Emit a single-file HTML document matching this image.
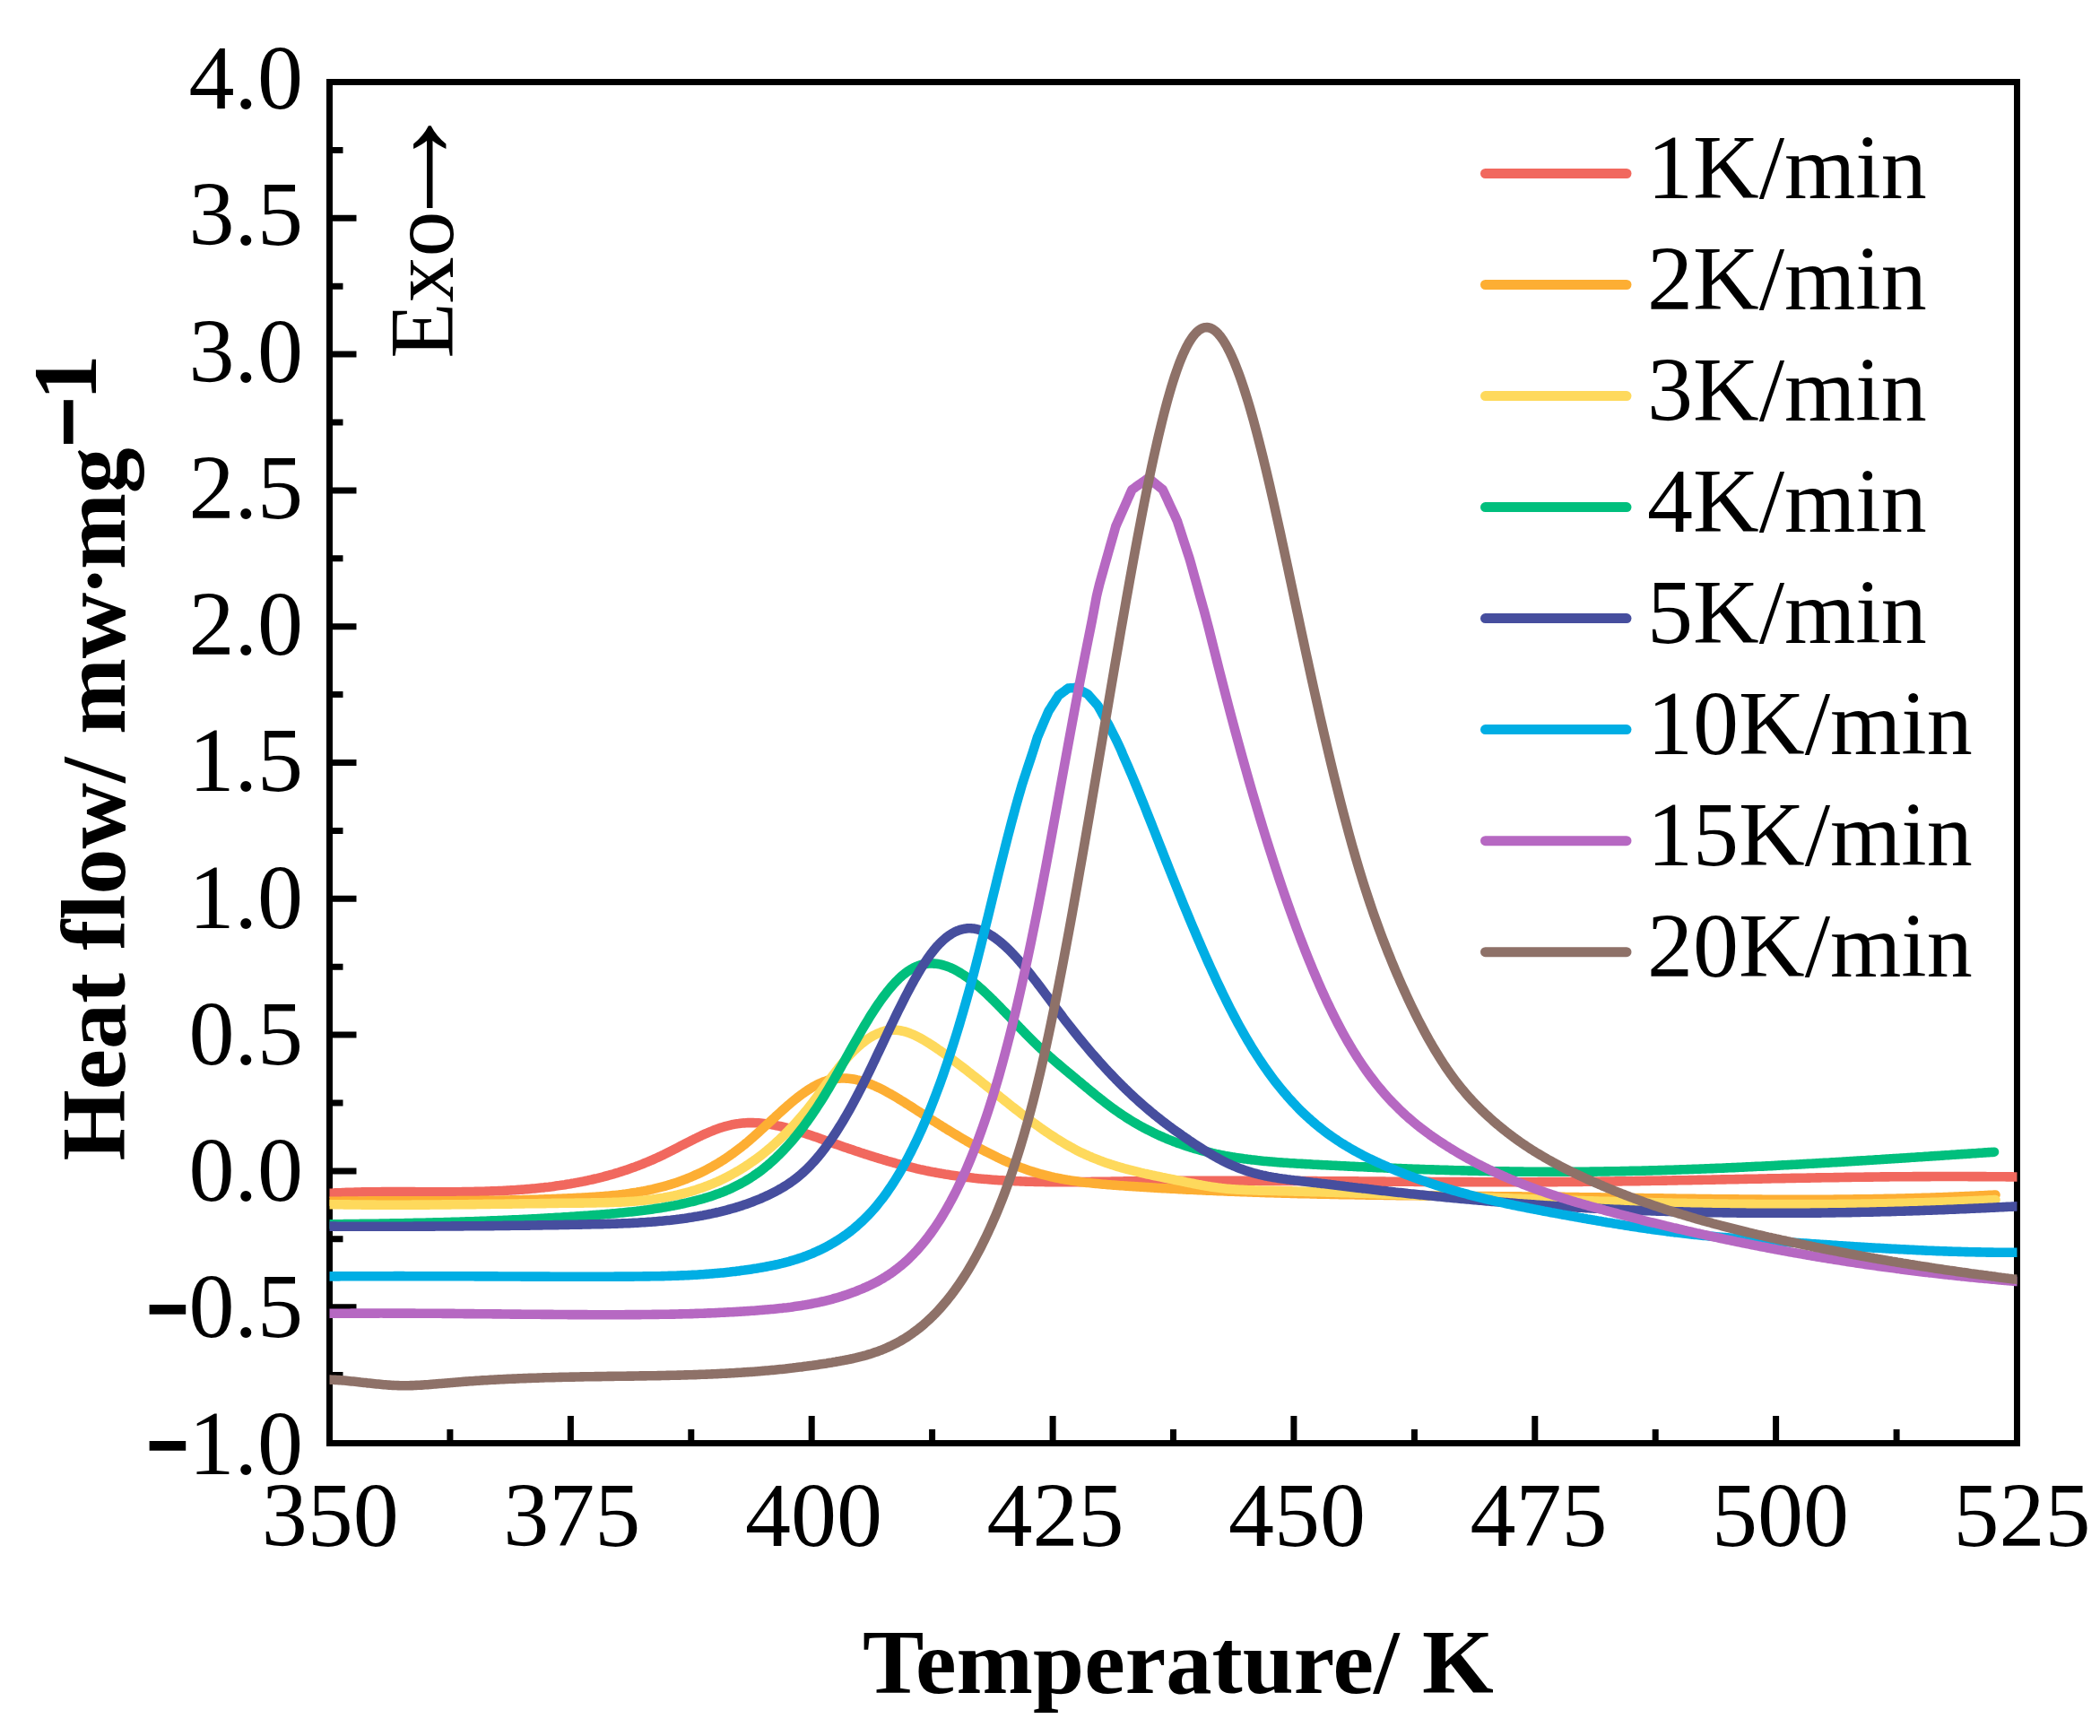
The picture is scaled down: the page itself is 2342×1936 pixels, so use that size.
<!DOCTYPE html>
<html lang="en"><head><meta charset="utf-8"><title>DSC heat flow curves</title>
<style>html,body{margin:0;padding:0;background:#fff}body{width:2342px;height:1936px;overflow:hidden}svg{display:block}text{font-family:"Liberation Serif","Times New Roman",serif;font-size:102px;fill:#000}.b{font-weight:bold}</style></head><body>
<svg width="2342" height="1936" viewBox="0 0 2342 1936">
<rect width="2342" height="1936" fill="#fff"/>
<g stroke="#000" stroke-width="7" fill="none" stroke-linecap="butt">
<rect x="367.5" y="91.5" width="1882.0" height="1518.0"/>
<path d="M367.5 1609.5 V1579.0 M501.9 1609.5 V1594.0 M636.4 1609.5 V1579.0 M770.8 1609.5 V1594.0 M905.2 1609.5 V1579.0 M1039.6 1609.5 V1594.0 M1174.1 1609.5 V1579.0 M1308.5 1609.5 V1594.0 M1442.9 1609.5 V1579.0 M1577.4 1609.5 V1594.0 M1711.8 1609.5 V1579.0 M1846.2 1609.5 V1594.0 M1980.6 1609.5 V1579.0 M2115.1 1609.5 V1594.0 M2249.5 1609.5 V1579.0 M367.5 1609.5 H397.5 M367.5 1533.6 H382.5 M367.5 1457.7 H397.5 M367.5 1381.8 H382.5 M367.5 1305.9 H397.5 M367.5 1230.0 H382.5 M367.5 1154.1 H397.5 M367.5 1078.2 H382.5 M367.5 1002.3 H397.5 M367.5 926.4 H382.5 M367.5 850.5 H397.5 M367.5 774.6 H382.5 M367.5 698.7 H397.5 M367.5 622.8 H382.5 M367.5 546.9 H397.5 M367.5 471.0 H382.5 M367.5 395.1 H397.5 M367.5 319.2 H382.5 M367.5 243.3 H397.5 M367.5 167.4 H382.5 M367.5 91.5 H397.5"/>
</g>
<defs><clipPath id="c"><rect x="367.5" y="91.5" width="1882.0" height="1518.0"/></clipPath></defs>
<g clip-path="url(#c)" fill="none" stroke-width="10.6" stroke-linecap="round" stroke-linejoin="round">
<path d="M360.0 1331.3 L362.0 1331.1 L364.0 1331.0 L366.0 1330.9 L368.0 1330.8 L370.0 1330.7 L372.0 1330.5 L374.0 1330.4 L376.0 1330.4 L378.0 1330.3 L380.0 1330.2 L382.0 1330.1 L384.0 1330.0 L386.0 1329.9 L388.0 1329.9 L390.0 1329.8 L392.0 1329.7 L394.0 1329.7 L396.0 1329.6 L398.0 1329.6 L400.0 1329.5 L402.0 1329.5 L404.0 1329.4 L406.0 1329.4 L408.0 1329.4 L410.0 1329.3 L412.0 1329.3 L414.0 1329.3 L416.0 1329.2 L418.0 1329.2 L420.0 1329.2 L422.0 1329.2 L424.0 1329.2 L426.0 1329.1 L428.0 1329.1 L430.0 1329.1 L432.0 1329.1 L434.0 1329.1 L436.0 1329.1 L438.0 1329.1 L440.0 1329.1 L442.0 1329.1 L444.0 1329.1 L446.0 1329.1 L448.0 1329.1 L450.0 1329.1 L452.0 1329.1 L454.0 1329.1 L456.0 1329.1 L458.0 1329.1 L460.0 1329.1 L462.0 1329.1 L464.0 1329.2 L466.0 1329.2 L468.0 1329.2 L470.0 1329.2 L472.0 1329.2 L474.0 1329.2 L476.0 1329.2 L478.0 1329.2 L480.0 1329.2 L482.0 1329.2 L484.0 1329.2 L486.0 1329.2 L488.0 1329.2 L490.0 1329.2 L492.0 1329.2 L494.0 1329.2 L496.0 1329.2 L498.0 1329.2 L500.0 1329.2 L502.0 1329.2 L504.0 1329.2 L506.0 1329.2 L508.0 1329.2 L510.0 1329.2 L512.0 1329.2 L514.0 1329.2 L516.0 1329.1 L518.0 1329.1 L520.0 1329.1 L522.0 1329.1 L524.0 1329.0 L526.0 1329.0 L528.0 1329.0 L530.0 1328.9 L532.0 1328.9 L534.0 1328.9 L536.0 1328.8 L538.0 1328.8 L540.0 1328.7 L542.0 1328.6 L544.0 1328.6 L546.0 1328.5 L548.0 1328.4 L550.0 1328.4 L552.0 1328.3 L554.0 1328.2 L556.0 1328.1 L558.0 1328.0 L560.0 1328.0 L562.0 1327.9 L564.0 1327.8 L566.0 1327.6 L568.0 1327.5 L570.0 1327.4 L572.0 1327.3 L574.0 1327.2 L576.0 1327.0 L578.0 1326.9 L580.0 1326.8 L582.0 1326.6 L584.0 1326.5 L586.0 1326.3 L588.0 1326.1 L590.0 1326.0 L592.0 1325.8 L594.0 1325.6 L596.0 1325.4 L598.0 1325.2 L600.0 1325.0 L602.0 1324.8 L604.0 1324.6 L606.0 1324.4 L608.0 1324.1 L610.0 1323.9 L612.0 1323.7 L614.0 1323.4 L616.0 1323.2 L618.0 1322.9 L620.0 1322.6 L622.0 1322.3 L624.0 1322.1 L626.0 1321.8 L628.0 1321.5 L630.0 1321.2 L632.0 1320.8 L634.0 1320.5 L636.0 1320.2 L638.0 1319.8 L640.0 1319.5 L642.0 1319.1 L644.0 1318.8 L646.0 1318.4 L648.0 1318.0 L650.0 1317.6 L652.0 1317.2 L654.0 1316.8 L656.0 1316.3 L658.0 1315.9 L660.0 1315.5 L662.0 1315.0 L664.0 1314.5 L666.0 1314.1 L668.0 1313.6 L670.0 1313.1 L672.0 1312.6 L674.0 1312.0 L676.0 1311.5 L678.0 1311.0 L680.0 1310.4 L682.0 1309.8 L684.0 1309.3 L686.0 1308.7 L688.0 1308.1 L690.0 1307.5 L692.0 1306.8 L694.0 1306.2 L696.0 1305.5 L698.0 1304.9 L700.0 1304.2 L702.0 1303.5 L704.0 1302.8 L706.0 1302.1 L708.0 1301.4 L710.0 1300.6 L712.0 1299.9 L714.0 1299.1 L716.0 1298.3 L718.0 1297.5 L720.0 1296.7 L722.0 1295.9 L724.0 1295.0 L726.0 1294.2 L728.0 1293.3 L730.0 1292.4 L732.0 1291.5 L734.0 1290.6 L736.0 1289.7 L738.0 1288.7 L740.0 1287.8 L742.0 1286.8 L744.0 1285.8 L746.0 1284.8 L748.0 1283.8 L750.0 1282.8 L752.0 1281.7 L754.0 1280.7 L756.0 1279.7 L758.0 1278.6 L760.0 1277.6 L762.0 1276.6 L764.0 1275.5 L766.0 1274.5 L768.0 1273.5 L770.0 1272.5 L772.0 1271.4 L774.0 1270.4 L776.0 1269.5 L778.0 1268.5 L780.0 1267.5 L782.0 1266.6 L784.0 1265.6 L786.0 1264.7 L788.0 1263.8 L790.0 1263.0 L792.0 1262.1 L794.0 1261.3 L796.0 1260.5 L798.0 1259.7 L800.0 1259.0 L802.0 1258.3 L804.0 1257.6 L806.0 1257.0 L808.0 1256.4 L810.0 1255.8 L812.0 1255.3 L814.0 1254.8 L816.0 1254.3 L818.0 1253.9 L820.0 1253.6 L822.0 1253.2 L824.0 1253.0 L826.0 1252.7 L828.0 1252.5 L830.0 1252.4 L832.0 1252.2 L834.0 1252.1 L836.0 1252.1 L838.0 1252.1 L840.0 1252.1 L842.0 1252.2 L844.0 1252.3 L846.0 1252.4 L848.0 1252.5 L850.0 1252.7 L852.0 1252.9 L854.0 1253.2 L856.0 1253.4 L858.0 1253.7 L860.0 1254.1 L862.0 1254.4 L864.0 1254.8 L866.0 1255.2 L868.0 1255.6 L870.0 1256.0 L872.0 1256.5 L874.0 1257.0 L876.0 1257.5 L878.0 1258.0 L880.0 1258.5 L882.0 1259.1 L884.0 1259.7 L886.0 1260.2 L888.0 1260.8 L890.0 1261.5 L892.0 1262.1 L894.0 1262.7 L896.0 1263.4 L898.0 1264.0 L900.0 1264.7 L902.0 1265.4 L904.0 1266.0 L906.0 1266.7 L908.0 1267.4 L910.0 1268.1 L912.0 1268.8 L914.0 1269.5 L916.0 1270.3 L918.0 1271.0 L920.0 1271.7 L922.0 1272.4 L924.0 1273.1 L926.0 1273.8 L928.0 1274.5 L930.0 1275.2 L932.0 1275.9 L934.0 1276.6 L936.0 1277.3 L938.0 1278.0 L940.0 1278.7 L942.0 1279.4 L944.0 1280.1 L946.0 1280.8 L948.0 1281.4 L950.0 1282.1 L952.0 1282.8 L954.0 1283.5 L956.0 1284.1 L958.0 1284.8 L960.0 1285.5 L962.0 1286.1 L964.0 1286.8 L966.0 1287.4 L968.0 1288.0 L970.0 1288.7 L972.0 1289.3 L974.0 1289.9 L976.0 1290.6 L978.0 1291.2 L980.0 1291.8 L982.0 1292.4 L984.0 1293.0 L986.0 1293.6 L988.0 1294.2 L990.0 1294.8 L992.0 1295.3 L994.0 1295.9 L996.0 1296.5 L998.0 1297.0 L1000.0 1297.6 L1002.0 1298.1 L1004.0 1298.7 L1006.0 1299.2 L1008.0 1299.7 L1010.0 1300.2 L1012.0 1300.7 L1014.0 1301.2 L1016.0 1301.7 L1018.0 1302.2 L1020.0 1302.7 L1022.0 1303.2 L1024.0 1303.6 L1026.0 1304.1 L1028.0 1304.5 L1030.0 1304.9 L1032.0 1305.4 L1034.0 1305.8 L1036.0 1306.2 L1038.0 1306.6 L1040.0 1307.0 L1042.0 1307.3 L1044.0 1307.7 L1046.0 1308.1 L1048.0 1308.4 L1050.0 1308.8 L1052.0 1309.1 L1054.0 1309.5 L1056.0 1309.8 L1058.0 1310.1 L1060.0 1310.4 L1062.0 1310.7 L1064.0 1311.0 L1066.0 1311.3 L1068.0 1311.6 L1070.0 1311.8 L1072.0 1312.1 L1074.0 1312.4 L1076.0 1312.6 L1078.0 1312.9 L1080.0 1313.1 L1082.0 1313.3 L1084.0 1313.5 L1086.0 1313.8 L1088.0 1314.0 L1090.0 1314.2 L1092.0 1314.4 L1094.0 1314.6 L1096.0 1314.7 L1098.0 1314.9 L1100.0 1315.1 L1102.0 1315.3 L1104.0 1315.4 L1106.0 1315.6 L1108.0 1315.7 L1110.0 1315.9 L1112.0 1316.0 L1114.0 1316.2 L1116.0 1316.3 L1118.0 1316.4 L1120.0 1316.5 L1122.0 1316.6 L1124.0 1316.8 L1126.0 1316.9 L1128.0 1317.0 L1130.0 1317.0 L1132.0 1317.1 L1134.0 1317.2 L1136.0 1317.3 L1138.0 1317.4 L1140.0 1317.5 L1142.0 1317.5 L1144.0 1317.6 L1146.0 1317.7 L1148.0 1317.7 L1150.0 1317.8 L1152.0 1317.8 L1154.0 1317.9 L1156.0 1317.9 L1158.0 1317.9 L1160.0 1318.0 L1162.0 1318.0 L1164.0 1318.0 L1166.0 1318.1 L1168.0 1318.1 L1170.0 1318.1 L1172.0 1318.1 L1174.0 1318.1 L1176.0 1318.1 L1178.0 1318.2 L1180.0 1318.2 L1182.0 1318.2 L1184.0 1318.2 L1186.0 1318.2 L1188.0 1318.2 L1190.0 1318.2 L1192.0 1318.2 L1194.0 1318.1 L1196.0 1318.1 L1198.0 1318.1 L1200.0 1318.1 L1202.0 1318.1 L1204.0 1318.1 L1206.0 1318.1 L1208.0 1318.0 L1210.0 1318.0 L1212.0 1318.0 L1214.0 1318.0 L1216.0 1318.0 L1218.0 1317.9 L1220.0 1317.9 L1222.0 1317.9 L1224.0 1317.9 L1226.0 1317.8 L1228.0 1317.8 L1230.0 1317.8 L1232.0 1317.7 L1234.0 1317.7 L1236.0 1317.7 L1238.0 1317.7 L1240.0 1317.6 L1242.0 1317.6 L1244.0 1317.6 L1246.0 1317.5 L1248.0 1317.5 L1250.0 1317.5 L1252.0 1317.5 L1254.0 1317.4 L1256.0 1317.4 L1258.0 1317.4 L1260.0 1317.4 L1262.0 1317.3 L1264.0 1317.3 L1266.0 1317.3 L1268.0 1317.3 L1270.0 1317.3 L1272.0 1317.2 L1274.0 1317.2 L1276.0 1317.2 L1278.0 1317.2 L1280.0 1317.2 L1282.0 1317.1 L1284.0 1317.1 L1286.0 1317.1 L1288.0 1317.1 L1290.0 1317.1 L1292.0 1317.1 L1294.0 1317.0 L1296.0 1317.0 L1298.0 1317.0 L1300.0 1317.0 L1302.0 1317.0 L1304.0 1317.0 L1306.0 1317.0 L1308.0 1316.9 L1310.0 1316.9 L1312.0 1316.9 L1314.0 1316.9 L1316.0 1316.9 L1318.0 1316.9 L1320.0 1316.9 L1322.0 1316.9 L1324.0 1316.9 L1326.0 1316.9 L1328.0 1316.9 L1330.0 1316.9 L1332.0 1316.8 L1334.0 1316.8 L1336.0 1316.8 L1338.0 1316.8 L1340.0 1316.8 L1342.0 1316.8 L1344.0 1316.8 L1346.0 1316.8 L1348.0 1316.8 L1350.0 1316.8 L1352.0 1316.8 L1354.0 1316.8 L1356.0 1316.8 L1358.0 1316.8 L1360.0 1316.8 L1362.0 1316.8 L1364.0 1316.8 L1366.0 1316.8 L1368.0 1316.8 L1370.0 1316.8 L1372.0 1316.8 L1374.0 1316.8 L1376.0 1316.8 L1378.0 1316.8 L1380.0 1316.8 L1382.0 1316.8 L1384.0 1316.8 L1386.0 1316.8 L1388.0 1316.8 L1390.0 1316.8 L1392.0 1316.8 L1394.0 1316.8 L1396.0 1316.8 L1398.0 1316.8 L1400.0 1316.8 L1402.0 1316.8 L1404.0 1316.9 L1406.0 1316.9 L1408.0 1316.9 L1410.0 1316.9 L1412.0 1316.9 L1414.0 1316.9 L1416.0 1316.9 L1418.0 1316.9 L1420.0 1316.9 L1422.0 1316.9 L1424.0 1316.9 L1426.0 1316.9 L1428.0 1316.9 L1430.0 1317.0 L1432.0 1317.0 L1434.0 1317.0 L1436.0 1317.0 L1438.0 1317.0 L1440.0 1317.0 L1442.0 1317.0 L1444.0 1317.0 L1446.0 1317.0 L1448.0 1317.0 L1450.0 1317.0 L1452.0 1317.1 L1454.0 1317.1 L1456.0 1317.1 L1458.0 1317.1 L1460.0 1317.1 L1462.0 1317.1 L1464.0 1317.1 L1466.0 1317.1 L1468.0 1317.1 L1470.0 1317.2 L1472.0 1317.2 L1474.0 1317.2 L1476.0 1317.2 L1478.0 1317.2 L1480.0 1317.2 L1482.0 1317.2 L1484.0 1317.2 L1486.0 1317.3 L1488.0 1317.3 L1490.0 1317.3 L1492.0 1317.3 L1494.0 1317.3 L1496.0 1317.3 L1498.0 1317.3 L1500.0 1317.3 L1502.0 1317.4 L1504.0 1317.4 L1506.0 1317.4 L1508.0 1317.4 L1510.0 1317.4 L1512.0 1317.4 L1514.0 1317.4 L1516.0 1317.5 L1518.0 1317.5 L1520.0 1317.5 L1522.0 1317.5 L1524.0 1317.5 L1526.0 1317.5 L1528.0 1317.5 L1530.0 1317.5 L1532.0 1317.6 L1534.0 1317.6 L1536.0 1317.6 L1538.0 1317.6 L1540.0 1317.6 L1542.0 1317.6 L1544.0 1317.6 L1546.0 1317.7 L1548.0 1317.7 L1550.0 1317.7 L1552.0 1317.7 L1554.0 1317.7 L1556.0 1317.7 L1558.0 1317.7 L1560.0 1317.7 L1562.0 1317.8 L1564.0 1317.8 L1566.0 1317.8 L1568.0 1317.8 L1570.0 1317.8 L1572.0 1317.8 L1574.0 1317.8 L1576.0 1317.8 L1578.0 1317.9 L1580.0 1317.9 L1582.0 1317.9 L1584.0 1317.9 L1586.0 1317.9 L1588.0 1317.9 L1590.0 1317.9 L1592.0 1317.9 L1594.0 1317.9 L1596.0 1318.0 L1598.0 1318.0 L1600.0 1318.0 L1602.0 1318.0 L1604.0 1318.0 L1606.0 1318.0 L1608.0 1318.0 L1610.0 1318.0 L1612.0 1318.0 L1614.0 1318.0 L1616.0 1318.1 L1618.0 1318.1 L1620.0 1318.1 L1622.0 1318.1 L1624.0 1318.1 L1626.0 1318.1 L1628.0 1318.1 L1630.0 1318.1 L1632.0 1318.1 L1634.0 1318.1 L1636.0 1318.1 L1638.0 1318.1 L1640.0 1318.1 L1642.0 1318.1 L1644.0 1318.2 L1646.0 1318.2 L1648.0 1318.2 L1650.0 1318.2 L1652.0 1318.2 L1654.0 1318.2 L1656.0 1318.2 L1658.0 1318.2 L1660.0 1318.2 L1662.0 1318.2 L1664.0 1318.2 L1666.0 1318.2 L1668.0 1318.2 L1670.0 1318.2 L1672.0 1318.2 L1674.0 1318.2 L1676.0 1318.2 L1678.0 1318.2 L1680.0 1318.2 L1682.0 1318.2 L1684.0 1318.2 L1686.0 1318.2 L1688.0 1318.2 L1690.0 1318.2 L1692.0 1318.2 L1694.0 1318.2 L1696.0 1318.2 L1698.0 1318.2 L1700.0 1318.2 L1702.0 1318.2 L1704.0 1318.2 L1706.0 1318.2 L1708.0 1318.2 L1710.0 1318.2 L1712.0 1318.2 L1714.0 1318.2 L1716.0 1318.1 L1718.0 1318.1 L1720.0 1318.1 L1722.0 1318.1 L1724.0 1318.1 L1726.0 1318.1 L1728.0 1318.1 L1730.0 1318.1 L1732.0 1318.1 L1734.0 1318.1 L1736.0 1318.1 L1738.0 1318.0 L1740.0 1318.0 L1742.0 1318.0 L1744.0 1318.0 L1746.0 1318.0 L1748.0 1318.0 L1750.0 1318.0 L1752.0 1318.0 L1754.0 1317.9 L1756.0 1317.9 L1758.0 1317.9 L1760.0 1317.9 L1762.0 1317.9 L1764.0 1317.9 L1766.0 1317.8 L1768.0 1317.8 L1770.0 1317.8 L1772.0 1317.8 L1774.0 1317.8 L1776.0 1317.7 L1778.0 1317.7 L1780.0 1317.7 L1782.0 1317.7 L1784.0 1317.7 L1786.0 1317.6 L1788.0 1317.6 L1790.0 1317.6 L1792.0 1317.6 L1794.0 1317.5 L1796.0 1317.5 L1798.0 1317.5 L1800.0 1317.5 L1802.0 1317.4 L1804.0 1317.4 L1806.0 1317.4 L1808.0 1317.4 L1810.0 1317.3 L1812.0 1317.3 L1814.0 1317.3 L1816.0 1317.2 L1818.0 1317.2 L1820.0 1317.2 L1822.0 1317.2 L1824.0 1317.1 L1826.0 1317.1 L1828.0 1317.1 L1830.0 1317.0 L1832.0 1317.0 L1834.0 1317.0 L1836.0 1316.9 L1838.0 1316.9 L1840.0 1316.9 L1842.0 1316.8 L1844.0 1316.8 L1846.0 1316.8 L1848.0 1316.7 L1850.0 1316.7 L1852.0 1316.7 L1854.0 1316.6 L1856.0 1316.6 L1858.0 1316.6 L1860.0 1316.5 L1862.0 1316.5 L1864.0 1316.5 L1866.0 1316.4 L1868.0 1316.4 L1870.0 1316.4 L1872.0 1316.3 L1874.0 1316.3 L1876.0 1316.3 L1878.0 1316.2 L1880.0 1316.2 L1882.0 1316.2 L1884.0 1316.1 L1886.0 1316.1 L1888.0 1316.0 L1890.0 1316.0 L1892.0 1316.0 L1894.0 1315.9 L1896.0 1315.9 L1898.0 1315.9 L1900.0 1315.8 L1902.0 1315.8 L1904.0 1315.7 L1906.0 1315.7 L1908.0 1315.7 L1910.0 1315.6 L1912.0 1315.6 L1914.0 1315.5 L1916.0 1315.5 L1918.0 1315.5 L1920.0 1315.4 L1922.0 1315.4 L1924.0 1315.4 L1926.0 1315.3 L1928.0 1315.3 L1930.0 1315.2 L1932.0 1315.2 L1934.0 1315.2 L1936.0 1315.1 L1938.0 1315.1 L1940.0 1315.0 L1942.0 1315.0 L1944.0 1315.0 L1946.0 1314.9 L1948.0 1314.9 L1950.0 1314.8 L1952.0 1314.8 L1954.0 1314.8 L1956.0 1314.7 L1958.0 1314.7 L1960.0 1314.7 L1962.0 1314.6 L1964.0 1314.6 L1966.0 1314.5 L1968.0 1314.5 L1970.0 1314.5 L1972.0 1314.4 L1974.0 1314.4 L1976.0 1314.3 L1978.0 1314.3 L1980.0 1314.3 L1982.0 1314.2 L1984.0 1314.2 L1986.0 1314.2 L1988.0 1314.1 L1990.0 1314.1 L1992.0 1314.0 L1994.0 1314.0 L1996.0 1314.0 L1998.0 1313.9 L2000.0 1313.9 L2002.0 1313.9 L2004.0 1313.8 L2006.0 1313.8 L2008.0 1313.8 L2010.0 1313.7 L2012.0 1313.7 L2014.0 1313.7 L2016.0 1313.6 L2018.0 1313.6 L2020.0 1313.5 L2022.0 1313.5 L2024.0 1313.5 L2026.0 1313.4 L2028.0 1313.4 L2030.0 1313.4 L2032.0 1313.3 L2034.0 1313.3 L2036.0 1313.3 L2038.0 1313.3 L2040.0 1313.2 L2042.0 1313.2 L2044.0 1313.2 L2046.0 1313.1 L2048.0 1313.1 L2050.0 1313.1 L2052.0 1313.0 L2054.0 1313.0 L2056.0 1313.0 L2058.0 1312.9 L2060.0 1312.9 L2062.0 1312.9 L2064.0 1312.9 L2066.0 1312.8 L2068.0 1312.8 L2070.0 1312.8 L2072.0 1312.8 L2074.0 1312.7 L2076.0 1312.7 L2078.0 1312.7 L2080.0 1312.6 L2082.0 1312.6 L2084.0 1312.6 L2086.0 1312.6 L2088.0 1312.6 L2090.0 1312.5 L2092.0 1312.5 L2094.0 1312.5 L2096.0 1312.5 L2098.0 1312.4 L2100.0 1312.4 L2102.0 1312.4 L2104.0 1312.4 L2106.0 1312.4 L2108.0 1312.3 L2110.0 1312.3 L2112.0 1312.3 L2114.0 1312.3 L2116.0 1312.3 L2118.0 1312.3 L2120.0 1312.2 L2122.0 1312.2 L2124.0 1312.2 L2126.0 1312.2 L2128.0 1312.2 L2130.0 1312.2 L2132.0 1312.2 L2134.0 1312.1 L2136.0 1312.1 L2138.0 1312.1 L2140.0 1312.1 L2142.0 1312.1 L2144.0 1312.1 L2146.0 1312.1 L2148.0 1312.1 L2150.0 1312.1 L2152.0 1312.1 L2154.0 1312.0 L2156.0 1312.0 L2158.0 1312.0 L2160.0 1312.0 L2162.0 1312.0 L2164.0 1312.0 L2166.0 1312.0 L2168.0 1312.0 L2170.0 1312.0 L2172.0 1312.0 L2174.0 1312.0 L2176.0 1312.0 L2178.0 1312.0 L2180.0 1312.0 L2182.0 1312.0 L2184.0 1312.0 L2186.0 1312.0 L2188.0 1312.0 L2190.0 1312.0 L2192.0 1312.0 L2194.0 1312.0 L2196.0 1312.1 L2198.0 1312.1 L2200.0 1312.1 L2202.0 1312.1 L2204.0 1312.1 L2206.0 1312.1 L2208.0 1312.1 L2210.0 1312.1 L2212.0 1312.1 L2214.0 1312.1 L2216.0 1312.2 L2218.0 1312.2 L2220.0 1312.2 L2222.0 1312.2 L2224.0 1312.2 L2226.0 1312.2 L2228.0 1312.3 L2230.0 1312.3 L2232.0 1312.3 L2234.0 1312.3 L2236.0 1312.3 L2238.0 1312.4 L2240.0 1312.4 L2242.0 1312.4 L2244.0 1312.4 L2246.0 1312.5 L2248.0 1312.5 L2250.0 1312.5 L2252.0 1312.6 L2254.0 1312.6 L2256.0 1312.6 L2258.0 1312.7 L2260.0 1312.7" stroke="#f1685e"/>
<path d="M360.0 1339.9 L362.0 1339.9 L364.0 1339.8 L366.0 1339.8 L368.0 1339.8 L370.0 1339.8 L372.0 1339.7 L374.0 1339.7 L376.0 1339.7 L378.0 1339.7 L380.0 1339.7 L382.0 1339.6 L384.0 1339.6 L386.0 1339.6 L388.0 1339.6 L390.0 1339.6 L392.0 1339.6 L394.0 1339.5 L396.0 1339.5 L398.0 1339.5 L400.0 1339.5 L402.0 1339.5 L404.0 1339.5 L406.0 1339.5 L408.0 1339.5 L410.0 1339.4 L412.0 1339.4 L414.0 1339.4 L416.0 1339.4 L418.0 1339.4 L420.0 1339.4 L422.0 1339.4 L424.0 1339.4 L426.0 1339.4 L428.0 1339.4 L430.0 1339.4 L432.0 1339.4 L434.0 1339.4 L436.0 1339.4 L438.0 1339.4 L440.0 1339.4 L442.0 1339.3 L444.0 1339.3 L446.0 1339.3 L448.0 1339.3 L450.0 1339.3 L452.0 1339.3 L454.0 1339.3 L456.0 1339.3 L458.0 1339.3 L460.0 1339.3 L462.0 1339.3 L464.0 1339.3 L466.0 1339.3 L468.0 1339.3 L470.0 1339.3 L472.0 1339.3 L474.0 1339.3 L476.0 1339.3 L478.0 1339.3 L480.0 1339.3 L482.0 1339.3 L484.0 1339.3 L486.0 1339.3 L488.0 1339.2 L490.0 1339.2 L492.0 1339.2 L494.0 1339.2 L496.0 1339.2 L498.0 1339.2 L500.0 1339.2 L502.0 1339.2 L504.0 1339.2 L506.0 1339.2 L508.0 1339.2 L510.0 1339.1 L512.0 1339.1 L514.0 1339.1 L516.0 1339.1 L518.0 1339.1 L520.0 1339.1 L522.0 1339.1 L524.0 1339.0 L526.0 1339.0 L528.0 1339.0 L530.0 1339.0 L532.0 1339.0 L534.0 1339.0 L536.0 1338.9 L538.0 1338.9 L540.0 1338.9 L542.0 1338.9 L544.0 1338.8 L546.0 1338.8 L548.0 1338.8 L550.0 1338.8 L552.0 1338.7 L554.0 1338.7 L556.0 1338.7 L558.0 1338.6 L560.0 1338.6 L562.0 1338.6 L564.0 1338.5 L566.0 1338.5 L568.0 1338.5 L570.0 1338.4 L572.0 1338.4 L574.0 1338.3 L576.0 1338.3 L578.0 1338.3 L580.0 1338.2 L582.0 1338.2 L584.0 1338.1 L586.0 1338.1 L588.0 1338.0 L590.0 1338.0 L592.0 1337.9 L594.0 1337.8 L596.0 1337.8 L598.0 1337.7 L600.0 1337.7 L602.0 1337.6 L604.0 1337.5 L606.0 1337.5 L608.0 1337.4 L610.0 1337.3 L612.0 1337.3 L614.0 1337.2 L616.0 1337.1 L618.0 1337.1 L620.0 1337.0 L622.0 1336.9 L624.0 1336.8 L626.0 1336.7 L628.0 1336.6 L630.0 1336.6 L632.0 1336.5 L634.0 1336.4 L636.0 1336.3 L638.0 1336.2 L640.0 1336.1 L642.0 1336.0 L644.0 1335.9 L646.0 1335.8 L648.0 1335.7 L650.0 1335.6 L652.0 1335.5 L654.0 1335.4 L656.0 1335.2 L658.0 1335.1 L660.0 1335.0 L662.0 1334.9 L664.0 1334.7 L666.0 1334.6 L668.0 1334.5 L670.0 1334.3 L672.0 1334.2 L674.0 1334.0 L676.0 1333.8 L678.0 1333.7 L680.0 1333.5 L682.0 1333.3 L684.0 1333.1 L686.0 1332.9 L688.0 1332.7 L690.0 1332.5 L692.0 1332.2 L694.0 1332.0 L696.0 1331.7 L698.0 1331.5 L700.0 1331.2 L702.0 1330.9 L704.0 1330.6 L706.0 1330.3 L708.0 1330.0 L710.0 1329.7 L712.0 1329.3 L714.0 1329.0 L716.0 1328.6 L718.0 1328.3 L720.0 1327.9 L722.0 1327.5 L724.0 1327.0 L726.0 1326.6 L728.0 1326.2 L730.0 1325.7 L732.0 1325.2 L734.0 1324.7 L736.0 1324.2 L738.0 1323.7 L740.0 1323.2 L742.0 1322.6 L744.0 1322.0 L746.0 1321.4 L748.0 1320.8 L750.0 1320.2 L752.0 1319.6 L754.0 1318.9 L756.0 1318.2 L758.0 1317.5 L760.0 1316.8 L762.0 1316.0 L764.0 1315.3 L766.0 1314.5 L768.0 1313.7 L770.0 1312.9 L772.0 1312.0 L774.0 1311.1 L776.0 1310.2 L778.0 1309.3 L780.0 1308.4 L782.0 1307.4 L784.0 1306.4 L786.0 1305.4 L788.0 1304.4 L790.0 1303.3 L792.0 1302.3 L794.0 1301.2 L796.0 1300.0 L798.0 1298.9 L800.0 1297.7 L802.0 1296.5 L804.0 1295.2 L806.0 1294.0 L808.0 1292.7 L810.0 1291.4 L812.0 1290.0 L814.0 1288.6 L816.0 1287.2 L818.0 1285.8 L820.0 1284.3 L822.0 1282.8 L824.0 1281.3 L826.0 1279.8 L828.0 1278.2 L830.0 1276.6 L832.0 1274.9 L834.0 1273.3 L836.0 1271.6 L838.0 1269.8 L840.0 1268.1 L842.0 1266.3 L844.0 1264.5 L846.0 1262.7 L848.0 1260.9 L850.0 1259.0 L852.0 1257.2 L854.0 1255.3 L856.0 1253.5 L858.0 1251.6 L860.0 1249.8 L862.0 1247.9 L864.0 1246.1 L866.0 1244.2 L868.0 1242.4 L870.0 1240.6 L872.0 1238.8 L874.0 1237.0 L876.0 1235.2 L878.0 1233.4 L880.0 1231.7 L882.0 1230.0 L884.0 1228.3 L886.0 1226.7 L888.0 1225.1 L890.0 1223.5 L892.0 1222.0 L894.0 1220.5 L896.0 1219.1 L898.0 1217.7 L900.0 1216.3 L902.0 1215.0 L904.0 1213.7 L906.0 1212.5 L908.0 1211.4 L910.0 1210.3 L912.0 1209.3 L914.0 1208.3 L916.0 1207.5 L918.0 1206.6 L920.0 1205.9 L922.0 1205.2 L924.0 1204.6 L926.0 1204.1 L928.0 1203.7 L930.0 1203.3 L932.0 1203.0 L934.0 1202.7 L936.0 1202.6 L938.0 1202.5 L940.0 1202.5 L942.0 1202.5 L944.0 1202.6 L946.0 1202.7 L948.0 1202.9 L950.0 1203.2 L952.0 1203.5 L954.0 1203.9 L956.0 1204.4 L958.0 1204.8 L960.0 1205.4 L962.0 1206.0 L964.0 1206.6 L966.0 1207.3 L968.0 1208.0 L970.0 1208.7 L972.0 1209.5 L974.0 1210.4 L976.0 1211.2 L978.0 1212.2 L980.0 1213.1 L982.0 1214.1 L984.0 1215.1 L986.0 1216.1 L988.0 1217.2 L990.0 1218.3 L992.0 1219.4 L994.0 1220.5 L996.0 1221.7 L998.0 1222.8 L1000.0 1224.0 L1002.0 1225.2 L1004.0 1226.5 L1006.0 1227.7 L1008.0 1228.9 L1010.0 1230.2 L1012.0 1231.5 L1014.0 1232.7 L1016.0 1234.0 L1018.0 1235.3 L1020.0 1236.6 L1022.0 1237.9 L1024.0 1239.2 L1026.0 1240.4 L1028.0 1241.7 L1030.0 1243.0 L1032.0 1244.3 L1034.0 1245.6 L1036.0 1246.8 L1038.0 1248.1 L1040.0 1249.4 L1042.0 1250.6 L1044.0 1251.9 L1046.0 1253.1 L1048.0 1254.4 L1050.0 1255.6 L1052.0 1256.9 L1054.0 1258.1 L1056.0 1259.4 L1058.0 1260.6 L1060.0 1261.8 L1062.0 1263.0 L1064.0 1264.2 L1066.0 1265.4 L1068.0 1266.6 L1070.0 1267.8 L1072.0 1269.0 L1074.0 1270.2 L1076.0 1271.3 L1078.0 1272.5 L1080.0 1273.6 L1082.0 1274.8 L1084.0 1275.9 L1086.0 1277.0 L1088.0 1278.1 L1090.0 1279.2 L1092.0 1280.3 L1094.0 1281.4 L1096.0 1282.5 L1098.0 1283.5 L1100.0 1284.6 L1102.0 1285.6 L1104.0 1286.6 L1106.0 1287.6 L1108.0 1288.6 L1110.0 1289.6 L1112.0 1290.6 L1114.0 1291.5 L1116.0 1292.5 L1118.0 1293.4 L1120.0 1294.3 L1122.0 1295.2 L1124.0 1296.1 L1126.0 1296.9 L1128.0 1297.8 L1130.0 1298.6 L1132.0 1299.5 L1134.0 1300.3 L1136.0 1301.0 L1138.0 1301.8 L1140.0 1302.6 L1142.0 1303.3 L1144.0 1304.0 L1146.0 1304.7 L1148.0 1305.4 L1150.0 1306.1 L1152.0 1306.7 L1154.0 1307.3 L1156.0 1307.9 L1158.0 1308.5 L1160.0 1309.1 L1162.0 1309.6 L1164.0 1310.2 L1166.0 1310.7 L1168.0 1311.2 L1170.0 1311.7 L1172.0 1312.2 L1174.0 1312.6 L1176.0 1313.1 L1178.0 1313.5 L1180.0 1313.9 L1182.0 1314.3 L1184.0 1314.7 L1186.0 1315.1 L1188.0 1315.4 L1190.0 1315.8 L1192.0 1316.1 L1194.0 1316.4 L1196.0 1316.7 L1198.0 1317.0 L1200.0 1317.3 L1202.0 1317.6 L1204.0 1317.9 L1206.0 1318.2 L1208.0 1318.4 L1210.0 1318.7 L1212.0 1318.9 L1214.0 1319.1 L1216.0 1319.3 L1218.0 1319.5 L1220.0 1319.8 L1222.0 1319.9 L1224.0 1320.1 L1226.0 1320.3 L1228.0 1320.5 L1230.0 1320.7 L1232.0 1320.8 L1234.0 1321.0 L1236.0 1321.2 L1238.0 1321.3 L1240.0 1321.5 L1242.0 1321.6 L1244.0 1321.8 L1246.0 1321.9 L1248.0 1322.1 L1250.0 1322.2 L1252.0 1322.3 L1254.0 1322.5 L1256.0 1322.6 L1258.0 1322.7 L1260.0 1322.9 L1262.0 1323.0 L1264.0 1323.1 L1266.0 1323.3 L1268.0 1323.4 L1270.0 1323.5 L1272.0 1323.6 L1274.0 1323.8 L1276.0 1323.9 L1278.0 1324.0 L1280.0 1324.1 L1282.0 1324.3 L1284.0 1324.4 L1286.0 1324.5 L1288.0 1324.6 L1290.0 1324.7 L1292.0 1324.9 L1294.0 1325.0 L1296.0 1325.1 L1298.0 1325.2 L1300.0 1325.3 L1302.0 1325.4 L1304.0 1325.5 L1306.0 1325.6 L1308.0 1325.7 L1310.0 1325.8 L1312.0 1325.9 L1314.0 1326.1 L1316.0 1326.2 L1318.0 1326.3 L1320.0 1326.4 L1322.0 1326.5 L1324.0 1326.6 L1326.0 1326.7 L1328.0 1326.8 L1330.0 1326.8 L1332.0 1326.9 L1334.0 1327.0 L1336.0 1327.1 L1338.0 1327.2 L1340.0 1327.3 L1342.0 1327.4 L1344.0 1327.5 L1346.0 1327.6 L1348.0 1327.7 L1350.0 1327.8 L1352.0 1327.8 L1354.0 1327.9 L1356.0 1328.0 L1358.0 1328.1 L1360.0 1328.2 L1362.0 1328.3 L1364.0 1328.3 L1366.0 1328.4 L1368.0 1328.5 L1370.0 1328.6 L1372.0 1328.7 L1374.0 1328.7 L1376.0 1328.8 L1378.0 1328.9 L1380.0 1329.0 L1382.0 1329.0 L1384.0 1329.1 L1386.0 1329.2 L1388.0 1329.3 L1390.0 1329.3 L1392.0 1329.4 L1394.0 1329.5 L1396.0 1329.5 L1398.0 1329.6 L1400.0 1329.7 L1402.0 1329.7 L1404.0 1329.8 L1406.0 1329.9 L1408.0 1329.9 L1410.0 1330.0 L1412.0 1330.1 L1414.0 1330.1 L1416.0 1330.2 L1418.0 1330.2 L1420.0 1330.3 L1422.0 1330.4 L1424.0 1330.4 L1426.0 1330.5 L1428.0 1330.5 L1430.0 1330.6 L1432.0 1330.6 L1434.0 1330.7 L1436.0 1330.7 L1438.0 1330.8 L1440.0 1330.9 L1442.0 1330.9 L1444.0 1331.0 L1446.0 1331.0 L1448.0 1331.1 L1450.0 1331.1 L1452.0 1331.2 L1454.0 1331.2 L1456.0 1331.3 L1458.0 1331.3 L1460.0 1331.3 L1462.0 1331.4 L1464.0 1331.4 L1466.0 1331.5 L1468.0 1331.5 L1470.0 1331.6 L1472.0 1331.6 L1474.0 1331.7 L1476.0 1331.7 L1478.0 1331.7 L1480.0 1331.8 L1482.0 1331.8 L1484.0 1331.9 L1486.0 1331.9 L1488.0 1331.9 L1490.0 1332.0 L1492.0 1332.0 L1494.0 1332.1 L1496.0 1332.1 L1498.0 1332.1 L1500.0 1332.2 L1502.0 1332.2 L1504.0 1332.2 L1506.0 1332.3 L1508.0 1332.3 L1510.0 1332.3 L1512.0 1332.4 L1514.0 1332.4 L1516.0 1332.4 L1518.0 1332.5 L1520.0 1332.5 L1522.0 1332.5 L1524.0 1332.6 L1526.0 1332.6 L1528.0 1332.6 L1530.0 1332.7 L1532.0 1332.7 L1534.0 1332.7 L1536.0 1332.8 L1538.0 1332.8 L1540.0 1332.8 L1542.0 1332.8 L1544.0 1332.9 L1546.0 1332.9 L1548.0 1332.9 L1550.0 1333.0 L1552.0 1333.0 L1554.0 1333.0 L1556.0 1333.0 L1558.0 1333.1 L1560.0 1333.1 L1562.0 1333.1 L1564.0 1333.1 L1566.0 1333.2 L1568.0 1333.2 L1570.0 1333.2 L1572.0 1333.2 L1574.0 1333.3 L1576.0 1333.3 L1578.0 1333.3 L1580.0 1333.3 L1582.0 1333.3 L1584.0 1333.4 L1586.0 1333.4 L1588.0 1333.4 L1590.0 1333.4 L1592.0 1333.5 L1594.0 1333.5 L1596.0 1333.5 L1598.0 1333.5 L1600.0 1333.5 L1602.0 1333.6 L1604.0 1333.6 L1606.0 1333.6 L1608.0 1333.6 L1610.0 1333.6 L1612.0 1333.7 L1614.0 1333.7 L1616.0 1333.7 L1618.0 1333.7 L1620.0 1333.7 L1622.0 1333.8 L1624.0 1333.8 L1626.0 1333.8 L1628.0 1333.8 L1630.0 1333.8 L1632.0 1333.8 L1634.0 1333.9 L1636.0 1333.9 L1638.0 1333.9 L1640.0 1333.9 L1642.0 1333.9 L1644.0 1334.0 L1646.0 1334.0 L1648.0 1334.0 L1650.0 1334.0 L1652.0 1334.0 L1654.0 1334.1 L1656.0 1334.1 L1658.0 1334.1 L1660.0 1334.1 L1662.0 1334.1 L1664.0 1334.1 L1666.0 1334.2 L1668.0 1334.2 L1670.0 1334.2 L1672.0 1334.2 L1674.0 1334.2 L1676.0 1334.3 L1678.0 1334.3 L1680.0 1334.3 L1682.0 1334.3 L1684.0 1334.3 L1686.0 1334.3 L1688.0 1334.4 L1690.0 1334.4 L1692.0 1334.4 L1694.0 1334.4 L1696.0 1334.4 L1698.0 1334.5 L1700.0 1334.5 L1702.0 1334.5 L1704.0 1334.5 L1706.0 1334.5 L1708.0 1334.6 L1710.0 1334.6 L1712.0 1334.6 L1714.0 1334.6 L1716.0 1334.6 L1718.0 1334.7 L1720.0 1334.7 L1722.0 1334.7 L1724.0 1334.7 L1726.0 1334.7 L1728.0 1334.8 L1730.0 1334.8 L1732.0 1334.8 L1734.0 1334.8 L1736.0 1334.8 L1738.0 1334.9 L1740.0 1334.9 L1742.0 1334.9 L1744.0 1334.9 L1746.0 1335.0 L1748.0 1335.0 L1750.0 1335.0 L1752.0 1335.0 L1754.0 1335.1 L1756.0 1335.1 L1758.0 1335.1 L1760.0 1335.1 L1762.0 1335.2 L1764.0 1335.2 L1766.0 1335.2 L1768.0 1335.2 L1770.0 1335.3 L1772.0 1335.3 L1774.0 1335.3 L1776.0 1335.3 L1778.0 1335.4 L1780.0 1335.4 L1782.0 1335.4 L1784.0 1335.4 L1786.0 1335.5 L1788.0 1335.5 L1790.0 1335.5 L1792.0 1335.6 L1794.0 1335.6 L1796.0 1335.6 L1798.0 1335.6 L1800.0 1335.7 L1802.0 1335.7 L1804.0 1335.7 L1806.0 1335.8 L1808.0 1335.8 L1810.0 1335.8 L1812.0 1335.8 L1814.0 1335.9 L1816.0 1335.9 L1818.0 1335.9 L1820.0 1336.0 L1822.0 1336.0 L1824.0 1336.0 L1826.0 1336.0 L1828.0 1336.1 L1830.0 1336.1 L1832.0 1336.1 L1834.0 1336.2 L1836.0 1336.2 L1838.0 1336.2 L1840.0 1336.2 L1842.0 1336.3 L1844.0 1336.3 L1846.0 1336.3 L1848.0 1336.4 L1850.0 1336.4 L1852.0 1336.4 L1854.0 1336.4 L1856.0 1336.5 L1858.0 1336.5 L1860.0 1336.5 L1862.0 1336.6 L1864.0 1336.6 L1866.0 1336.6 L1868.0 1336.6 L1870.0 1336.7 L1872.0 1336.7 L1874.0 1336.7 L1876.0 1336.7 L1878.0 1336.8 L1880.0 1336.8 L1882.0 1336.8 L1884.0 1336.8 L1886.0 1336.9 L1888.0 1336.9 L1890.0 1336.9 L1892.0 1337.0 L1894.0 1337.0 L1896.0 1337.0 L1898.0 1337.0 L1900.0 1337.0 L1902.0 1337.1 L1904.0 1337.1 L1906.0 1337.1 L1908.0 1337.1 L1910.0 1337.2 L1912.0 1337.2 L1914.0 1337.2 L1916.0 1337.2 L1918.0 1337.3 L1920.0 1337.3 L1922.0 1337.3 L1924.0 1337.3 L1926.0 1337.3 L1928.0 1337.4 L1930.0 1337.4 L1932.0 1337.4 L1934.0 1337.4 L1936.0 1337.4 L1938.0 1337.4 L1940.0 1337.5 L1942.0 1337.5 L1944.0 1337.5 L1946.0 1337.5 L1948.0 1337.5 L1950.0 1337.5 L1952.0 1337.6 L1954.0 1337.6 L1956.0 1337.6 L1958.0 1337.6 L1960.0 1337.6 L1962.0 1337.6 L1964.0 1337.6 L1966.0 1337.7 L1968.0 1337.7 L1970.0 1337.7 L1972.0 1337.7 L1974.0 1337.7 L1976.0 1337.7 L1978.0 1337.7 L1980.0 1337.7 L1982.0 1337.7 L1984.0 1337.7 L1986.0 1337.7 L1988.0 1337.7 L1990.0 1337.8 L1992.0 1337.8 L1994.0 1337.8 L1996.0 1337.8 L1998.0 1337.8 L2000.0 1337.8 L2002.0 1337.8 L2004.0 1337.8 L2006.0 1337.8 L2008.0 1337.8 L2010.0 1337.8 L2012.0 1337.8 L2014.0 1337.8 L2016.0 1337.8 L2018.0 1337.8 L2020.0 1337.8 L2022.0 1337.8 L2024.0 1337.7 L2026.0 1337.7 L2028.0 1337.7 L2030.0 1337.7 L2032.0 1337.7 L2034.0 1337.7 L2036.0 1337.7 L2038.0 1337.7 L2040.0 1337.7 L2042.0 1337.7 L2044.0 1337.7 L2046.0 1337.6 L2048.0 1337.6 L2050.0 1337.6 L2052.0 1337.6 L2054.0 1337.6 L2056.0 1337.6 L2058.0 1337.5 L2060.0 1337.5 L2062.0 1337.5 L2064.0 1337.5 L2066.0 1337.5 L2068.0 1337.4 L2070.0 1337.4 L2072.0 1337.4 L2074.0 1337.4 L2076.0 1337.3 L2078.0 1337.3 L2080.0 1337.3 L2082.0 1337.3 L2084.0 1337.2 L2086.0 1337.2 L2088.0 1337.2 L2090.0 1337.1 L2092.0 1337.1 L2094.0 1337.1 L2096.0 1337.0 L2098.0 1337.0 L2100.0 1337.0 L2102.0 1336.9 L2104.0 1336.9 L2106.0 1336.9 L2108.0 1336.8 L2110.0 1336.8 L2112.0 1336.7 L2114.0 1336.7 L2116.0 1336.6 L2118.0 1336.6 L2120.0 1336.6 L2122.0 1336.5 L2124.0 1336.5 L2126.0 1336.4 L2128.0 1336.4 L2130.0 1336.3 L2132.0 1336.2 L2134.0 1336.2 L2136.0 1336.1 L2138.0 1336.1 L2140.0 1336.0 L2142.0 1336.0 L2144.0 1335.9 L2146.0 1335.9 L2148.0 1335.8 L2150.0 1335.7 L2152.0 1335.7 L2154.0 1335.6 L2156.0 1335.5 L2158.0 1335.5 L2160.0 1335.4 L2162.0 1335.3 L2164.0 1335.3 L2166.0 1335.2 L2168.0 1335.1 L2170.0 1335.0 L2172.0 1335.0 L2174.0 1334.9 L2176.0 1334.8 L2178.0 1334.7 L2180.0 1334.6 L2182.0 1334.6 L2184.0 1334.5 L2186.0 1334.4 L2188.0 1334.3 L2190.0 1334.2 L2192.0 1334.1 L2194.0 1334.1 L2196.0 1334.0 L2198.0 1333.9 L2200.0 1333.8 L2202.0 1333.7 L2204.0 1333.6 L2206.0 1333.5 L2208.0 1333.4 L2210.0 1333.3 L2212.0 1333.2 L2214.0 1333.1 L2216.0 1333.0 L2218.0 1332.9 L2220.0 1332.8 L2222.0 1332.7 L2224.0 1332.6 L2225.5 1332.5" stroke="#fdae33"/>
<path d="M360.0 1343.0 L362.0 1343.0 L364.0 1343.1 L366.0 1343.1 L368.0 1343.1 L370.0 1343.2 L372.0 1343.2 L374.0 1343.2 L376.0 1343.3 L378.0 1343.3 L380.0 1343.3 L382.0 1343.3 L384.0 1343.4 L386.0 1343.4 L388.0 1343.4 L390.0 1343.4 L392.0 1343.5 L394.0 1343.5 L396.0 1343.5 L398.0 1343.5 L400.0 1343.5 L402.0 1343.5 L404.0 1343.6 L406.0 1343.6 L408.0 1343.6 L410.0 1343.6 L412.0 1343.6 L414.0 1343.6 L416.0 1343.6 L418.0 1343.6 L420.0 1343.7 L422.0 1343.7 L424.0 1343.7 L426.0 1343.7 L428.0 1343.7 L430.0 1343.7 L432.0 1343.7 L434.0 1343.7 L436.0 1343.7 L438.0 1343.7 L440.0 1343.7 L442.0 1343.7 L444.0 1343.7 L446.0 1343.7 L448.0 1343.7 L450.0 1343.7 L452.0 1343.7 L454.0 1343.7 L456.0 1343.7 L458.0 1343.7 L460.0 1343.6 L462.0 1343.6 L464.0 1343.6 L466.0 1343.6 L468.0 1343.6 L470.0 1343.6 L472.0 1343.6 L474.0 1343.6 L476.0 1343.6 L478.0 1343.6 L480.0 1343.5 L482.0 1343.5 L484.0 1343.5 L486.0 1343.5 L488.0 1343.5 L490.0 1343.5 L492.0 1343.5 L494.0 1343.4 L496.0 1343.4 L498.0 1343.4 L500.0 1343.4 L502.0 1343.4 L504.0 1343.3 L506.0 1343.3 L508.0 1343.3 L510.0 1343.3 L512.0 1343.3 L514.0 1343.2 L516.0 1343.2 L518.0 1343.2 L520.0 1343.2 L522.0 1343.2 L524.0 1343.1 L526.0 1343.1 L528.0 1343.1 L530.0 1343.1 L532.0 1343.0 L534.0 1343.0 L536.0 1343.0 L538.0 1343.0 L540.0 1342.9 L542.0 1342.9 L544.0 1342.9 L546.0 1342.9 L548.0 1342.8 L550.0 1342.8 L552.0 1342.8 L554.0 1342.8 L556.0 1342.7 L558.0 1342.7 L560.0 1342.7 L562.0 1342.7 L564.0 1342.6 L566.0 1342.6 L568.0 1342.6 L570.0 1342.6 L572.0 1342.5 L574.0 1342.5 L576.0 1342.5 L578.0 1342.5 L580.0 1342.4 L582.0 1342.4 L584.0 1342.4 L586.0 1342.3 L588.0 1342.3 L590.0 1342.3 L592.0 1342.3 L594.0 1342.2 L596.0 1342.2 L598.0 1342.2 L600.0 1342.2 L602.0 1342.1 L604.0 1342.1 L606.0 1342.1 L608.0 1342.1 L610.0 1342.0 L612.0 1342.0 L614.0 1342.0 L616.0 1341.9 L618.0 1341.9 L620.0 1341.9 L622.0 1341.9 L624.0 1341.8 L626.0 1341.8 L628.0 1341.8 L630.0 1341.8 L632.0 1341.8 L634.0 1341.7 L636.0 1341.7 L638.0 1341.7 L640.0 1341.7 L642.0 1341.6 L644.0 1341.6 L646.0 1341.6 L648.0 1341.6 L650.0 1341.6 L652.0 1341.5 L654.0 1341.5 L656.0 1341.5 L658.0 1341.5 L660.0 1341.4 L662.0 1341.4 L664.0 1341.4 L666.0 1341.3 L668.0 1341.3 L670.0 1341.3 L672.0 1341.2 L674.0 1341.2 L676.0 1341.1 L678.0 1341.1 L680.0 1341.0 L682.0 1341.0 L684.0 1340.9 L686.0 1340.8 L688.0 1340.7 L690.0 1340.7 L692.0 1340.6 L694.0 1340.5 L696.0 1340.4 L698.0 1340.2 L700.0 1340.1 L702.0 1340.0 L704.0 1339.9 L706.0 1339.7 L708.0 1339.6 L710.0 1339.4 L712.0 1339.2 L714.0 1339.0 L716.0 1338.9 L718.0 1338.7 L720.0 1338.4 L722.0 1338.2 L724.0 1338.0 L726.0 1337.7 L728.0 1337.5 L730.0 1337.2 L732.0 1336.9 L734.0 1336.6 L736.0 1336.3 L738.0 1336.0 L740.0 1335.7 L742.0 1335.3 L744.0 1334.9 L746.0 1334.6 L748.0 1334.2 L750.0 1333.8 L752.0 1333.3 L754.0 1332.9 L756.0 1332.5 L758.0 1332.0 L760.0 1331.5 L762.0 1331.0 L764.0 1330.5 L766.0 1329.9 L768.0 1329.4 L770.0 1328.8 L772.0 1328.2 L774.0 1327.6 L776.0 1327.0 L778.0 1326.3 L780.0 1325.6 L782.0 1324.9 L784.0 1324.2 L786.0 1323.5 L788.0 1322.7 L790.0 1322.0 L792.0 1321.2 L794.0 1320.4 L796.0 1319.5 L798.0 1318.6 L800.0 1317.8 L802.0 1316.9 L804.0 1315.9 L806.0 1315.0 L808.0 1314.0 L810.0 1313.0 L812.0 1312.0 L814.0 1310.9 L816.0 1309.8 L818.0 1308.7 L820.0 1307.6 L822.0 1306.4 L824.0 1305.3 L826.0 1304.1 L828.0 1302.8 L830.0 1301.6 L832.0 1300.3 L834.0 1299.0 L836.0 1297.6 L838.0 1296.2 L840.0 1294.8 L842.0 1293.4 L844.0 1291.9 L846.0 1290.4 L848.0 1288.9 L850.0 1287.4 L852.0 1285.8 L854.0 1284.2 L856.0 1282.5 L858.0 1280.9 L860.0 1279.2 L862.0 1277.4 L864.0 1275.6 L866.0 1273.8 L868.0 1272.0 L870.0 1270.1 L872.0 1268.2 L874.0 1266.3 L876.0 1264.3 L878.0 1262.3 L880.0 1260.2 L882.0 1258.1 L884.0 1256.0 L886.0 1253.8 L888.0 1251.6 L890.0 1249.4 L892.0 1247.1 L894.0 1244.8 L896.0 1242.4 L898.0 1240.0 L900.0 1237.6 L902.0 1235.1 L904.0 1232.5 L906.0 1229.9 L908.0 1227.3 L910.0 1224.7 L912.0 1222.0 L914.0 1219.3 L916.0 1216.6 L918.0 1213.9 L920.0 1211.2 L922.0 1208.5 L924.0 1205.8 L926.0 1203.1 L928.0 1200.5 L930.0 1197.8 L932.0 1195.2 L934.0 1192.7 L936.0 1190.1 L938.0 1187.7 L940.0 1185.2 L942.0 1182.9 L944.0 1180.6 L946.0 1178.3 L948.0 1176.2 L950.0 1174.1 L952.0 1172.0 L954.0 1170.1 L956.0 1168.2 L958.0 1166.4 L960.0 1164.7 L962.0 1163.1 L964.0 1161.5 L966.0 1160.0 L968.0 1158.6 L970.0 1157.3 L972.0 1156.1 L974.0 1154.9 L976.0 1153.9 L978.0 1152.9 L980.0 1152.1 L982.0 1151.3 L984.0 1150.6 L986.0 1150.0 L988.0 1149.5 L990.0 1149.1 L992.0 1148.9 L994.0 1148.7 L996.0 1148.6 L998.0 1148.6 L1000.0 1148.7 L1002.0 1149.0 L1004.0 1149.3 L1006.0 1149.7 L1008.0 1150.1 L1010.0 1150.7 L1012.0 1151.3 L1014.0 1152.0 L1016.0 1152.8 L1018.0 1153.6 L1020.0 1154.5 L1022.0 1155.5 L1024.0 1156.5 L1026.0 1157.5 L1028.0 1158.6 L1030.0 1159.8 L1032.0 1161.0 L1034.0 1162.2 L1036.0 1163.4 L1038.0 1164.7 L1040.0 1166.0 L1042.0 1167.3 L1044.0 1168.7 L1046.0 1170.1 L1048.0 1171.4 L1050.0 1172.8 L1052.0 1174.2 L1054.0 1175.7 L1056.0 1177.1 L1058.0 1178.5 L1060.0 1180.0 L1062.0 1181.5 L1064.0 1183.0 L1066.0 1184.5 L1068.0 1186.0 L1070.0 1187.5 L1072.0 1189.0 L1074.0 1190.5 L1076.0 1192.1 L1078.0 1193.6 L1080.0 1195.2 L1082.0 1196.7 L1084.0 1198.3 L1086.0 1199.9 L1088.0 1201.5 L1090.0 1203.1 L1092.0 1204.6 L1094.0 1206.2 L1096.0 1207.8 L1098.0 1209.4 L1100.0 1211.0 L1102.0 1212.6 L1104.0 1214.2 L1106.0 1215.8 L1108.0 1217.4 L1110.0 1219.0 L1112.0 1220.6 L1114.0 1222.2 L1116.0 1223.8 L1118.0 1225.4 L1120.0 1227.0 L1122.0 1228.6 L1124.0 1230.2 L1126.0 1231.8 L1128.0 1233.4 L1130.0 1234.9 L1132.0 1236.5 L1134.0 1238.1 L1136.0 1239.6 L1138.0 1241.2 L1140.0 1242.7 L1142.0 1244.2 L1144.0 1245.7 L1146.0 1247.2 L1148.0 1248.7 L1150.0 1250.2 L1152.0 1251.7 L1154.0 1253.2 L1156.0 1254.6 L1158.0 1256.0 L1160.0 1257.5 L1162.0 1258.9 L1164.0 1260.3 L1166.0 1261.7 L1168.0 1263.0 L1170.0 1264.4 L1172.0 1265.7 L1174.0 1267.0 L1176.0 1268.3 L1178.0 1269.6 L1180.0 1270.9 L1182.0 1272.1 L1184.0 1273.3 L1186.0 1274.5 L1188.0 1275.7 L1190.0 1276.9 L1192.0 1278.0 L1194.0 1279.1 L1196.0 1280.2 L1198.0 1281.3 L1200.0 1282.4 L1202.0 1283.4 L1204.0 1284.4 L1206.0 1285.4 L1208.0 1286.3 L1210.0 1287.3 L1212.0 1288.2 L1214.0 1289.1 L1216.0 1289.9 L1218.0 1290.8 L1220.0 1291.6 L1222.0 1292.4 L1224.0 1293.2 L1226.0 1294.0 L1228.0 1294.7 L1230.0 1295.5 L1232.0 1296.2 L1234.0 1296.9 L1236.0 1297.6 L1238.0 1298.2 L1240.0 1298.9 L1242.0 1299.5 L1244.0 1300.2 L1246.0 1300.8 L1248.0 1301.4 L1250.0 1302.0 L1252.0 1302.5 L1254.0 1303.1 L1256.0 1303.6 L1258.0 1304.2 L1260.0 1304.7 L1262.0 1305.2 L1264.0 1305.7 L1266.0 1306.2 L1268.0 1306.7 L1270.0 1307.2 L1272.0 1307.7 L1274.0 1308.1 L1276.0 1308.6 L1278.0 1309.0 L1280.0 1309.5 L1282.0 1309.9 L1284.0 1310.3 L1286.0 1310.8 L1288.0 1311.2 L1290.0 1311.6 L1292.0 1312.0 L1294.0 1312.4 L1296.0 1312.9 L1298.0 1313.3 L1300.0 1313.7 L1302.0 1314.1 L1304.0 1314.5 L1306.0 1314.9 L1308.0 1315.3 L1310.0 1315.7 L1312.0 1316.1 L1314.0 1316.5 L1316.0 1316.9 L1318.0 1317.3 L1320.0 1317.7 L1322.0 1318.2 L1324.0 1318.6 L1326.0 1319.0 L1328.0 1319.4 L1330.0 1319.8 L1332.0 1320.2 L1334.0 1320.6 L1336.0 1321.0 L1338.0 1321.3 L1340.0 1321.7 L1342.0 1322.1 L1344.0 1322.4 L1346.0 1322.8 L1348.0 1323.1 L1350.0 1323.4 L1352.0 1323.7 L1354.0 1324.0 L1356.0 1324.3 L1358.0 1324.6 L1360.0 1324.8 L1362.0 1325.1 L1364.0 1325.3 L1366.0 1325.5 L1368.0 1325.7 L1370.0 1325.9 L1372.0 1326.0 L1374.0 1326.2 L1376.0 1326.3 L1378.0 1326.5 L1380.0 1326.6 L1382.0 1326.7 L1384.0 1326.8 L1386.0 1326.9 L1388.0 1327.0 L1390.0 1327.1 L1392.0 1327.2 L1394.0 1327.3 L1396.0 1327.3 L1398.0 1327.4 L1400.0 1327.5 L1402.0 1327.5 L1404.0 1327.6 L1406.0 1327.6 L1408.0 1327.7 L1410.0 1327.7 L1412.0 1327.8 L1414.0 1327.8 L1416.0 1327.8 L1418.0 1327.9 L1420.0 1327.9 L1422.0 1328.0 L1424.0 1328.0 L1426.0 1328.1 L1428.0 1328.1 L1430.0 1328.2 L1432.0 1328.2 L1434.0 1328.3 L1436.0 1328.3 L1438.0 1328.4 L1440.0 1328.4 L1442.0 1328.5 L1444.0 1328.6 L1446.0 1328.6 L1448.0 1328.7 L1450.0 1328.7 L1452.0 1328.8 L1454.0 1328.8 L1456.0 1328.9 L1458.0 1328.9 L1460.0 1329.0 L1462.0 1329.1 L1464.0 1329.1 L1466.0 1329.2 L1468.0 1329.2 L1470.0 1329.3 L1472.0 1329.3 L1474.0 1329.4 L1476.0 1329.5 L1478.0 1329.5 L1480.0 1329.6 L1482.0 1329.6 L1484.0 1329.7 L1486.0 1329.8 L1488.0 1329.8 L1490.0 1329.9 L1492.0 1329.9 L1494.0 1330.0 L1496.0 1330.1 L1498.0 1330.1 L1500.0 1330.2 L1502.0 1330.3 L1504.0 1330.3 L1506.0 1330.4 L1508.0 1330.4 L1510.0 1330.5 L1512.0 1330.6 L1514.0 1330.6 L1516.0 1330.7 L1518.0 1330.8 L1520.0 1330.8 L1522.0 1330.9 L1524.0 1331.0 L1526.0 1331.0 L1528.0 1331.1 L1530.0 1331.2 L1532.0 1331.2 L1534.0 1331.3 L1536.0 1331.4 L1538.0 1331.4 L1540.0 1331.5 L1542.0 1331.6 L1544.0 1331.6 L1546.0 1331.7 L1548.0 1331.8 L1550.0 1331.8 L1552.0 1331.9 L1554.0 1332.0 L1556.0 1332.0 L1558.0 1332.1 L1560.0 1332.2 L1562.0 1332.2 L1564.0 1332.3 L1566.0 1332.4 L1568.0 1332.4 L1570.0 1332.5 L1572.0 1332.6 L1574.0 1332.7 L1576.0 1332.7 L1578.0 1332.8 L1580.0 1332.9 L1582.0 1332.9 L1584.0 1333.0 L1586.0 1333.1 L1588.0 1333.1 L1590.0 1333.2 L1592.0 1333.3 L1594.0 1333.4 L1596.0 1333.4 L1598.0 1333.5 L1600.0 1333.6 L1602.0 1333.6 L1604.0 1333.7 L1606.0 1333.8 L1608.0 1333.9 L1610.0 1333.9 L1612.0 1334.0 L1614.0 1334.1 L1616.0 1334.1 L1618.0 1334.2 L1620.0 1334.3 L1622.0 1334.3 L1624.0 1334.4 L1626.0 1334.5 L1628.0 1334.6 L1630.0 1334.6 L1632.0 1334.7 L1634.0 1334.8 L1636.0 1334.8 L1638.0 1334.9 L1640.0 1335.0 L1642.0 1335.1 L1644.0 1335.1 L1646.0 1335.2 L1648.0 1335.3 L1650.0 1335.3 L1652.0 1335.4 L1654.0 1335.5 L1656.0 1335.5 L1658.0 1335.6 L1660.0 1335.7 L1662.0 1335.8 L1664.0 1335.8 L1666.0 1335.9 L1668.0 1336.0 L1670.0 1336.0 L1672.0 1336.1 L1674.0 1336.2 L1676.0 1336.2 L1678.0 1336.3 L1680.0 1336.4 L1682.0 1336.4 L1684.0 1336.5 L1686.0 1336.6 L1688.0 1336.7 L1690.0 1336.7 L1692.0 1336.8 L1694.0 1336.9 L1696.0 1336.9 L1698.0 1337.0 L1700.0 1337.1 L1702.0 1337.1 L1704.0 1337.2 L1706.0 1337.3 L1708.0 1337.3 L1710.0 1337.4 L1712.0 1337.5 L1714.0 1337.5 L1716.0 1337.6 L1718.0 1337.7 L1720.0 1337.7 L1722.0 1337.8 L1724.0 1337.8 L1726.0 1337.9 L1728.0 1338.0 L1730.0 1338.0 L1732.0 1338.1 L1734.0 1338.2 L1736.0 1338.2 L1738.0 1338.3 L1740.0 1338.4 L1742.0 1338.4 L1744.0 1338.5 L1746.0 1338.5 L1748.0 1338.6 L1750.0 1338.7 L1752.0 1338.7 L1754.0 1338.8 L1756.0 1338.8 L1758.0 1338.9 L1760.0 1339.0 L1762.0 1339.0 L1764.0 1339.1 L1766.0 1339.1 L1768.0 1339.2 L1770.0 1339.3 L1772.0 1339.3 L1774.0 1339.4 L1776.0 1339.4 L1778.0 1339.5 L1780.0 1339.6 L1782.0 1339.6 L1784.0 1339.7 L1786.0 1339.7 L1788.0 1339.8 L1790.0 1339.8 L1792.0 1339.9 L1794.0 1339.9 L1796.0 1340.0 L1798.0 1340.1 L1800.0 1340.1 L1802.0 1340.2 L1804.0 1340.2 L1806.0 1340.3 L1808.0 1340.3 L1810.0 1340.4 L1812.0 1340.4 L1814.0 1340.5 L1816.0 1340.5 L1818.0 1340.6 L1820.0 1340.6 L1822.0 1340.7 L1824.0 1340.7 L1826.0 1340.8 L1828.0 1340.8 L1830.0 1340.9 L1832.0 1340.9 L1834.0 1341.0 L1836.0 1341.0 L1838.0 1341.1 L1840.0 1341.1 L1842.0 1341.1 L1844.0 1341.2 L1846.0 1341.2 L1848.0 1341.3 L1850.0 1341.3 L1852.0 1341.4 L1854.0 1341.4 L1856.0 1341.5 L1858.0 1341.5 L1860.0 1341.5 L1862.0 1341.6 L1864.0 1341.6 L1866.0 1341.7 L1868.0 1341.7 L1870.0 1341.7 L1872.0 1341.8 L1874.0 1341.8 L1876.0 1341.9 L1878.0 1341.9 L1880.0 1341.9 L1882.0 1342.0 L1884.0 1342.0 L1886.0 1342.0 L1888.0 1342.1 L1890.0 1342.1 L1892.0 1342.1 L1894.0 1342.2 L1896.0 1342.2 L1898.0 1342.2 L1900.0 1342.3 L1902.0 1342.3 L1904.0 1342.3 L1906.0 1342.4 L1908.0 1342.4 L1910.0 1342.4 L1912.0 1342.5 L1914.0 1342.5 L1916.0 1342.5 L1918.0 1342.5 L1920.0 1342.6 L1922.0 1342.6 L1924.0 1342.6 L1926.0 1342.6 L1928.0 1342.7 L1930.0 1342.7 L1932.0 1342.7 L1934.0 1342.7 L1936.0 1342.8 L1938.0 1342.8 L1940.0 1342.8 L1942.0 1342.8 L1944.0 1342.8 L1946.0 1342.9 L1948.0 1342.9 L1950.0 1342.9 L1952.0 1342.9 L1954.0 1342.9 L1956.0 1342.9 L1958.0 1343.0 L1960.0 1343.0 L1962.0 1343.0 L1964.0 1343.0 L1966.0 1343.0 L1968.0 1343.0 L1970.0 1343.0 L1972.0 1343.0 L1974.0 1343.1 L1976.0 1343.1 L1978.0 1343.1 L1980.0 1343.1 L1982.0 1343.1 L1984.0 1343.1 L1986.0 1343.1 L1988.0 1343.1 L1990.0 1343.1 L1992.0 1343.1 L1994.0 1343.1 L1996.0 1343.1 L1998.0 1343.1 L2000.0 1343.1 L2002.0 1343.1 L2004.0 1343.1 L2006.0 1343.1 L2008.0 1343.1 L2010.0 1343.1 L2012.0 1343.1 L2014.0 1343.1 L2016.0 1343.1 L2018.0 1343.1 L2020.0 1343.1 L2022.0 1343.1 L2024.0 1343.1 L2026.0 1343.1 L2028.0 1343.1 L2030.0 1343.1 L2032.0 1343.1 L2034.0 1343.0 L2036.0 1343.0 L2038.0 1343.0 L2040.0 1343.0 L2042.0 1343.0 L2044.0 1343.0 L2046.0 1343.0 L2048.0 1343.0 L2050.0 1342.9 L2052.0 1342.9 L2054.0 1342.9 L2056.0 1342.9 L2058.0 1342.9 L2060.0 1342.8 L2062.0 1342.8 L2064.0 1342.8 L2066.0 1342.8 L2068.0 1342.8 L2070.0 1342.7 L2072.0 1342.7 L2074.0 1342.7 L2076.0 1342.6 L2078.0 1342.6 L2080.0 1342.6 L2082.0 1342.6 L2084.0 1342.5 L2086.0 1342.5 L2088.0 1342.5 L2090.0 1342.4 L2092.0 1342.4 L2094.0 1342.4 L2096.0 1342.3 L2098.0 1342.3 L2100.0 1342.3 L2102.0 1342.2 L2104.0 1342.2 L2106.0 1342.1 L2108.0 1342.1 L2110.0 1342.1 L2112.0 1342.0 L2114.0 1342.0 L2116.0 1341.9 L2118.0 1341.9 L2120.0 1341.8 L2122.0 1341.8 L2124.0 1341.7 L2126.0 1341.7 L2128.0 1341.6 L2130.0 1341.6 L2132.0 1341.5 L2134.0 1341.5 L2136.0 1341.4 L2138.0 1341.4 L2140.0 1341.3 L2142.0 1341.3 L2144.0 1341.2 L2146.0 1341.2 L2148.0 1341.1 L2150.0 1341.0 L2152.0 1341.0 L2154.0 1340.9 L2156.0 1340.9 L2158.0 1340.8 L2160.0 1340.7 L2162.0 1340.7 L2164.0 1340.6 L2166.0 1340.5 L2168.0 1340.5 L2170.0 1340.4 L2172.0 1340.3 L2174.0 1340.3 L2176.0 1340.2 L2178.0 1340.1 L2180.0 1340.0 L2182.0 1340.0 L2184.0 1339.9 L2186.0 1339.8 L2188.0 1339.7 L2190.0 1339.6 L2192.0 1339.6 L2194.0 1339.5 L2196.0 1339.4 L2198.0 1339.3 L2200.0 1339.2 L2202.0 1339.1 L2204.0 1339.1 L2206.0 1339.0 L2208.0 1338.9 L2210.0 1338.8 L2212.0 1338.7 L2214.0 1338.6 L2216.0 1338.5 L2218.0 1338.4 L2220.0 1338.3 L2222.0 1338.2 L2224.0 1338.1 L2225.5 1338.1" stroke="#fed95c"/>
<path d="M360.0 1365.4 L362.0 1365.4 L364.0 1365.4 L366.0 1365.3 L368.0 1365.3 L370.0 1365.3 L372.0 1365.3 L374.0 1365.3 L376.0 1365.2 L378.0 1365.2 L380.0 1365.2 L382.0 1365.2 L384.0 1365.1 L386.0 1365.1 L388.0 1365.1 L390.0 1365.1 L392.0 1365.1 L394.0 1365.0 L396.0 1365.0 L398.0 1365.0 L400.0 1365.0 L402.0 1364.9 L404.0 1364.9 L406.0 1364.9 L408.0 1364.9 L410.0 1364.8 L412.0 1364.8 L414.0 1364.8 L416.0 1364.7 L418.0 1364.7 L420.0 1364.7 L422.0 1364.7 L424.0 1364.6 L426.0 1364.6 L428.0 1364.6 L430.0 1364.5 L432.0 1364.5 L434.0 1364.5 L436.0 1364.4 L438.0 1364.4 L440.0 1364.4 L442.0 1364.3 L444.0 1364.3 L446.0 1364.3 L448.0 1364.2 L450.0 1364.2 L452.0 1364.1 L454.0 1364.1 L456.0 1364.1 L458.0 1364.0 L460.0 1364.0 L462.0 1363.9 L464.0 1363.9 L466.0 1363.9 L468.0 1363.8 L470.0 1363.8 L472.0 1363.7 L474.0 1363.7 L476.0 1363.6 L478.0 1363.6 L480.0 1363.5 L482.0 1363.5 L484.0 1363.4 L486.0 1363.4 L488.0 1363.3 L490.0 1363.3 L492.0 1363.2 L494.0 1363.2 L496.0 1363.1 L498.0 1363.1 L500.0 1363.0 L502.0 1363.0 L504.0 1362.9 L506.0 1362.9 L508.0 1362.8 L510.0 1362.7 L512.0 1362.7 L514.0 1362.6 L516.0 1362.6 L518.0 1362.5 L520.0 1362.4 L522.0 1362.4 L524.0 1362.3 L526.0 1362.2 L528.0 1362.2 L530.0 1362.1 L532.0 1362.0 L534.0 1362.0 L536.0 1361.9 L538.0 1361.8 L540.0 1361.7 L542.0 1361.7 L544.0 1361.6 L546.0 1361.5 L548.0 1361.4 L550.0 1361.4 L552.0 1361.3 L554.0 1361.2 L556.0 1361.1 L558.0 1361.0 L560.0 1361.0 L562.0 1360.9 L564.0 1360.8 L566.0 1360.7 L568.0 1360.6 L570.0 1360.5 L572.0 1360.4 L574.0 1360.3 L576.0 1360.3 L578.0 1360.2 L580.0 1360.1 L582.0 1360.0 L584.0 1359.9 L586.0 1359.8 L588.0 1359.7 L590.0 1359.6 L592.0 1359.5 L594.0 1359.4 L596.0 1359.3 L598.0 1359.2 L600.0 1359.1 L602.0 1359.0 L604.0 1358.8 L606.0 1358.7 L608.0 1358.6 L610.0 1358.5 L612.0 1358.4 L614.0 1358.3 L616.0 1358.2 L618.0 1358.0 L620.0 1357.9 L622.0 1357.8 L624.0 1357.7 L626.0 1357.6 L628.0 1357.4 L630.0 1357.3 L632.0 1357.2 L634.0 1357.1 L636.0 1356.9 L638.0 1356.8 L640.0 1356.7 L642.0 1356.5 L644.0 1356.4 L646.0 1356.3 L648.0 1356.1 L650.0 1356.0 L652.0 1355.8 L654.0 1355.7 L656.0 1355.6 L658.0 1355.4 L660.0 1355.3 L662.0 1355.1 L664.0 1355.0 L666.0 1354.8 L668.0 1354.7 L670.0 1354.5 L672.0 1354.4 L674.0 1354.2 L676.0 1354.0 L678.0 1353.9 L680.0 1353.7 L682.0 1353.5 L684.0 1353.4 L686.0 1353.2 L688.0 1353.0 L690.0 1352.8 L692.0 1352.6 L694.0 1352.4 L696.0 1352.2 L698.0 1352.0 L700.0 1351.8 L702.0 1351.6 L704.0 1351.4 L706.0 1351.2 L708.0 1351.0 L710.0 1350.8 L712.0 1350.5 L714.0 1350.3 L716.0 1350.0 L718.0 1349.8 L720.0 1349.5 L722.0 1349.3 L724.0 1349.0 L726.0 1348.7 L728.0 1348.4 L730.0 1348.1 L732.0 1347.8 L734.0 1347.5 L736.0 1347.2 L738.0 1346.9 L740.0 1346.5 L742.0 1346.2 L744.0 1345.8 L746.0 1345.5 L748.0 1345.1 L750.0 1344.7 L752.0 1344.4 L754.0 1344.0 L756.0 1343.6 L758.0 1343.2 L760.0 1342.7 L762.0 1342.3 L764.0 1341.8 L766.0 1341.4 L768.0 1340.9 L770.0 1340.4 L772.0 1340.0 L774.0 1339.5 L776.0 1339.0 L778.0 1338.4 L780.0 1337.9 L782.0 1337.3 L784.0 1336.8 L786.0 1336.2 L788.0 1335.6 L790.0 1335.0 L792.0 1334.4 L794.0 1333.7 L796.0 1333.0 L798.0 1332.3 L800.0 1331.6 L802.0 1330.9 L804.0 1330.1 L806.0 1329.4 L808.0 1328.6 L810.0 1327.7 L812.0 1326.9 L814.0 1326.0 L816.0 1325.1 L818.0 1324.1 L820.0 1323.1 L822.0 1322.1 L824.0 1321.1 L826.0 1320.0 L828.0 1318.9 L830.0 1317.8 L832.0 1316.6 L834.0 1315.4 L836.0 1314.2 L838.0 1312.9 L840.0 1311.6 L842.0 1310.2 L844.0 1308.8 L846.0 1307.4 L848.0 1305.9 L850.0 1304.4 L852.0 1302.8 L854.0 1301.2 L856.0 1299.6 L858.0 1297.9 L860.0 1296.1 L862.0 1294.3 L864.0 1292.5 L866.0 1290.6 L868.0 1288.6 L870.0 1286.7 L872.0 1284.6 L874.0 1282.5 L876.0 1280.4 L878.0 1278.2 L880.0 1276.0 L882.0 1273.7 L884.0 1271.4 L886.0 1269.0 L888.0 1266.6 L890.0 1264.1 L892.0 1261.6 L894.0 1259.0 L896.0 1256.4 L898.0 1253.7 L900.0 1251.0 L902.0 1248.2 L904.0 1245.4 L906.0 1242.5 L908.0 1239.6 L910.0 1236.6 L912.0 1233.5 L914.0 1230.4 L916.0 1227.3 L918.0 1224.1 L920.0 1220.9 L922.0 1217.6 L924.0 1214.2 L926.0 1210.8 L928.0 1207.4 L930.0 1204.0 L932.0 1200.5 L934.0 1197.0 L936.0 1193.4 L938.0 1189.9 L940.0 1186.3 L942.0 1182.7 L944.0 1179.1 L946.0 1175.5 L948.0 1172.0 L950.0 1168.4 L952.0 1164.8 L954.0 1161.3 L956.0 1157.8 L958.0 1154.3 L960.0 1150.8 L962.0 1147.4 L964.0 1144.0 L966.0 1140.7 L968.0 1137.4 L970.0 1134.1 L972.0 1130.9 L974.0 1127.8 L976.0 1124.8 L978.0 1121.8 L980.0 1118.8 L982.0 1116.0 L984.0 1113.2 L986.0 1110.5 L988.0 1107.9 L990.0 1105.3 L992.0 1102.9 L994.0 1100.5 L996.0 1098.2 L998.0 1096.0 L1000.0 1093.9 L1002.0 1091.9 L1004.0 1090.0 L1006.0 1088.2 L1008.0 1086.6 L1010.0 1085.0 L1012.0 1083.5 L1014.0 1082.2 L1016.0 1080.9 L1018.0 1079.8 L1020.0 1078.8 L1022.0 1077.9 L1024.0 1077.1 L1026.0 1076.4 L1028.0 1075.8 L1030.0 1075.4 L1032.0 1075.0 L1034.0 1074.7 L1036.0 1074.5 L1038.0 1074.4 L1040.0 1074.5 L1042.0 1074.6 L1044.0 1074.7 L1046.0 1075.0 L1048.0 1075.4 L1050.0 1075.8 L1052.0 1076.4 L1054.0 1077.0 L1056.0 1077.6 L1058.0 1078.4 L1060.0 1079.2 L1062.0 1080.1 L1064.0 1081.1 L1066.0 1082.1 L1068.0 1083.2 L1070.0 1084.4 L1072.0 1085.6 L1074.0 1086.9 L1076.0 1088.2 L1078.0 1089.6 L1080.0 1091.1 L1082.0 1092.6 L1084.0 1094.1 L1086.0 1095.7 L1088.0 1097.4 L1090.0 1099.0 L1092.0 1100.8 L1094.0 1102.5 L1096.0 1104.3 L1098.0 1106.1 L1100.0 1108.0 L1102.0 1109.9 L1104.0 1111.8 L1106.0 1113.8 L1108.0 1115.7 L1110.0 1117.7 L1112.0 1119.7 L1114.0 1121.8 L1116.0 1123.8 L1118.0 1125.9 L1120.0 1127.9 L1122.0 1130.0 L1124.0 1132.1 L1126.0 1134.2 L1128.0 1136.3 L1130.0 1138.4 L1132.0 1140.5 L1134.0 1142.6 L1136.0 1144.7 L1138.0 1146.8 L1140.0 1148.8 L1142.0 1150.9 L1144.0 1153.0 L1146.0 1155.0 L1148.0 1157.0 L1150.0 1159.0 L1152.0 1161.0 L1154.0 1163.0 L1156.0 1164.9 L1158.0 1166.8 L1160.0 1168.7 L1162.0 1170.5 L1164.0 1172.4 L1166.0 1174.2 L1168.0 1176.0 L1170.0 1177.8 L1172.0 1179.5 L1174.0 1181.3 L1176.0 1183.0 L1178.0 1184.7 L1180.0 1186.4 L1182.0 1188.1 L1184.0 1189.8 L1186.0 1191.5 L1188.0 1193.2 L1190.0 1194.8 L1192.0 1196.5 L1194.0 1198.1 L1196.0 1199.8 L1198.0 1201.5 L1200.0 1203.1 L1202.0 1204.8 L1204.0 1206.4 L1206.0 1208.1 L1208.0 1209.8 L1210.0 1211.4 L1212.0 1213.1 L1214.0 1214.7 L1216.0 1216.4 L1218.0 1218.0 L1220.0 1219.6 L1222.0 1221.3 L1224.0 1222.9 L1226.0 1224.5 L1228.0 1226.1 L1230.0 1227.6 L1232.0 1229.2 L1234.0 1230.7 L1236.0 1232.2 L1238.0 1233.7 L1240.0 1235.2 L1242.0 1236.7 L1244.0 1238.1 L1246.0 1239.5 L1248.0 1240.9 L1250.0 1242.3 L1252.0 1243.6 L1254.0 1244.9 L1256.0 1246.2 L1258.0 1247.5 L1260.0 1248.8 L1262.0 1250.0 L1264.0 1251.2 L1266.0 1252.4 L1268.0 1253.5 L1270.0 1254.7 L1272.0 1255.8 L1274.0 1256.9 L1276.0 1258.0 L1278.0 1259.0 L1280.0 1260.1 L1282.0 1261.1 L1284.0 1262.1 L1286.0 1263.1 L1288.0 1264.0 L1290.0 1265.0 L1292.0 1265.9 L1294.0 1266.8 L1296.0 1267.7 L1298.0 1268.6 L1300.0 1269.4 L1302.0 1270.3 L1304.0 1271.1 L1306.0 1271.9 L1308.0 1272.7 L1310.0 1273.4 L1312.0 1274.2 L1314.0 1274.9 L1316.0 1275.6 L1318.0 1276.3 L1320.0 1277.0 L1322.0 1277.7 L1324.0 1278.3 L1326.0 1279.0 L1328.0 1279.6 L1330.0 1280.2 L1332.0 1280.8 L1334.0 1281.4 L1336.0 1281.9 L1338.0 1282.5 L1340.0 1283.0 L1342.0 1283.5 L1344.0 1284.1 L1346.0 1284.5 L1348.0 1285.0 L1350.0 1285.5 L1352.0 1286.0 L1354.0 1286.4 L1356.0 1286.9 L1358.0 1287.3 L1360.0 1287.7 L1362.0 1288.1 L1364.0 1288.5 L1366.0 1288.9 L1368.0 1289.2 L1370.0 1289.6 L1372.0 1289.9 L1374.0 1290.3 L1376.0 1290.6 L1378.0 1290.9 L1380.0 1291.2 L1382.0 1291.5 L1384.0 1291.8 L1386.0 1292.1 L1388.0 1292.4 L1390.0 1292.6 L1392.0 1292.9 L1394.0 1293.1 L1396.0 1293.4 L1398.0 1293.6 L1400.0 1293.8 L1402.0 1294.1 L1404.0 1294.3 L1406.0 1294.5 L1408.0 1294.7 L1410.0 1294.9 L1412.0 1295.1 L1414.0 1295.3 L1416.0 1295.4 L1418.0 1295.6 L1420.0 1295.8 L1422.0 1295.9 L1424.0 1296.1 L1426.0 1296.2 L1428.0 1296.4 L1430.0 1296.5 L1432.0 1296.7 L1434.0 1296.8 L1436.0 1296.9 L1438.0 1297.1 L1440.0 1297.2 L1442.0 1297.3 L1444.0 1297.4 L1446.0 1297.6 L1448.0 1297.7 L1450.0 1297.8 L1452.0 1297.9 L1454.0 1298.0 L1456.0 1298.1 L1458.0 1298.2 L1460.0 1298.3 L1462.0 1298.4 L1464.0 1298.6 L1466.0 1298.7 L1468.0 1298.8 L1470.0 1298.9 L1472.0 1299.0 L1474.0 1299.1 L1476.0 1299.2 L1478.0 1299.3 L1480.0 1299.4 L1482.0 1299.5 L1484.0 1299.6 L1486.0 1299.7 L1488.0 1299.8 L1490.0 1299.9 L1492.0 1300.0 L1494.0 1300.1 L1496.0 1300.2 L1498.0 1300.3 L1500.0 1300.4 L1502.0 1300.5 L1504.0 1300.6 L1506.0 1300.7 L1508.0 1300.8 L1510.0 1300.9 L1512.0 1301.0 L1514.0 1301.1 L1516.0 1301.2 L1518.0 1301.3 L1520.0 1301.3 L1522.0 1301.4 L1524.0 1301.5 L1526.0 1301.6 L1528.0 1301.7 L1530.0 1301.8 L1532.0 1301.9 L1534.0 1302.0 L1536.0 1302.1 L1538.0 1302.2 L1540.0 1302.2 L1542.0 1302.3 L1544.0 1302.4 L1546.0 1302.5 L1548.0 1302.6 L1550.0 1302.7 L1552.0 1302.7 L1554.0 1302.8 L1556.0 1302.9 L1558.0 1303.0 L1560.0 1303.1 L1562.0 1303.1 L1564.0 1303.2 L1566.0 1303.3 L1568.0 1303.4 L1570.0 1303.5 L1572.0 1303.5 L1574.0 1303.6 L1576.0 1303.7 L1578.0 1303.8 L1580.0 1303.8 L1582.0 1303.9 L1584.0 1304.0 L1586.0 1304.0 L1588.0 1304.1 L1590.0 1304.2 L1592.0 1304.2 L1594.0 1304.3 L1596.0 1304.4 L1598.0 1304.4 L1600.0 1304.5 L1602.0 1304.6 L1604.0 1304.6 L1606.0 1304.7 L1608.0 1304.8 L1610.0 1304.8 L1612.0 1304.9 L1614.0 1304.9 L1616.0 1305.0 L1618.0 1305.1 L1620.0 1305.1 L1622.0 1305.2 L1624.0 1305.2 L1626.0 1305.3 L1628.0 1305.3 L1630.0 1305.4 L1632.0 1305.4 L1634.0 1305.5 L1636.0 1305.5 L1638.0 1305.6 L1640.0 1305.6 L1642.0 1305.7 L1644.0 1305.7 L1646.0 1305.8 L1648.0 1305.8 L1650.0 1305.9 L1652.0 1305.9 L1654.0 1306.0 L1656.0 1306.0 L1658.0 1306.0 L1660.0 1306.1 L1662.0 1306.1 L1664.0 1306.2 L1666.0 1306.2 L1668.0 1306.2 L1670.0 1306.3 L1672.0 1306.3 L1674.0 1306.3 L1676.0 1306.4 L1678.0 1306.4 L1680.0 1306.4 L1682.0 1306.4 L1684.0 1306.5 L1686.0 1306.5 L1688.0 1306.5 L1690.0 1306.6 L1692.0 1306.6 L1694.0 1306.6 L1696.0 1306.6 L1698.0 1306.6 L1700.0 1306.7 L1702.0 1306.7 L1704.0 1306.7 L1706.0 1306.7 L1708.0 1306.7 L1710.0 1306.7 L1712.0 1306.8 L1714.0 1306.8 L1716.0 1306.8 L1718.0 1306.8 L1720.0 1306.8 L1722.0 1306.8 L1724.0 1306.8 L1726.0 1306.8 L1728.0 1306.8 L1730.0 1306.8 L1732.0 1306.8 L1734.0 1306.8 L1736.0 1306.8 L1738.0 1306.8 L1740.0 1306.8 L1742.0 1306.8 L1744.0 1306.8 L1746.0 1306.8 L1748.0 1306.8 L1750.0 1306.8 L1752.0 1306.8 L1754.0 1306.8 L1756.0 1306.8 L1758.0 1306.8 L1760.0 1306.8 L1762.0 1306.7 L1764.0 1306.7 L1766.0 1306.7 L1768.0 1306.7 L1770.0 1306.7 L1772.0 1306.7 L1774.0 1306.6 L1776.0 1306.6 L1778.0 1306.6 L1780.0 1306.6 L1782.0 1306.5 L1784.0 1306.5 L1786.0 1306.5 L1788.0 1306.5 L1790.0 1306.4 L1792.0 1306.4 L1794.0 1306.4 L1796.0 1306.3 L1798.0 1306.3 L1800.0 1306.3 L1802.0 1306.2 L1804.0 1306.2 L1806.0 1306.2 L1808.0 1306.1 L1810.0 1306.1 L1812.0 1306.1 L1814.0 1306.0 L1816.0 1306.0 L1818.0 1305.9 L1820.0 1305.9 L1822.0 1305.8 L1824.0 1305.8 L1826.0 1305.8 L1828.0 1305.7 L1830.0 1305.7 L1832.0 1305.6 L1834.0 1305.6 L1836.0 1305.5 L1838.0 1305.5 L1840.0 1305.4 L1842.0 1305.4 L1844.0 1305.3 L1846.0 1305.2 L1848.0 1305.2 L1850.0 1305.1 L1852.0 1305.1 L1854.0 1305.0 L1856.0 1305.0 L1858.0 1304.9 L1860.0 1304.8 L1862.0 1304.8 L1864.0 1304.7 L1866.0 1304.7 L1868.0 1304.6 L1870.0 1304.5 L1872.0 1304.5 L1874.0 1304.4 L1876.0 1304.3 L1878.0 1304.3 L1880.0 1304.2 L1882.0 1304.1 L1884.0 1304.0 L1886.0 1304.0 L1888.0 1303.9 L1890.0 1303.8 L1892.0 1303.8 L1894.0 1303.7 L1896.0 1303.6 L1898.0 1303.5 L1900.0 1303.5 L1902.0 1303.4 L1904.0 1303.3 L1906.0 1303.2 L1908.0 1303.1 L1910.0 1303.1 L1912.0 1303.0 L1914.0 1302.9 L1916.0 1302.8 L1918.0 1302.7 L1920.0 1302.7 L1922.0 1302.6 L1924.0 1302.5 L1926.0 1302.4 L1928.0 1302.3 L1930.0 1302.2 L1932.0 1302.1 L1934.0 1302.1 L1936.0 1302.0 L1938.0 1301.9 L1940.0 1301.8 L1942.0 1301.7 L1944.0 1301.6 L1946.0 1301.5 L1948.0 1301.4 L1950.0 1301.3 L1952.0 1301.2 L1954.0 1301.1 L1956.0 1301.0 L1958.0 1300.9 L1960.0 1300.8 L1962.0 1300.8 L1964.0 1300.7 L1966.0 1300.6 L1968.0 1300.5 L1970.0 1300.4 L1972.0 1300.3 L1974.0 1300.2 L1976.0 1300.1 L1978.0 1300.0 L1980.0 1299.9 L1982.0 1299.8 L1984.0 1299.6 L1986.0 1299.5 L1988.0 1299.4 L1990.0 1299.3 L1992.0 1299.2 L1994.0 1299.1 L1996.0 1299.0 L1998.0 1298.9 L2000.0 1298.8 L2002.0 1298.7 L2004.0 1298.6 L2006.0 1298.5 L2008.0 1298.4 L2010.0 1298.3 L2012.0 1298.1 L2014.0 1298.0 L2016.0 1297.9 L2018.0 1297.8 L2020.0 1297.7 L2022.0 1297.6 L2024.0 1297.5 L2026.0 1297.4 L2028.0 1297.3 L2030.0 1297.1 L2032.0 1297.0 L2034.0 1296.9 L2036.0 1296.8 L2038.0 1296.7 L2040.0 1296.6 L2042.0 1296.4 L2044.0 1296.3 L2046.0 1296.2 L2048.0 1296.1 L2050.0 1296.0 L2052.0 1295.9 L2054.0 1295.7 L2056.0 1295.6 L2058.0 1295.5 L2060.0 1295.4 L2062.0 1295.3 L2064.0 1295.1 L2066.0 1295.0 L2068.0 1294.9 L2070.0 1294.8 L2072.0 1294.6 L2074.0 1294.5 L2076.0 1294.4 L2078.0 1294.3 L2080.0 1294.2 L2082.0 1294.0 L2084.0 1293.9 L2086.0 1293.8 L2088.0 1293.7 L2090.0 1293.5 L2092.0 1293.4 L2094.0 1293.3 L2096.0 1293.2 L2098.0 1293.0 L2100.0 1292.9 L2102.0 1292.8 L2104.0 1292.6 L2106.0 1292.5 L2108.0 1292.4 L2110.0 1292.3 L2112.0 1292.1 L2114.0 1292.0 L2116.0 1291.9 L2118.0 1291.7 L2120.0 1291.6 L2122.0 1291.5 L2124.0 1291.4 L2126.0 1291.2 L2128.0 1291.1 L2130.0 1291.0 L2132.0 1290.8 L2134.0 1290.7 L2136.0 1290.6 L2138.0 1290.4 L2140.0 1290.3 L2142.0 1290.2 L2144.0 1290.1 L2146.0 1289.9 L2148.0 1289.8 L2150.0 1289.7 L2152.0 1289.5 L2154.0 1289.4 L2156.0 1289.3 L2158.0 1289.1 L2160.0 1289.0 L2162.0 1288.9 L2164.0 1288.7 L2166.0 1288.6 L2168.0 1288.5 L2170.0 1288.3 L2172.0 1288.2 L2174.0 1288.1 L2176.0 1287.9 L2178.0 1287.8 L2180.0 1287.7 L2182.0 1287.5 L2184.0 1287.4 L2186.0 1287.3 L2188.0 1287.1 L2190.0 1287.0 L2192.0 1286.9 L2194.0 1286.7 L2196.0 1286.6 L2198.0 1286.5 L2200.0 1286.3 L2202.0 1286.2 L2204.0 1286.1 L2206.0 1285.9 L2208.0 1285.8 L2210.0 1285.7 L2212.0 1285.5 L2214.0 1285.4 L2216.0 1285.3 L2218.0 1285.1 L2220.0 1285.0 L2222.0 1284.9 L2224.0 1284.7" stroke="#00bf7d"/>
<path d="M360.0 1367.6 L362.0 1367.6 L364.0 1367.6 L366.0 1367.6 L368.0 1367.6 L370.0 1367.6 L372.0 1367.6 L374.0 1367.6 L376.0 1367.7 L378.0 1367.7 L380.0 1367.7 L382.0 1367.7 L384.0 1367.7 L386.0 1367.7 L388.0 1367.7 L390.0 1367.7 L392.0 1367.7 L394.0 1367.7 L396.0 1367.7 L398.0 1367.7 L400.0 1367.7 L402.0 1367.7 L404.0 1367.7 L406.0 1367.7 L408.0 1367.7 L410.0 1367.7 L412.0 1367.7 L414.0 1367.7 L416.0 1367.7 L418.0 1367.7 L420.0 1367.7 L422.0 1367.7 L424.0 1367.7 L426.0 1367.7 L428.0 1367.7 L430.0 1367.7 L432.0 1367.7 L434.0 1367.7 L436.0 1367.7 L438.0 1367.7 L440.0 1367.7 L442.0 1367.7 L444.0 1367.7 L446.0 1367.7 L448.0 1367.7 L450.0 1367.7 L452.0 1367.7 L454.0 1367.7 L456.0 1367.7 L458.0 1367.7 L460.0 1367.7 L462.0 1367.6 L464.0 1367.6 L466.0 1367.6 L468.0 1367.6 L470.0 1367.6 L472.0 1367.6 L474.0 1367.6 L476.0 1367.6 L478.0 1367.6 L480.0 1367.6 L482.0 1367.6 L484.0 1367.6 L486.0 1367.5 L488.0 1367.5 L490.0 1367.5 L492.0 1367.5 L494.0 1367.5 L496.0 1367.5 L498.0 1367.5 L500.0 1367.5 L502.0 1367.5 L504.0 1367.4 L506.0 1367.4 L508.0 1367.4 L510.0 1367.4 L512.0 1367.4 L514.0 1367.4 L516.0 1367.4 L518.0 1367.3 L520.0 1367.3 L522.0 1367.3 L524.0 1367.3 L526.0 1367.3 L528.0 1367.3 L530.0 1367.3 L532.0 1367.2 L534.0 1367.2 L536.0 1367.2 L538.0 1367.2 L540.0 1367.2 L542.0 1367.1 L544.0 1367.1 L546.0 1367.1 L548.0 1367.1 L550.0 1367.1 L552.0 1367.0 L554.0 1367.0 L556.0 1367.0 L558.0 1367.0 L560.0 1367.0 L562.0 1366.9 L564.0 1366.9 L566.0 1366.9 L568.0 1366.9 L570.0 1366.8 L572.0 1366.8 L574.0 1366.8 L576.0 1366.8 L578.0 1366.7 L580.0 1366.7 L582.0 1366.7 L584.0 1366.7 L586.0 1366.6 L588.0 1366.6 L590.0 1366.6 L592.0 1366.5 L594.0 1366.5 L596.0 1366.5 L598.0 1366.5 L600.0 1366.4 L602.0 1366.4 L604.0 1366.4 L606.0 1366.3 L608.0 1366.3 L610.0 1366.3 L612.0 1366.2 L614.0 1366.2 L616.0 1366.2 L618.0 1366.1 L620.0 1366.1 L622.0 1366.1 L624.0 1366.0 L626.0 1366.0 L628.0 1366.0 L630.0 1365.9 L632.0 1365.9 L634.0 1365.9 L636.0 1365.8 L638.0 1365.8 L640.0 1365.7 L642.0 1365.7 L644.0 1365.7 L646.0 1365.6 L648.0 1365.6 L650.0 1365.5 L652.0 1365.5 L654.0 1365.5 L656.0 1365.4 L658.0 1365.4 L660.0 1365.3 L662.0 1365.3 L664.0 1365.3 L666.0 1365.2 L668.0 1365.2 L670.0 1365.1 L672.0 1365.1 L674.0 1365.0 L676.0 1365.0 L678.0 1364.9 L680.0 1364.9 L682.0 1364.8 L684.0 1364.7 L686.0 1364.7 L688.0 1364.6 L690.0 1364.5 L692.0 1364.5 L694.0 1364.4 L696.0 1364.3 L698.0 1364.2 L700.0 1364.2 L702.0 1364.1 L704.0 1364.0 L706.0 1363.9 L708.0 1363.8 L710.0 1363.7 L712.0 1363.6 L714.0 1363.4 L716.0 1363.3 L718.0 1363.2 L720.0 1363.1 L722.0 1362.9 L724.0 1362.8 L726.0 1362.7 L728.0 1362.5 L730.0 1362.4 L732.0 1362.2 L734.0 1362.0 L736.0 1361.8 L738.0 1361.7 L740.0 1361.5 L742.0 1361.3 L744.0 1361.1 L746.0 1360.9 L748.0 1360.7 L750.0 1360.4 L752.0 1360.2 L754.0 1360.0 L756.0 1359.7 L758.0 1359.5 L760.0 1359.2 L762.0 1358.9 L764.0 1358.7 L766.0 1358.4 L768.0 1358.1 L770.0 1357.8 L772.0 1357.5 L774.0 1357.1 L776.0 1356.8 L778.0 1356.5 L780.0 1356.1 L782.0 1355.7 L784.0 1355.4 L786.0 1355.0 L788.0 1354.6 L790.0 1354.2 L792.0 1353.8 L794.0 1353.4 L796.0 1352.9 L798.0 1352.5 L800.0 1352.0 L802.0 1351.6 L804.0 1351.1 L806.0 1350.6 L808.0 1350.1 L810.0 1349.6 L812.0 1349.0 L814.0 1348.5 L816.0 1347.9 L818.0 1347.4 L820.0 1346.8 L822.0 1346.2 L824.0 1345.6 L826.0 1344.9 L828.0 1344.3 L830.0 1343.6 L832.0 1342.9 L834.0 1342.2 L836.0 1341.5 L838.0 1340.8 L840.0 1340.0 L842.0 1339.2 L844.0 1338.4 L846.0 1337.6 L848.0 1336.8 L850.0 1335.9 L852.0 1335.0 L854.0 1334.1 L856.0 1333.2 L858.0 1332.2 L860.0 1331.2 L862.0 1330.2 L864.0 1329.2 L866.0 1328.2 L868.0 1327.1 L870.0 1325.9 L872.0 1324.8 L874.0 1323.6 L876.0 1322.4 L878.0 1321.1 L880.0 1319.8 L882.0 1318.4 L884.0 1317.0 L886.0 1315.5 L888.0 1314.0 L890.0 1312.4 L892.0 1310.7 L894.0 1309.0 L896.0 1307.2 L898.0 1305.4 L900.0 1303.5 L902.0 1301.5 L904.0 1299.5 L906.0 1297.3 L908.0 1295.1 L910.0 1292.9 L912.0 1290.5 L914.0 1288.1 L916.0 1285.6 L918.0 1283.0 L920.0 1280.4 L922.0 1277.7 L924.0 1274.9 L926.0 1272.1 L928.0 1269.2 L930.0 1266.2 L932.0 1263.2 L934.0 1260.1 L936.0 1256.9 L938.0 1253.7 L940.0 1250.4 L942.0 1247.0 L944.0 1243.6 L946.0 1240.1 L948.0 1236.6 L950.0 1233.0 L952.0 1229.3 L954.0 1225.6 L956.0 1221.8 L958.0 1217.9 L960.0 1214.0 L962.0 1210.1 L964.0 1206.1 L966.0 1202.1 L968.0 1198.0 L970.0 1193.9 L972.0 1189.7 L974.0 1185.5 L976.0 1181.4 L978.0 1177.1 L980.0 1172.9 L982.0 1168.7 L984.0 1164.4 L986.0 1160.2 L988.0 1156.0 L990.0 1151.8 L992.0 1147.5 L994.0 1143.3 L996.0 1139.2 L998.0 1135.0 L1000.0 1130.9 L1002.0 1126.8 L1004.0 1122.8 L1006.0 1118.8 L1008.0 1114.8 L1010.0 1110.9 L1012.0 1107.1 L1014.0 1103.3 L1016.0 1099.5 L1018.0 1095.9 L1020.0 1092.3 L1022.0 1088.8 L1024.0 1085.4 L1026.0 1082.0 L1028.0 1078.8 L1030.0 1075.6 L1032.0 1072.6 L1034.0 1069.6 L1036.0 1066.8 L1038.0 1064.0 L1040.0 1061.4 L1042.0 1058.9 L1044.0 1056.6 L1046.0 1054.3 L1048.0 1052.2 L1050.0 1050.2 L1052.0 1048.4 L1054.0 1046.6 L1056.0 1045.0 L1058.0 1043.5 L1060.0 1042.2 L1062.0 1040.9 L1064.0 1039.8 L1066.0 1038.8 L1068.0 1037.9 L1070.0 1037.2 L1072.0 1036.6 L1074.0 1036.1 L1076.0 1035.7 L1078.0 1035.4 L1080.0 1035.3 L1082.0 1035.3 L1084.0 1035.4 L1086.0 1035.6 L1088.0 1035.9 L1090.0 1036.4 L1092.0 1036.9 L1094.0 1037.6 L1096.0 1038.3 L1098.0 1039.2 L1100.0 1040.1 L1102.0 1041.1 L1104.0 1042.3 L1106.0 1043.5 L1108.0 1044.8 L1110.0 1046.2 L1112.0 1047.7 L1114.0 1049.2 L1116.0 1050.9 L1118.0 1052.6 L1120.0 1054.3 L1122.0 1056.2 L1124.0 1058.1 L1126.0 1060.1 L1128.0 1062.1 L1130.0 1064.2 L1132.0 1066.3 L1134.0 1068.5 L1136.0 1070.8 L1138.0 1073.0 L1140.0 1075.4 L1142.0 1077.8 L1144.0 1080.2 L1146.0 1082.6 L1148.0 1085.1 L1150.0 1087.6 L1152.0 1090.2 L1154.0 1092.7 L1156.0 1095.3 L1158.0 1098.0 L1160.0 1100.6 L1162.0 1103.2 L1164.0 1105.9 L1166.0 1108.6 L1168.0 1111.2 L1170.0 1113.9 L1172.0 1116.6 L1174.0 1119.3 L1176.0 1122.0 L1178.0 1124.7 L1180.0 1127.3 L1182.0 1130.0 L1184.0 1132.6 L1186.0 1135.3 L1188.0 1137.9 L1190.0 1140.5 L1192.0 1143.0 L1194.0 1145.6 L1196.0 1148.1 L1198.0 1150.6 L1200.0 1153.1 L1202.0 1155.6 L1204.0 1158.1 L1206.0 1160.5 L1208.0 1162.9 L1210.0 1165.3 L1212.0 1167.7 L1214.0 1170.1 L1216.0 1172.4 L1218.0 1174.8 L1220.0 1177.1 L1222.0 1179.3 L1224.0 1181.6 L1226.0 1183.9 L1228.0 1186.1 L1230.0 1188.3 L1232.0 1190.5 L1234.0 1192.7 L1236.0 1194.8 L1238.0 1196.9 L1240.0 1199.0 L1242.0 1201.1 L1244.0 1203.2 L1246.0 1205.2 L1248.0 1207.3 L1250.0 1209.3 L1252.0 1211.3 L1254.0 1213.2 L1256.0 1215.2 L1258.0 1217.1 L1260.0 1219.0 L1262.0 1220.9 L1264.0 1222.8 L1266.0 1224.6 L1268.0 1226.4 L1270.0 1228.2 L1272.0 1230.0 L1274.0 1231.8 L1276.0 1233.5 L1278.0 1235.2 L1280.0 1236.9 L1282.0 1238.6 L1284.0 1240.3 L1286.0 1241.9 L1288.0 1243.6 L1290.0 1245.2 L1292.0 1246.8 L1294.0 1248.3 L1296.0 1249.9 L1298.0 1251.4 L1300.0 1253.0 L1302.0 1254.5 L1304.0 1256.0 L1306.0 1257.4 L1308.0 1258.9 L1310.0 1260.4 L1312.0 1261.8 L1314.0 1263.2 L1316.0 1264.6 L1318.0 1266.1 L1320.0 1267.4 L1322.0 1268.8 L1324.0 1270.2 L1326.0 1271.6 L1328.0 1272.9 L1330.0 1274.3 L1332.0 1275.6 L1334.0 1276.9 L1336.0 1278.2 L1338.0 1279.5 L1340.0 1280.8 L1342.0 1282.1 L1344.0 1283.3 L1346.0 1284.5 L1348.0 1285.8 L1350.0 1286.9 L1352.0 1288.1 L1354.0 1289.3 L1356.0 1290.4 L1358.0 1291.5 L1360.0 1292.6 L1362.0 1293.7 L1364.0 1294.7 L1366.0 1295.7 L1368.0 1296.7 L1370.0 1297.7 L1372.0 1298.6 L1374.0 1299.5 L1376.0 1300.4 L1378.0 1301.2 L1380.0 1302.0 L1382.0 1302.8 L1384.0 1303.6 L1386.0 1304.3 L1388.0 1305.0 L1390.0 1305.7 L1392.0 1306.3 L1394.0 1306.9 L1396.0 1307.5 L1398.0 1308.1 L1400.0 1308.6 L1402.0 1309.2 L1404.0 1309.7 L1406.0 1310.1 L1408.0 1310.6 L1410.0 1311.0 L1412.0 1311.5 L1414.0 1311.9 L1416.0 1312.2 L1418.0 1312.6 L1420.0 1313.0 L1422.0 1313.3 L1424.0 1313.6 L1426.0 1314.0 L1428.0 1314.3 L1430.0 1314.6 L1432.0 1314.8 L1434.0 1315.1 L1436.0 1315.4 L1438.0 1315.6 L1440.0 1315.9 L1442.0 1316.1 L1444.0 1316.4 L1446.0 1316.6 L1448.0 1316.8 L1450.0 1317.1 L1452.0 1317.3 L1454.0 1317.5 L1456.0 1317.8 L1458.0 1318.0 L1460.0 1318.2 L1462.0 1318.4 L1464.0 1318.7 L1466.0 1318.9 L1468.0 1319.1 L1470.0 1319.4 L1472.0 1319.6 L1474.0 1319.9 L1476.0 1320.1 L1478.0 1320.3 L1480.0 1320.6 L1482.0 1320.8 L1484.0 1321.1 L1486.0 1321.3 L1488.0 1321.5 L1490.0 1321.8 L1492.0 1322.0 L1494.0 1322.3 L1496.0 1322.5 L1498.0 1322.7 L1500.0 1323.0 L1502.0 1323.2 L1504.0 1323.5 L1506.0 1323.7 L1508.0 1324.0 L1510.0 1324.2 L1512.0 1324.4 L1514.0 1324.7 L1516.0 1324.9 L1518.0 1325.1 L1520.0 1325.4 L1522.0 1325.6 L1524.0 1325.8 L1526.0 1326.1 L1528.0 1326.3 L1530.0 1326.5 L1532.0 1326.8 L1534.0 1327.0 L1536.0 1327.2 L1538.0 1327.4 L1540.0 1327.7 L1542.0 1327.9 L1544.0 1328.1 L1546.0 1328.3 L1548.0 1328.6 L1550.0 1328.8 L1552.0 1329.0 L1554.0 1329.2 L1556.0 1329.5 L1558.0 1329.7 L1560.0 1329.9 L1562.0 1330.1 L1564.0 1330.3 L1566.0 1330.5 L1568.0 1330.7 L1570.0 1331.0 L1572.0 1331.2 L1574.0 1331.4 L1576.0 1331.6 L1578.0 1331.8 L1580.0 1332.0 L1582.0 1332.2 L1584.0 1332.4 L1586.0 1332.6 L1588.0 1332.8 L1590.0 1333.0 L1592.0 1333.2 L1594.0 1333.4 L1596.0 1333.6 L1598.0 1333.8 L1600.0 1334.0 L1602.0 1334.2 L1604.0 1334.4 L1606.0 1334.6 L1608.0 1334.8 L1610.0 1335.0 L1612.0 1335.2 L1614.0 1335.4 L1616.0 1335.6 L1618.0 1335.8 L1620.0 1336.0 L1622.0 1336.1 L1624.0 1336.3 L1626.0 1336.5 L1628.0 1336.7 L1630.0 1336.9 L1632.0 1337.1 L1634.0 1337.3 L1636.0 1337.4 L1638.0 1337.6 L1640.0 1337.8 L1642.0 1338.0 L1644.0 1338.1 L1646.0 1338.3 L1648.0 1338.5 L1650.0 1338.7 L1652.0 1338.8 L1654.0 1339.0 L1656.0 1339.2 L1658.0 1339.4 L1660.0 1339.5 L1662.0 1339.7 L1664.0 1339.9 L1666.0 1340.0 L1668.0 1340.2 L1670.0 1340.3 L1672.0 1340.5 L1674.0 1340.7 L1676.0 1340.8 L1678.0 1341.0 L1680.0 1341.1 L1682.0 1341.3 L1684.0 1341.5 L1686.0 1341.6 L1688.0 1341.8 L1690.0 1341.9 L1692.0 1342.1 L1694.0 1342.2 L1696.0 1342.4 L1698.0 1342.5 L1700.0 1342.7 L1702.0 1342.8 L1704.0 1343.0 L1706.0 1343.1 L1708.0 1343.3 L1710.0 1343.4 L1712.0 1343.5 L1714.0 1343.7 L1716.0 1343.8 L1718.0 1344.0 L1720.0 1344.1 L1722.0 1344.2 L1724.0 1344.4 L1726.0 1344.5 L1728.0 1344.6 L1730.0 1344.8 L1732.0 1344.9 L1734.0 1345.0 L1736.0 1345.2 L1738.0 1345.3 L1740.0 1345.4 L1742.0 1345.5 L1744.0 1345.7 L1746.0 1345.8 L1748.0 1345.9 L1750.0 1346.0 L1752.0 1346.1 L1754.0 1346.3 L1756.0 1346.4 L1758.0 1346.5 L1760.0 1346.6 L1762.0 1346.7 L1764.0 1346.8 L1766.0 1346.9 L1768.0 1347.1 L1770.0 1347.2 L1772.0 1347.3 L1774.0 1347.4 L1776.0 1347.5 L1778.0 1347.6 L1780.0 1347.7 L1782.0 1347.8 L1784.0 1347.9 L1786.0 1348.0 L1788.0 1348.1 L1790.0 1348.2 L1792.0 1348.3 L1794.0 1348.4 L1796.0 1348.5 L1798.0 1348.6 L1800.0 1348.7 L1802.0 1348.8 L1804.0 1348.9 L1806.0 1348.9 L1808.0 1349.0 L1810.0 1349.1 L1812.0 1349.2 L1814.0 1349.3 L1816.0 1349.4 L1818.0 1349.5 L1820.0 1349.5 L1822.0 1349.6 L1824.0 1349.7 L1826.0 1349.8 L1828.0 1349.9 L1830.0 1349.9 L1832.0 1350.0 L1834.0 1350.1 L1836.0 1350.2 L1838.0 1350.2 L1840.0 1350.3 L1842.0 1350.4 L1844.0 1350.4 L1846.0 1350.5 L1848.0 1350.6 L1850.0 1350.7 L1852.0 1350.7 L1854.0 1350.8 L1856.0 1350.8 L1858.0 1350.9 L1860.0 1351.0 L1862.0 1351.0 L1864.0 1351.1 L1866.0 1351.1 L1868.0 1351.2 L1870.0 1351.3 L1872.0 1351.3 L1874.0 1351.4 L1876.0 1351.4 L1878.0 1351.5 L1880.0 1351.5 L1882.0 1351.6 L1884.0 1351.6 L1886.0 1351.7 L1888.0 1351.7 L1890.0 1351.8 L1892.0 1351.8 L1894.0 1351.8 L1896.0 1351.9 L1898.0 1351.9 L1900.0 1352.0 L1902.0 1352.0 L1904.0 1352.1 L1906.0 1352.1 L1908.0 1352.1 L1910.0 1352.2 L1912.0 1352.2 L1914.0 1352.2 L1916.0 1352.3 L1918.0 1352.3 L1920.0 1352.3 L1922.0 1352.4 L1924.0 1352.4 L1926.0 1352.4 L1928.0 1352.4 L1930.0 1352.5 L1932.0 1352.5 L1934.0 1352.5 L1936.0 1352.5 L1938.0 1352.6 L1940.0 1352.6 L1942.0 1352.6 L1944.0 1352.6 L1946.0 1352.6 L1948.0 1352.7 L1950.0 1352.7 L1952.0 1352.7 L1954.0 1352.7 L1956.0 1352.7 L1958.0 1352.7 L1960.0 1352.7 L1962.0 1352.7 L1964.0 1352.8 L1966.0 1352.8 L1968.0 1352.8 L1970.0 1352.8 L1972.0 1352.8 L1974.0 1352.8 L1976.0 1352.8 L1978.0 1352.8 L1980.0 1352.8 L1982.0 1352.8 L1984.0 1352.8 L1986.0 1352.8 L1988.0 1352.8 L1990.0 1352.8 L1992.0 1352.8 L1994.0 1352.8 L1996.0 1352.8 L1998.0 1352.8 L2000.0 1352.8 L2002.0 1352.8 L2004.0 1352.8 L2006.0 1352.7 L2008.0 1352.7 L2010.0 1352.7 L2012.0 1352.7 L2014.0 1352.7 L2016.0 1352.7 L2018.0 1352.7 L2020.0 1352.6 L2022.0 1352.6 L2024.0 1352.6 L2026.0 1352.6 L2028.0 1352.6 L2030.0 1352.6 L2032.0 1352.5 L2034.0 1352.5 L2036.0 1352.5 L2038.0 1352.5 L2040.0 1352.4 L2042.0 1352.4 L2044.0 1352.4 L2046.0 1352.4 L2048.0 1352.3 L2050.0 1352.3 L2052.0 1352.3 L2054.0 1352.2 L2056.0 1352.2 L2058.0 1352.2 L2060.0 1352.1 L2062.0 1352.1 L2064.0 1352.1 L2066.0 1352.0 L2068.0 1352.0 L2070.0 1352.0 L2072.0 1351.9 L2074.0 1351.9 L2076.0 1351.8 L2078.0 1351.8 L2080.0 1351.8 L2082.0 1351.7 L2084.0 1351.7 L2086.0 1351.6 L2088.0 1351.6 L2090.0 1351.5 L2092.0 1351.5 L2094.0 1351.4 L2096.0 1351.4 L2098.0 1351.3 L2100.0 1351.3 L2102.0 1351.2 L2104.0 1351.2 L2106.0 1351.1 L2108.0 1351.1 L2110.0 1351.0 L2112.0 1351.0 L2114.0 1350.9 L2116.0 1350.8 L2118.0 1350.8 L2120.0 1350.7 L2122.0 1350.7 L2124.0 1350.6 L2126.0 1350.5 L2128.0 1350.5 L2130.0 1350.4 L2132.0 1350.4 L2134.0 1350.3 L2136.0 1350.2 L2138.0 1350.2 L2140.0 1350.1 L2142.0 1350.0 L2144.0 1350.0 L2146.0 1349.9 L2148.0 1349.8 L2150.0 1349.8 L2152.0 1349.7 L2154.0 1349.6 L2156.0 1349.5 L2158.0 1349.5 L2160.0 1349.4 L2162.0 1349.3 L2164.0 1349.2 L2166.0 1349.2 L2168.0 1349.1 L2170.0 1349.0 L2172.0 1348.9 L2174.0 1348.8 L2176.0 1348.8 L2178.0 1348.7 L2180.0 1348.6 L2182.0 1348.5 L2184.0 1348.4 L2186.0 1348.3 L2188.0 1348.3 L2190.0 1348.2 L2192.0 1348.1 L2194.0 1348.0 L2196.0 1347.9 L2198.0 1347.8 L2200.0 1347.7 L2202.0 1347.6 L2204.0 1347.5 L2206.0 1347.5 L2208.0 1347.4 L2210.0 1347.3 L2212.0 1347.2 L2214.0 1347.1 L2216.0 1347.0 L2218.0 1346.9 L2220.0 1346.8 L2222.0 1346.7 L2224.0 1346.6 L2226.0 1346.5 L2228.0 1346.4 L2230.0 1346.3 L2232.0 1346.2 L2234.0 1346.1 L2236.0 1346.0 L2238.0 1345.9 L2240.0 1345.8 L2242.0 1345.7 L2244.0 1345.6 L2246.0 1345.5 L2248.0 1345.4 L2250.0 1345.2 L2252.0 1345.1 L2254.0 1345.0 L2256.0 1344.9 L2258.0 1344.8 L2260.0 1344.7" stroke="#464e9e"/>
<path d="M360.0 1423.5 L362.0 1423.5 L364.0 1423.5 L366.0 1423.5 L368.0 1423.4 L370.0 1423.4 L372.0 1423.4 L374.0 1423.4 L376.0 1423.4 L378.0 1423.4 L380.0 1423.3 L382.0 1423.3 L384.0 1423.3 L386.0 1423.3 L388.0 1423.3 L390.0 1423.3 L392.0 1423.3 L394.0 1423.3 L396.0 1423.3 L398.0 1423.2 L400.0 1423.2 L402.0 1423.2 L404.0 1423.2 L406.0 1423.2 L408.0 1423.2 L410.0 1423.2 L412.0 1423.2 L414.0 1423.2 L416.0 1423.2 L418.0 1423.2 L420.0 1423.2 L422.0 1423.2 L424.0 1423.2 L426.0 1423.2 L428.0 1423.2 L430.0 1423.2 L432.0 1423.2 L434.0 1423.2 L436.0 1423.2 L438.0 1423.2 L440.0 1423.1 L442.0 1423.1 L444.0 1423.1 L446.0 1423.1 L448.0 1423.1 L450.0 1423.1 L452.0 1423.2 L454.0 1423.2 L456.0 1423.2 L458.0 1423.2 L460.0 1423.2 L462.0 1423.2 L464.0 1423.2 L466.0 1423.2 L468.0 1423.2 L470.0 1423.2 L472.0 1423.2 L474.0 1423.2 L476.0 1423.2 L478.0 1423.2 L480.0 1423.2 L482.0 1423.2 L484.0 1423.2 L486.0 1423.2 L488.0 1423.2 L490.0 1423.2 L492.0 1423.2 L494.0 1423.2 L496.0 1423.2 L498.0 1423.2 L500.0 1423.2 L502.0 1423.3 L504.0 1423.3 L506.0 1423.3 L508.0 1423.3 L510.0 1423.3 L512.0 1423.3 L514.0 1423.3 L516.0 1423.3 L518.0 1423.3 L520.0 1423.3 L522.0 1423.3 L524.0 1423.3 L526.0 1423.3 L528.0 1423.3 L530.0 1423.4 L532.0 1423.4 L534.0 1423.4 L536.0 1423.4 L538.0 1423.4 L540.0 1423.4 L542.0 1423.4 L544.0 1423.4 L546.0 1423.4 L548.0 1423.4 L550.0 1423.4 L552.0 1423.4 L554.0 1423.4 L556.0 1423.5 L558.0 1423.5 L560.0 1423.5 L562.0 1423.5 L564.0 1423.5 L566.0 1423.5 L568.0 1423.5 L570.0 1423.5 L572.0 1423.5 L574.0 1423.5 L576.0 1423.5 L578.0 1423.5 L580.0 1423.5 L582.0 1423.6 L584.0 1423.6 L586.0 1423.6 L588.0 1423.6 L590.0 1423.6 L592.0 1423.6 L594.0 1423.6 L596.0 1423.6 L598.0 1423.6 L600.0 1423.6 L602.0 1423.6 L604.0 1423.6 L606.0 1423.6 L608.0 1423.6 L610.0 1423.6 L612.0 1423.6 L614.0 1423.7 L616.0 1423.7 L618.0 1423.7 L620.0 1423.7 L622.0 1423.7 L624.0 1423.7 L626.0 1423.7 L628.0 1423.7 L630.0 1423.7 L632.0 1423.7 L634.0 1423.7 L636.0 1423.7 L638.0 1423.7 L640.0 1423.7 L642.0 1423.7 L644.0 1423.7 L646.0 1423.7 L648.0 1423.7 L650.0 1423.7 L652.0 1423.7 L654.0 1423.7 L656.0 1423.7 L658.0 1423.7 L660.0 1423.7 L662.0 1423.7 L664.0 1423.7 L666.0 1423.7 L668.0 1423.7 L670.0 1423.7 L672.0 1423.7 L674.0 1423.7 L676.0 1423.7 L678.0 1423.7 L680.0 1423.7 L682.0 1423.7 L684.0 1423.7 L686.0 1423.6 L688.0 1423.6 L690.0 1423.6 L692.0 1423.6 L694.0 1423.6 L696.0 1423.6 L698.0 1423.6 L700.0 1423.6 L702.0 1423.6 L704.0 1423.6 L706.0 1423.6 L708.0 1423.5 L710.0 1423.5 L712.0 1423.5 L714.0 1423.5 L716.0 1423.5 L718.0 1423.4 L720.0 1423.4 L722.0 1423.4 L724.0 1423.4 L726.0 1423.3 L728.0 1423.3 L730.0 1423.3 L732.0 1423.2 L734.0 1423.2 L736.0 1423.2 L738.0 1423.1 L740.0 1423.1 L742.0 1423.0 L744.0 1423.0 L746.0 1422.9 L748.0 1422.9 L750.0 1422.8 L752.0 1422.7 L754.0 1422.7 L756.0 1422.6 L758.0 1422.5 L760.0 1422.4 L762.0 1422.4 L764.0 1422.3 L766.0 1422.2 L768.0 1422.1 L770.0 1422.0 L772.0 1421.9 L774.0 1421.8 L776.0 1421.7 L778.0 1421.6 L780.0 1421.4 L782.0 1421.3 L784.0 1421.2 L786.0 1421.0 L788.0 1420.9 L790.0 1420.8 L792.0 1420.6 L794.0 1420.4 L796.0 1420.3 L798.0 1420.1 L800.0 1419.9 L802.0 1419.8 L804.0 1419.6 L806.0 1419.4 L808.0 1419.2 L810.0 1419.0 L812.0 1418.8 L814.0 1418.6 L816.0 1418.3 L818.0 1418.1 L820.0 1417.9 L822.0 1417.6 L824.0 1417.4 L826.0 1417.1 L828.0 1416.8 L830.0 1416.6 L832.0 1416.3 L834.0 1416.0 L836.0 1415.7 L838.0 1415.4 L840.0 1415.1 L842.0 1414.8 L844.0 1414.5 L846.0 1414.1 L848.0 1413.8 L850.0 1413.4 L852.0 1413.1 L854.0 1412.7 L856.0 1412.3 L858.0 1411.9 L860.0 1411.5 L862.0 1411.1 L864.0 1410.7 L866.0 1410.3 L868.0 1409.8 L870.0 1409.3 L872.0 1408.9 L874.0 1408.4 L876.0 1407.8 L878.0 1407.3 L880.0 1406.8 L882.0 1406.2 L884.0 1405.6 L886.0 1405.0 L888.0 1404.4 L890.0 1403.7 L892.0 1403.1 L894.0 1402.4 L896.0 1401.7 L898.0 1400.9 L900.0 1400.2 L902.0 1399.4 L904.0 1398.6 L906.0 1397.8 L908.0 1396.9 L910.0 1396.0 L912.0 1395.1 L914.0 1394.2 L916.0 1393.2 L918.0 1392.2 L920.0 1391.2 L922.0 1390.2 L924.0 1389.1 L926.0 1388.0 L928.0 1386.8 L930.0 1385.7 L932.0 1384.4 L934.0 1383.2 L936.0 1381.9 L938.0 1380.6 L940.0 1379.3 L942.0 1377.9 L944.0 1376.5 L946.0 1375.0 L948.0 1373.5 L950.0 1371.9 L952.0 1370.3 L954.0 1368.6 L956.0 1366.9 L958.0 1365.1 L960.0 1363.3 L962.0 1361.5 L964.0 1359.5 L966.0 1357.5 L968.0 1355.5 L970.0 1353.4 L972.0 1351.2 L974.0 1349.0 L976.0 1346.7 L978.0 1344.3 L980.0 1341.8 L982.0 1339.3 L984.0 1336.8 L986.0 1334.1 L988.0 1331.4 L990.0 1328.5 L992.0 1325.6 L994.0 1322.7 L996.0 1319.6 L998.0 1316.5 L1000.0 1313.3 L1002.0 1310.0 L1004.0 1306.6 L1006.0 1303.1 L1008.0 1299.6 L1010.0 1295.9 L1012.0 1292.2 L1014.0 1288.4 L1016.0 1284.5 L1018.0 1280.5 L1020.0 1276.4 L1022.0 1272.3 L1024.0 1268.0 L1026.0 1263.6 L1028.0 1259.2 L1030.0 1254.6 L1032.0 1250.0 L1034.0 1245.2 L1036.0 1240.4 L1038.0 1235.5 L1040.0 1230.4 L1042.0 1225.3 L1044.0 1220.0 L1046.0 1214.7 L1048.0 1209.3 L1050.0 1203.7 L1052.0 1198.1 L1054.0 1192.3 L1056.0 1186.4 L1058.0 1180.5 L1060.0 1174.4 L1062.0 1168.2 L1064.0 1161.9 L1066.0 1155.5 L1068.0 1149.0 L1070.0 1142.4 L1072.0 1135.6 L1074.0 1128.8 L1076.0 1121.8 L1078.0 1114.8 L1080.0 1107.6 L1082.0 1100.3 L1084.0 1092.8 L1086.0 1085.3 L1088.0 1077.6 L1090.0 1069.9 L1092.0 1062.0 L1094.0 1054.1 L1096.0 1046.0 L1098.0 1038.0 L1100.0 1029.8 L1102.0 1021.7 L1104.0 1013.5 L1106.0 1005.3 L1108.0 997.1 L1110.0 988.9 L1112.0 980.7 L1114.0 972.6 L1116.0 964.5 L1118.0 956.5 L1120.0 948.5 L1122.0 940.6 L1124.0 932.8 L1126.0 925.1 L1128.0 917.4 L1130.0 910.0 L1132.0 902.6 L1132.8 899.7 L1134.0 895.4 L1136.0 888.3 L1138.0 881.4 L1140.0 874.6 L1142.0 868.4 L1144.0 862.4 L1145.7 857.2 L1146.0 856.3 L1148.0 850.3 L1150.0 844.3 L1152.0 838.2 L1154.0 831.8 L1156.0 825.4 L1157.1 821.9 L1158.0 819.8 L1160.0 815.1 L1162.0 810.4 L1164.0 805.7 L1166.0 801.0 L1168.0 796.3 L1169.3 793.3 L1170.0 792.2 L1172.0 789.1 L1174.0 785.9 L1176.0 782.8 L1178.0 779.6 L1180.0 776.5 L1180.7 775.4 L1182.0 774.5 L1184.0 773.0 L1186.0 771.5 L1188.0 770.1 L1190.0 768.6 L1191.4 767.6 L1192.0 767.5 L1194.0 767.3 L1196.0 767.2 L1198.0 767.0 L1198.6 766.9 L1200.0 767.6 L1202.0 768.6 L1204.0 769.6 L1206.0 770.6 L1208.0 771.6 L1210.0 772.6 L1212.0 773.6 L1212.9 774.0 L1214.0 775.2 L1216.0 777.5 L1218.0 779.8 L1220.0 782.0 L1222.0 784.3 L1224.0 786.6 L1224.3 786.9 L1226.0 789.9 L1228.0 793.5 L1230.0 797.1 L1232.0 800.6 L1234.0 804.2 L1236.0 807.7 L1237.1 809.7 L1238.0 811.5 L1240.0 815.5 L1242.0 819.5 L1244.0 823.4 L1246.0 827.5 L1248.0 831.7 L1250.0 836.1 L1252.0 841.0 L1254.0 845.6 L1256.0 850.1 L1258.0 854.7 L1260.0 859.3 L1262.0 864.0 L1264.0 868.8 L1266.0 873.6 L1268.0 878.4 L1270.0 883.3 L1272.0 888.2 L1274.0 893.2 L1275.0 895.6 L1276.0 898.1 L1278.0 903.1 L1280.0 908.2 L1282.0 913.2 L1284.0 918.3 L1286.0 923.4 L1288.0 928.4 L1290.0 933.5 L1292.0 938.6 L1294.0 943.7 L1296.0 948.8 L1298.0 953.9 L1300.0 959.0 L1302.0 964.0 L1304.0 969.1 L1306.0 974.1 L1308.0 979.1 L1310.0 984.1 L1312.0 989.1 L1314.0 994.1 L1316.0 999.0 L1318.0 1004.0 L1320.0 1008.9 L1322.0 1013.7 L1324.0 1018.6 L1326.0 1023.4 L1328.0 1028.2 L1330.0 1033.0 L1332.0 1037.7 L1334.0 1042.4 L1336.0 1047.1 L1338.0 1051.7 L1340.0 1056.4 L1342.0 1060.9 L1344.0 1065.5 L1346.0 1070.0 L1348.0 1074.5 L1350.0 1078.9 L1352.0 1083.3 L1354.0 1087.6 L1356.0 1091.9 L1358.0 1096.2 L1360.0 1100.4 L1362.0 1104.6 L1364.0 1108.7 L1366.0 1112.8 L1368.0 1116.9 L1370.0 1120.9 L1372.0 1124.8 L1374.0 1128.7 L1376.0 1132.5 L1378.0 1136.3 L1380.0 1140.1 L1382.0 1143.7 L1384.0 1147.3 L1386.0 1150.9 L1388.0 1154.4 L1390.0 1157.9 L1392.0 1161.3 L1394.0 1164.6 L1396.0 1167.9 L1398.0 1171.1 L1400.0 1174.3 L1402.0 1177.4 L1404.0 1180.5 L1406.0 1183.5 L1408.0 1186.5 L1410.0 1189.4 L1412.0 1192.3 L1414.0 1195.1 L1416.0 1197.9 L1418.0 1200.6 L1420.0 1203.3 L1422.0 1205.9 L1424.0 1208.5 L1426.0 1211.0 L1428.0 1213.5 L1430.0 1215.9 L1432.0 1218.3 L1434.0 1220.6 L1436.0 1223.0 L1438.0 1225.2 L1440.0 1227.4 L1442.0 1229.6 L1444.0 1231.7 L1446.0 1233.8 L1448.0 1235.9 L1450.0 1237.9 L1452.0 1239.9 L1454.0 1241.8 L1456.0 1243.7 L1458.0 1245.5 L1460.0 1247.4 L1462.0 1249.1 L1464.0 1250.9 L1466.0 1252.6 L1468.0 1254.3 L1470.0 1255.9 L1472.0 1257.5 L1474.0 1259.1 L1476.0 1260.7 L1478.0 1262.2 L1480.0 1263.7 L1482.0 1265.2 L1484.0 1266.6 L1486.0 1268.0 L1488.0 1269.4 L1490.0 1270.7 L1492.0 1272.1 L1494.0 1273.4 L1496.0 1274.7 L1498.0 1275.9 L1500.0 1277.1 L1502.0 1278.4 L1504.0 1279.5 L1506.0 1280.7 L1508.0 1281.9 L1510.0 1283.0 L1512.0 1284.1 L1514.0 1285.2 L1516.0 1286.3 L1518.0 1287.3 L1520.0 1288.4 L1522.0 1289.4 L1524.0 1290.4 L1526.0 1291.4 L1528.0 1292.4 L1530.0 1293.3 L1532.0 1294.3 L1534.0 1295.2 L1536.0 1296.2 L1538.0 1297.1 L1540.0 1298.0 L1542.0 1298.9 L1544.0 1299.8 L1546.0 1300.7 L1548.0 1301.6 L1550.0 1302.4 L1552.0 1303.3 L1554.0 1304.1 L1556.0 1305.0 L1558.0 1305.8 L1560.0 1306.6 L1562.0 1307.4 L1564.0 1308.2 L1566.0 1309.0 L1568.0 1309.8 L1570.0 1310.6 L1572.0 1311.3 L1574.0 1312.1 L1576.0 1312.8 L1578.0 1313.6 L1580.0 1314.3 L1582.0 1315.0 L1584.0 1315.7 L1586.0 1316.4 L1588.0 1317.1 L1590.0 1317.8 L1592.0 1318.5 L1594.0 1319.2 L1596.0 1319.8 L1598.0 1320.5 L1600.0 1321.2 L1602.0 1321.8 L1604.0 1322.4 L1606.0 1323.1 L1608.0 1323.7 L1610.0 1324.3 L1612.0 1324.9 L1614.0 1325.5 L1616.0 1326.1 L1618.0 1326.7 L1620.0 1327.3 L1622.0 1327.9 L1624.0 1328.4 L1626.0 1329.0 L1628.0 1329.6 L1630.0 1330.1 L1632.0 1330.7 L1634.0 1331.2 L1636.0 1331.7 L1638.0 1332.3 L1640.0 1332.8 L1642.0 1333.3 L1644.0 1333.8 L1646.0 1334.3 L1648.0 1334.8 L1650.0 1335.3 L1652.0 1335.8 L1654.0 1336.3 L1656.0 1336.8 L1658.0 1337.3 L1660.0 1337.8 L1662.0 1338.2 L1664.0 1338.7 L1666.0 1339.1 L1668.0 1339.6 L1670.0 1340.1 L1672.0 1340.5 L1674.0 1340.9 L1676.0 1341.4 L1678.0 1341.8 L1680.0 1342.3 L1682.0 1342.7 L1684.0 1343.1 L1686.0 1343.5 L1688.0 1344.0 L1690.0 1344.4 L1692.0 1344.8 L1694.0 1345.2 L1696.0 1345.6 L1698.0 1346.0 L1700.0 1346.4 L1702.0 1346.8 L1704.0 1347.2 L1706.0 1347.6 L1708.0 1348.0 L1710.0 1348.4 L1712.0 1348.8 L1714.0 1349.1 L1716.0 1349.5 L1718.0 1349.9 L1720.0 1350.3 L1722.0 1350.7 L1724.0 1351.0 L1726.0 1351.4 L1728.0 1351.8 L1730.0 1352.2 L1732.0 1352.5 L1734.0 1352.9 L1736.0 1353.3 L1738.0 1353.6 L1740.0 1354.0 L1742.0 1354.4 L1744.0 1354.7 L1746.0 1355.1 L1748.0 1355.4 L1750.0 1355.8 L1752.0 1356.2 L1754.0 1356.5 L1756.0 1356.9 L1758.0 1357.2 L1760.0 1357.6 L1762.0 1358.0 L1764.0 1358.3 L1766.0 1358.7 L1768.0 1359.0 L1770.0 1359.4 L1772.0 1359.7 L1774.0 1360.1 L1776.0 1360.4 L1778.0 1360.8 L1780.0 1361.1 L1782.0 1361.5 L1784.0 1361.8 L1786.0 1362.1 L1788.0 1362.5 L1790.0 1362.8 L1792.0 1363.2 L1794.0 1363.5 L1796.0 1363.8 L1798.0 1364.1 L1800.0 1364.5 L1802.0 1364.8 L1804.0 1365.1 L1806.0 1365.5 L1808.0 1365.8 L1810.0 1366.1 L1812.0 1366.4 L1814.0 1366.7 L1816.0 1367.0 L1818.0 1367.4 L1820.0 1367.7 L1822.0 1368.0 L1824.0 1368.3 L1826.0 1368.6 L1828.0 1368.9 L1830.0 1369.2 L1832.0 1369.5 L1834.0 1369.8 L1836.0 1370.1 L1838.0 1370.4 L1840.0 1370.6 L1842.0 1370.9 L1844.0 1371.2 L1846.0 1371.5 L1848.0 1371.8 L1850.0 1372.0 L1852.0 1372.3 L1854.0 1372.6 L1856.0 1372.8 L1858.0 1373.1 L1860.0 1373.4 L1862.0 1373.6 L1864.0 1373.9 L1866.0 1374.1 L1868.0 1374.4 L1870.0 1374.6 L1872.0 1374.8 L1874.0 1375.1 L1876.0 1375.3 L1878.0 1375.6 L1880.0 1375.8 L1882.0 1376.0 L1884.0 1376.2 L1886.0 1376.4 L1888.0 1376.7 L1890.0 1376.9 L1892.0 1377.1 L1894.0 1377.3 L1896.0 1377.5 L1898.0 1377.7 L1900.0 1377.9 L1902.0 1378.1 L1904.0 1378.3 L1906.0 1378.5 L1908.0 1378.7 L1910.0 1378.8 L1912.0 1379.0 L1914.0 1379.2 L1916.0 1379.4 L1918.0 1379.6 L1920.0 1379.7 L1922.0 1379.9 L1924.0 1380.1 L1926.0 1380.3 L1928.0 1380.4 L1930.0 1380.6 L1932.0 1380.8 L1934.0 1380.9 L1936.0 1381.1 L1938.0 1381.2 L1940.0 1381.4 L1942.0 1381.6 L1944.0 1381.7 L1946.0 1381.9 L1948.0 1382.0 L1950.0 1382.2 L1952.0 1382.3 L1954.0 1382.5 L1956.0 1382.6 L1958.0 1382.8 L1960.0 1382.9 L1962.0 1383.0 L1964.0 1383.2 L1966.0 1383.3 L1968.0 1383.5 L1970.0 1383.6 L1972.0 1383.8 L1974.0 1383.9 L1976.0 1384.0 L1978.0 1384.2 L1980.0 1384.3 L1982.0 1384.5 L1984.0 1384.6 L1986.0 1384.7 L1988.0 1384.9 L1990.0 1385.0 L1992.0 1385.1 L1994.0 1385.3 L1996.0 1385.4 L1998.0 1385.5 L2000.0 1385.7 L2002.0 1385.8 L2004.0 1386.0 L2006.0 1386.1 L2008.0 1386.2 L2010.0 1386.4 L2012.0 1386.5 L2014.0 1386.6 L2016.0 1386.8 L2018.0 1386.9 L2020.0 1387.1 L2022.0 1387.2 L2024.0 1387.3 L2026.0 1387.5 L2028.0 1387.6 L2030.0 1387.7 L2032.0 1387.9 L2034.0 1388.0 L2036.0 1388.1 L2038.0 1388.3 L2040.0 1388.4 L2042.0 1388.5 L2044.0 1388.7 L2046.0 1388.8 L2048.0 1388.9 L2050.0 1389.1 L2052.0 1389.2 L2054.0 1389.3 L2056.0 1389.5 L2058.0 1389.6 L2060.0 1389.7 L2062.0 1389.8 L2064.0 1390.0 L2066.0 1390.1 L2068.0 1390.2 L2070.0 1390.4 L2072.0 1390.5 L2074.0 1390.6 L2076.0 1390.7 L2078.0 1390.8 L2080.0 1391.0 L2082.0 1391.1 L2084.0 1391.2 L2086.0 1391.3 L2088.0 1391.5 L2090.0 1391.6 L2092.0 1391.7 L2094.0 1391.8 L2096.0 1391.9 L2098.0 1392.0 L2100.0 1392.1 L2102.0 1392.3 L2104.0 1392.4 L2106.0 1392.5 L2108.0 1392.6 L2110.0 1392.7 L2112.0 1392.8 L2114.0 1392.9 L2116.0 1393.0 L2118.0 1393.1 L2120.0 1393.2 L2122.0 1393.3 L2124.0 1393.4 L2126.0 1393.5 L2128.0 1393.6 L2130.0 1393.7 L2132.0 1393.8 L2134.0 1393.9 L2136.0 1394.0 L2138.0 1394.1 L2140.0 1394.2 L2142.0 1394.3 L2144.0 1394.4 L2146.0 1394.5 L2148.0 1394.6 L2150.0 1394.7 L2152.0 1394.7 L2154.0 1394.8 L2156.0 1394.9 L2158.0 1395.0 L2160.0 1395.1 L2162.0 1395.1 L2164.0 1395.2 L2166.0 1395.3 L2168.0 1395.4 L2170.0 1395.4 L2172.0 1395.5 L2174.0 1395.6 L2176.0 1395.6 L2178.0 1395.7 L2180.0 1395.8 L2182.0 1395.8 L2184.0 1395.9 L2186.0 1395.9 L2188.0 1396.0 L2190.0 1396.0 L2192.0 1396.1 L2194.0 1396.1 L2196.0 1396.2 L2198.0 1396.2 L2200.0 1396.3 L2202.0 1396.3 L2204.0 1396.4 L2206.0 1396.4 L2208.0 1396.4 L2210.0 1396.5 L2212.0 1396.5 L2214.0 1396.5 L2216.0 1396.6 L2218.0 1396.6 L2220.0 1396.6 L2222.0 1396.6 L2224.0 1396.7 L2226.0 1396.7 L2228.0 1396.7 L2230.0 1396.7 L2232.0 1396.7 L2234.0 1396.7 L2236.0 1396.8 L2238.0 1396.8 L2240.0 1396.8 L2242.0 1396.8 L2244.0 1396.8 L2246.0 1396.8 L2248.0 1396.8 L2250.0 1396.8 L2252.0 1396.7 L2254.0 1396.7 L2256.0 1396.7 L2258.0 1396.7 L2260.0 1396.7" stroke="#00aee4"/>
<path d="M360.0 1464.9 L362.0 1464.9 L364.0 1464.9 L366.0 1464.9 L368.0 1464.8 L370.0 1464.8 L372.0 1464.8 L374.0 1464.8 L376.0 1464.8 L378.0 1464.7 L380.0 1464.7 L382.0 1464.7 L384.0 1464.7 L386.0 1464.7 L388.0 1464.7 L390.0 1464.7 L392.0 1464.6 L394.0 1464.6 L396.0 1464.6 L398.0 1464.6 L400.0 1464.6 L402.0 1464.6 L404.0 1464.6 L406.0 1464.6 L408.0 1464.6 L410.0 1464.6 L412.0 1464.6 L414.0 1464.6 L416.0 1464.6 L418.0 1464.6 L420.0 1464.6 L422.0 1464.6 L424.0 1464.5 L426.0 1464.5 L428.0 1464.6 L430.0 1464.6 L432.0 1464.6 L434.0 1464.6 L436.0 1464.6 L438.0 1464.6 L440.0 1464.6 L442.0 1464.6 L444.0 1464.6 L446.0 1464.6 L448.0 1464.6 L450.0 1464.6 L452.0 1464.6 L454.0 1464.6 L456.0 1464.6 L458.0 1464.6 L460.0 1464.6 L462.0 1464.6 L464.0 1464.7 L466.0 1464.7 L468.0 1464.7 L470.0 1464.7 L472.0 1464.7 L474.0 1464.7 L476.0 1464.7 L478.0 1464.7 L480.0 1464.8 L482.0 1464.8 L484.0 1464.8 L486.0 1464.8 L488.0 1464.8 L490.0 1464.8 L492.0 1464.8 L494.0 1464.9 L496.0 1464.9 L498.0 1464.9 L500.0 1464.9 L502.0 1464.9 L504.0 1464.9 L506.0 1464.9 L508.0 1465.0 L510.0 1465.0 L512.0 1465.0 L514.0 1465.0 L516.0 1465.0 L518.0 1465.1 L520.0 1465.1 L522.0 1465.1 L524.0 1465.1 L526.0 1465.1 L528.0 1465.1 L530.0 1465.2 L532.0 1465.2 L534.0 1465.2 L536.0 1465.2 L538.0 1465.2 L540.0 1465.3 L542.0 1465.3 L544.0 1465.3 L546.0 1465.3 L548.0 1465.3 L550.0 1465.4 L552.0 1465.4 L554.0 1465.4 L556.0 1465.4 L558.0 1465.4 L560.0 1465.5 L562.0 1465.5 L564.0 1465.5 L566.0 1465.5 L568.0 1465.5 L570.0 1465.6 L572.0 1465.6 L574.0 1465.6 L576.0 1465.6 L578.0 1465.6 L580.0 1465.6 L582.0 1465.7 L584.0 1465.7 L586.0 1465.7 L588.0 1465.7 L590.0 1465.7 L592.0 1465.8 L594.0 1465.8 L596.0 1465.8 L598.0 1465.8 L600.0 1465.8 L602.0 1465.8 L604.0 1465.9 L606.0 1465.9 L608.0 1465.9 L610.0 1465.9 L612.0 1465.9 L614.0 1465.9 L616.0 1465.9 L618.0 1466.0 L620.0 1466.0 L622.0 1466.0 L624.0 1466.0 L626.0 1466.0 L628.0 1466.0 L630.0 1466.0 L632.0 1466.0 L634.0 1466.1 L636.0 1466.1 L638.0 1466.1 L640.0 1466.1 L642.0 1466.1 L644.0 1466.1 L646.0 1466.1 L648.0 1466.1 L650.0 1466.1 L652.0 1466.1 L654.0 1466.1 L656.0 1466.2 L658.0 1466.2 L660.0 1466.2 L662.0 1466.2 L664.0 1466.2 L666.0 1466.2 L668.0 1466.2 L670.0 1466.2 L672.0 1466.2 L674.0 1466.2 L676.0 1466.2 L678.0 1466.2 L680.0 1466.2 L682.0 1466.2 L684.0 1466.2 L686.0 1466.2 L688.0 1466.2 L690.0 1466.2 L692.0 1466.2 L694.0 1466.2 L696.0 1466.2 L698.0 1466.1 L700.0 1466.1 L702.0 1466.1 L704.0 1466.1 L706.0 1466.1 L708.0 1466.1 L710.0 1466.1 L712.0 1466.1 L714.0 1466.1 L716.0 1466.0 L718.0 1466.0 L720.0 1466.0 L722.0 1466.0 L724.0 1466.0 L726.0 1466.0 L728.0 1465.9 L730.0 1465.9 L732.0 1465.9 L734.0 1465.9 L736.0 1465.8 L738.0 1465.8 L740.0 1465.8 L742.0 1465.7 L744.0 1465.7 L746.0 1465.7 L748.0 1465.6 L750.0 1465.6 L752.0 1465.6 L754.0 1465.5 L756.0 1465.5 L758.0 1465.4 L760.0 1465.4 L762.0 1465.3 L764.0 1465.3 L766.0 1465.2 L768.0 1465.2 L770.0 1465.1 L772.0 1465.1 L774.0 1465.0 L776.0 1464.9 L778.0 1464.9 L780.0 1464.8 L782.0 1464.7 L784.0 1464.7 L786.0 1464.6 L788.0 1464.5 L790.0 1464.4 L792.0 1464.4 L794.0 1464.3 L796.0 1464.2 L798.0 1464.1 L800.0 1464.0 L802.0 1463.9 L804.0 1463.8 L806.0 1463.7 L808.0 1463.6 L810.0 1463.5 L812.0 1463.4 L814.0 1463.3 L816.0 1463.2 L818.0 1463.1 L820.0 1463.0 L822.0 1462.9 L824.0 1462.8 L826.0 1462.6 L828.0 1462.5 L830.0 1462.4 L832.0 1462.3 L834.0 1462.1 L836.0 1462.0 L838.0 1461.8 L840.0 1461.7 L842.0 1461.6 L844.0 1461.4 L846.0 1461.3 L848.0 1461.1 L850.0 1460.9 L852.0 1460.8 L854.0 1460.6 L856.0 1460.4 L858.0 1460.3 L860.0 1460.1 L862.0 1459.9 L864.0 1459.7 L866.0 1459.5 L868.0 1459.3 L870.0 1459.1 L872.0 1458.9 L874.0 1458.6 L876.0 1458.4 L878.0 1458.2 L880.0 1457.9 L882.0 1457.7 L884.0 1457.4 L886.0 1457.1 L888.0 1456.8 L890.0 1456.5 L892.0 1456.2 L894.0 1455.9 L896.0 1455.6 L898.0 1455.3 L900.0 1454.9 L902.0 1454.6 L904.0 1454.2 L906.0 1453.8 L908.0 1453.4 L910.0 1453.0 L912.0 1452.6 L914.0 1452.2 L916.0 1451.7 L918.0 1451.3 L920.0 1450.8 L922.0 1450.3 L924.0 1449.8 L926.0 1449.3 L928.0 1448.8 L930.0 1448.2 L932.0 1447.6 L934.0 1447.1 L936.0 1446.5 L938.0 1445.9 L940.0 1445.2 L942.0 1444.6 L944.0 1443.9 L946.0 1443.2 L948.0 1442.5 L950.0 1441.8 L952.0 1441.1 L954.0 1440.3 L956.0 1439.5 L958.0 1438.7 L960.0 1437.9 L962.0 1437.1 L964.0 1436.2 L966.0 1435.3 L968.0 1434.4 L970.0 1433.5 L972.0 1432.5 L974.0 1431.5 L976.0 1430.5 L978.0 1429.5 L980.0 1428.4 L982.0 1427.2 L984.0 1426.1 L986.0 1424.9 L988.0 1423.6 L990.0 1422.4 L992.0 1421.0 L994.0 1419.7 L996.0 1418.3 L998.0 1416.8 L1000.0 1415.3 L1002.0 1413.7 L1004.0 1412.1 L1006.0 1410.5 L1008.0 1408.8 L1010.0 1407.0 L1012.0 1405.2 L1014.0 1403.3 L1016.0 1401.3 L1018.0 1399.3 L1020.0 1397.2 L1022.0 1395.1 L1024.0 1392.9 L1026.0 1390.6 L1028.0 1388.3 L1030.0 1385.9 L1032.0 1383.4 L1034.0 1380.9 L1036.0 1378.2 L1038.0 1375.5 L1040.0 1372.7 L1042.0 1369.9 L1044.0 1366.9 L1046.0 1363.9 L1048.0 1360.8 L1050.0 1357.6 L1052.0 1354.3 L1054.0 1350.9 L1056.0 1347.5 L1058.0 1343.9 L1060.0 1340.3 L1062.0 1336.5 L1064.0 1332.7 L1066.0 1328.8 L1068.0 1324.7 L1070.0 1320.6 L1072.0 1316.4 L1074.0 1312.0 L1076.0 1307.6 L1078.0 1303.1 L1080.0 1298.4 L1082.0 1293.6 L1084.0 1288.7 L1086.0 1283.7 L1088.0 1278.6 L1090.0 1273.3 L1092.0 1267.9 L1094.0 1262.4 L1096.0 1256.8 L1098.0 1251.0 L1100.0 1245.1 L1102.0 1239.1 L1104.0 1232.9 L1106.0 1226.6 L1108.0 1220.1 L1110.0 1213.5 L1112.0 1206.8 L1114.0 1199.9 L1116.0 1192.8 L1118.0 1185.6 L1120.0 1178.2 L1122.0 1170.7 L1124.0 1163.0 L1126.0 1155.2 L1128.0 1147.2 L1130.0 1139.1 L1132.0 1130.8 L1134.0 1122.4 L1136.0 1113.8 L1138.0 1105.1 L1140.0 1096.2 L1142.0 1087.2 L1144.0 1078.1 L1146.0 1068.8 L1148.0 1059.3 L1150.0 1049.8 L1152.0 1040.0 L1154.0 1030.2 L1156.0 1020.2 L1158.0 1010.1 L1160.0 999.8 L1162.0 989.5 L1164.0 979.0 L1166.0 968.4 L1168.0 957.7 L1170.0 947.0 L1172.0 936.2 L1174.0 925.3 L1176.0 914.4 L1178.0 903.4 L1180.0 892.4 L1182.0 881.4 L1184.0 870.4 L1186.0 859.4 L1188.0 848.4 L1190.0 837.4 L1192.0 826.5 L1194.0 815.6 L1196.0 804.7 L1198.0 794.0 L1200.0 783.3 L1202.0 772.7 L1204.0 762.1 L1205.7 753.3 L1206.0 751.7 L1208.0 741.4 L1210.0 731.3 L1212.0 721.2 L1214.0 711.3 L1216.0 701.4 L1218.0 691.2 L1220.0 680.7 L1222.0 670.0 L1222.9 665.1 L1224.0 660.4 L1226.0 652.2 L1228.0 644.8 L1230.0 637.7 L1232.0 630.6 L1234.0 623.5 L1236.0 616.4 L1238.0 609.3 L1240.0 602.3 L1242.0 595.2 L1244.0 588.1 L1244.3 587.0 L1246.0 583.2 L1248.0 578.6 L1250.0 574.1 L1252.0 569.6 L1254.0 565.1 L1256.0 560.6 L1258.0 556.0 L1260.0 551.5 L1262.0 547.0 L1262.4 546.1 L1264.0 545.0 L1266.0 543.6 L1268.0 542.1 L1270.0 540.7 L1272.0 539.3 L1274.0 537.9 L1276.0 536.5 L1278.0 535.1 L1280.0 533.7 L1280.8 533.1 L1282.0 534.1 L1284.0 535.7 L1286.0 537.3 L1288.0 539.0 L1290.0 540.6 L1292.0 542.2 L1294.0 543.8 L1296.0 545.5 L1296.8 546.1 L1298.0 548.7 L1300.0 553.0 L1302.0 557.3 L1304.0 561.7 L1306.0 566.0 L1308.0 570.3 L1310.0 574.6 L1312.0 579.0 L1312.9 580.9 L1314.0 584.3 L1316.0 590.4 L1318.0 596.6 L1320.0 602.8 L1322.0 608.9 L1324.0 615.1 L1326.0 621.2 L1327.0 624.3 L1328.0 627.9 L1330.0 635.1 L1332.0 642.3 L1334.0 649.4 L1336.0 656.6 L1338.0 663.8 L1340.0 671.0 L1342.0 678.1 L1342.9 681.3 L1344.0 685.4 L1346.0 693.0 L1348.0 700.7 L1350.0 708.6 L1352.0 716.6 L1354.0 724.5 L1356.0 732.4 L1358.0 740.4 L1360.0 748.2 L1362.0 756.1 L1362.9 759.6 L1364.0 763.9 L1366.0 771.6 L1368.0 779.3 L1370.0 787.0 L1372.0 794.6 L1374.0 802.1 L1376.0 809.6 L1378.0 817.0 L1380.0 824.4 L1382.0 831.7 L1384.0 839.0 L1386.0 846.2 L1388.0 853.3 L1390.0 860.4 L1392.0 867.5 L1394.0 874.4 L1396.0 881.4 L1398.0 888.2 L1400.0 895.0 L1402.0 901.8 L1404.0 908.5 L1406.0 915.1 L1408.0 921.7 L1410.0 928.2 L1412.0 934.7 L1414.0 941.1 L1416.0 947.4 L1418.0 953.7 L1420.0 959.9 L1422.0 966.1 L1424.0 972.2 L1426.0 978.2 L1428.0 984.2 L1430.0 990.1 L1432.0 995.9 L1434.0 1001.7 L1436.0 1007.5 L1438.0 1013.1 L1440.0 1018.7 L1442.0 1024.3 L1444.0 1029.7 L1446.0 1035.2 L1448.0 1040.5 L1450.0 1045.8 L1452.0 1051.0 L1454.0 1056.2 L1456.0 1061.3 L1458.0 1066.3 L1460.0 1071.2 L1462.0 1076.1 L1464.0 1081.0 L1466.0 1085.7 L1468.0 1090.4 L1470.0 1095.0 L1472.0 1099.6 L1474.0 1104.1 L1476.0 1108.5 L1478.0 1112.9 L1480.0 1117.2 L1482.0 1121.4 L1484.0 1125.5 L1486.0 1129.6 L1488.0 1133.6 L1490.0 1137.6 L1492.0 1141.5 L1494.0 1145.3 L1496.0 1149.0 L1498.0 1152.7 L1500.0 1156.3 L1502.0 1159.8 L1504.0 1163.2 L1506.0 1166.6 L1508.0 1170.0 L1510.0 1173.2 L1512.0 1176.4 L1514.0 1179.6 L1516.0 1182.6 L1518.0 1185.6 L1520.0 1188.6 L1522.0 1191.5 L1524.0 1194.3 L1526.0 1197.1 L1528.0 1199.8 L1530.0 1202.5 L1532.0 1205.1 L1534.0 1207.7 L1536.0 1210.2 L1538.0 1212.6 L1540.0 1215.0 L1542.0 1217.4 L1544.0 1219.7 L1546.0 1222.0 L1548.0 1224.2 L1550.0 1226.4 L1552.0 1228.5 L1554.0 1230.6 L1556.0 1232.6 L1558.0 1234.6 L1560.0 1236.6 L1562.0 1238.5 L1564.0 1240.4 L1566.0 1242.3 L1568.0 1244.1 L1570.0 1245.9 L1572.0 1247.6 L1574.0 1249.3 L1576.0 1251.0 L1578.0 1252.7 L1580.0 1254.3 L1582.0 1255.9 L1584.0 1257.5 L1586.0 1259.0 L1588.0 1260.5 L1590.0 1262.0 L1592.0 1263.5 L1594.0 1264.9 L1596.0 1266.4 L1598.0 1267.8 L1600.0 1269.2 L1602.0 1270.5 L1604.0 1271.9 L1606.0 1273.2 L1608.0 1274.5 L1610.0 1275.8 L1612.0 1277.1 L1614.0 1278.4 L1616.0 1279.6 L1618.0 1280.9 L1620.0 1282.1 L1622.0 1283.3 L1624.0 1284.5 L1626.0 1285.7 L1628.0 1286.9 L1630.0 1288.0 L1632.0 1289.2 L1634.0 1290.3 L1636.0 1291.4 L1638.0 1292.6 L1640.0 1293.6 L1642.0 1294.7 L1644.0 1295.8 L1646.0 1296.9 L1648.0 1297.9 L1650.0 1298.9 L1652.0 1300.0 L1654.0 1301.0 L1656.0 1302.0 L1658.0 1302.9 L1660.0 1303.9 L1662.0 1304.9 L1664.0 1305.8 L1666.0 1306.8 L1668.0 1307.7 L1670.0 1308.6 L1672.0 1309.5 L1674.0 1310.4 L1676.0 1311.3 L1678.0 1312.2 L1680.0 1313.1 L1682.0 1313.9 L1684.0 1314.8 L1686.0 1315.6 L1688.0 1316.5 L1690.0 1317.3 L1692.0 1318.1 L1694.0 1318.9 L1696.0 1319.7 L1698.0 1320.5 L1700.0 1321.3 L1702.0 1322.0 L1704.0 1322.8 L1706.0 1323.5 L1708.0 1324.3 L1710.0 1325.0 L1712.0 1325.8 L1714.0 1326.5 L1716.0 1327.2 L1718.0 1327.9 L1720.0 1328.6 L1722.0 1329.3 L1724.0 1330.0 L1726.0 1330.7 L1728.0 1331.3 L1730.0 1332.0 L1732.0 1332.7 L1734.0 1333.3 L1736.0 1334.0 L1738.0 1334.6 L1740.0 1335.2 L1742.0 1335.9 L1744.0 1336.5 L1746.0 1337.1 L1748.0 1337.7 L1750.0 1338.4 L1752.0 1339.0 L1754.0 1339.6 L1756.0 1340.2 L1758.0 1340.8 L1760.0 1341.3 L1762.0 1341.9 L1764.0 1342.5 L1766.0 1343.1 L1768.0 1343.7 L1770.0 1344.2 L1772.0 1344.8 L1774.0 1345.4 L1776.0 1345.9 L1778.0 1346.5 L1780.0 1347.0 L1782.0 1347.6 L1784.0 1348.1 L1786.0 1348.7 L1788.0 1349.2 L1790.0 1349.8 L1792.0 1350.3 L1794.0 1350.9 L1796.0 1351.4 L1798.0 1351.9 L1800.0 1352.5 L1802.0 1353.0 L1804.0 1353.5 L1806.0 1354.1 L1808.0 1354.6 L1810.0 1355.1 L1812.0 1355.6 L1814.0 1356.1 L1816.0 1356.7 L1818.0 1357.2 L1820.0 1357.7 L1822.0 1358.2 L1824.0 1358.7 L1826.0 1359.2 L1828.0 1359.7 L1830.0 1360.2 L1832.0 1360.8 L1834.0 1361.3 L1836.0 1361.8 L1838.0 1362.3 L1840.0 1362.8 L1842.0 1363.3 L1844.0 1363.7 L1846.0 1364.2 L1848.0 1364.7 L1850.0 1365.2 L1852.0 1365.7 L1854.0 1366.2 L1856.0 1366.7 L1858.0 1367.2 L1860.0 1367.6 L1862.0 1368.1 L1864.0 1368.6 L1866.0 1369.1 L1868.0 1369.5 L1870.0 1370.0 L1872.0 1370.5 L1874.0 1370.9 L1876.0 1371.4 L1878.0 1371.9 L1880.0 1372.3 L1882.0 1372.8 L1884.0 1373.3 L1886.0 1373.7 L1888.0 1374.2 L1890.0 1374.6 L1892.0 1375.1 L1894.0 1375.5 L1896.0 1376.0 L1898.0 1376.4 L1900.0 1376.9 L1902.0 1377.3 L1904.0 1377.7 L1906.0 1378.2 L1908.0 1378.6 L1910.0 1379.1 L1912.0 1379.5 L1914.0 1379.9 L1916.0 1380.3 L1918.0 1380.8 L1920.0 1381.2 L1922.0 1381.6 L1924.0 1382.1 L1926.0 1382.5 L1928.0 1382.9 L1930.0 1383.3 L1932.0 1383.7 L1934.0 1384.1 L1936.0 1384.6 L1938.0 1385.0 L1940.0 1385.4 L1942.0 1385.8 L1944.0 1386.2 L1946.0 1386.6 L1948.0 1387.0 L1950.0 1387.4 L1952.0 1387.8 L1954.0 1388.2 L1956.0 1388.6 L1958.0 1389.0 L1960.0 1389.4 L1962.0 1389.8 L1964.0 1390.2 L1966.0 1390.5 L1968.0 1390.9 L1970.0 1391.3 L1972.0 1391.7 L1974.0 1392.1 L1976.0 1392.5 L1978.0 1392.8 L1980.0 1393.2 L1982.0 1393.6 L1984.0 1394.0 L1986.0 1394.3 L1988.0 1394.7 L1990.0 1395.1 L1992.0 1395.4 L1994.0 1395.8 L1996.0 1396.2 L1998.0 1396.5 L2000.0 1396.9 L2002.0 1397.2 L2004.0 1397.6 L2006.0 1397.9 L2008.0 1398.3 L2010.0 1398.6 L2012.0 1399.0 L2014.0 1399.3 L2016.0 1399.7 L2018.0 1400.0 L2020.0 1400.4 L2022.0 1400.7 L2024.0 1401.1 L2026.0 1401.4 L2028.0 1401.7 L2030.0 1402.1 L2032.0 1402.4 L2034.0 1402.7 L2036.0 1403.0 L2038.0 1403.4 L2040.0 1403.7 L2042.0 1404.0 L2044.0 1404.3 L2046.0 1404.7 L2048.0 1405.0 L2050.0 1405.3 L2052.0 1405.6 L2054.0 1405.9 L2056.0 1406.2 L2058.0 1406.6 L2060.0 1406.9 L2062.0 1407.2 L2064.0 1407.5 L2066.0 1407.8 L2068.0 1408.1 L2070.0 1408.4 L2072.0 1408.7 L2074.0 1409.0 L2076.0 1409.3 L2078.0 1409.6 L2080.0 1409.9 L2082.0 1410.2 L2084.0 1410.5 L2086.0 1410.7 L2088.0 1411.0 L2090.0 1411.3 L2092.0 1411.6 L2094.0 1411.9 L2096.0 1412.2 L2098.0 1412.4 L2100.0 1412.7 L2102.0 1413.0 L2104.0 1413.3 L2106.0 1413.5 L2108.0 1413.8 L2110.0 1414.1 L2112.0 1414.3 L2114.0 1414.6 L2116.0 1414.9 L2118.0 1415.1 L2120.0 1415.4 L2122.0 1415.7 L2124.0 1415.9 L2126.0 1416.2 L2128.0 1416.4 L2130.0 1416.7 L2132.0 1416.9 L2134.0 1417.2 L2136.0 1417.4 L2138.0 1417.7 L2140.0 1417.9 L2142.0 1418.2 L2144.0 1418.4 L2146.0 1418.7 L2148.0 1418.9 L2150.0 1419.1 L2152.0 1419.4 L2154.0 1419.6 L2156.0 1419.8 L2158.0 1420.1 L2160.0 1420.3 L2162.0 1420.5 L2164.0 1420.8 L2166.0 1421.0 L2168.0 1421.2 L2170.0 1421.4 L2172.0 1421.6 L2174.0 1421.9 L2176.0 1422.1 L2178.0 1422.3 L2180.0 1422.5 L2182.0 1422.7 L2184.0 1422.9 L2186.0 1423.1 L2188.0 1423.4 L2190.0 1423.6 L2192.0 1423.8 L2194.0 1424.0 L2196.0 1424.2 L2198.0 1424.4 L2200.0 1424.6 L2202.0 1424.8 L2204.0 1425.0 L2206.0 1425.2 L2208.0 1425.4 L2210.0 1425.5 L2212.0 1425.7 L2214.0 1425.9 L2216.0 1426.1 L2218.0 1426.3 L2220.0 1426.5 L2222.0 1426.7 L2224.0 1426.8 L2226.0 1427.0 L2228.0 1427.2 L2230.0 1427.4 L2232.0 1427.6 L2234.0 1427.7 L2236.0 1427.9 L2238.0 1428.1 L2240.0 1428.2 L2242.0 1428.4 L2244.0 1428.6 L2246.0 1428.7 L2248.0 1428.9 L2250.0 1429.1 L2252.0 1429.2 L2254.0 1429.4 L2256.0 1429.5 L2258.0 1429.7 L2260.0 1429.9" stroke="#b668c2"/>
<path d="M360.0 1538.4 L362.0 1538.4 L364.0 1538.5 L366.0 1538.5 L368.0 1538.6 L370.0 1538.7 L372.0 1538.8 L374.0 1538.9 L376.0 1539.0 L378.0 1539.1 L380.0 1539.3 L382.0 1539.4 L384.0 1539.6 L386.0 1539.8 L388.0 1540.0 L390.0 1540.2 L392.0 1540.4 L394.0 1540.6 L396.0 1540.8 L398.0 1541.0 L400.0 1541.2 L402.0 1541.5 L404.0 1541.7 L406.0 1541.9 L408.0 1542.1 L410.0 1542.4 L412.0 1542.6 L414.0 1542.8 L416.0 1543.0 L418.0 1543.2 L420.0 1543.4 L422.0 1543.6 L424.0 1543.8 L426.0 1544.0 L428.0 1544.2 L430.0 1544.3 L432.0 1544.5 L434.0 1544.6 L436.0 1544.7 L438.0 1544.9 L440.0 1545.0 L442.0 1545.0 L444.0 1545.1 L446.0 1545.2 L448.0 1545.2 L450.0 1545.2 L452.0 1545.2 L454.0 1545.2 L456.0 1545.2 L458.0 1545.1 L460.0 1545.1 L462.0 1545.0 L464.0 1544.9 L466.0 1544.8 L468.0 1544.7 L470.0 1544.6 L472.0 1544.5 L474.0 1544.3 L476.0 1544.2 L478.0 1544.1 L480.0 1543.9 L482.0 1543.8 L484.0 1543.6 L486.0 1543.4 L488.0 1543.3 L490.0 1543.1 L492.0 1542.9 L494.0 1542.7 L496.0 1542.6 L498.0 1542.4 L500.0 1542.2 L502.0 1542.1 L504.0 1541.9 L506.0 1541.7 L508.0 1541.6 L510.0 1541.4 L512.0 1541.2 L514.0 1541.1 L516.0 1540.9 L518.0 1540.8 L520.0 1540.6 L522.0 1540.5 L524.0 1540.3 L526.0 1540.2 L528.0 1540.1 L530.0 1539.9 L532.0 1539.8 L534.0 1539.7 L536.0 1539.5 L538.0 1539.4 L540.0 1539.3 L542.0 1539.2 L544.0 1539.1 L546.0 1538.9 L548.0 1538.8 L550.0 1538.7 L552.0 1538.6 L554.0 1538.5 L556.0 1538.4 L558.0 1538.3 L560.0 1538.2 L562.0 1538.1 L564.0 1538.0 L566.0 1537.9 L568.0 1537.8 L570.0 1537.7 L572.0 1537.6 L574.0 1537.6 L576.0 1537.5 L578.0 1537.4 L580.0 1537.3 L582.0 1537.2 L584.0 1537.1 L586.0 1537.1 L588.0 1537.0 L590.0 1536.9 L592.0 1536.9 L594.0 1536.8 L596.0 1536.7 L598.0 1536.7 L600.0 1536.6 L602.0 1536.5 L604.0 1536.5 L606.0 1536.4 L608.0 1536.3 L610.0 1536.3 L612.0 1536.2 L614.0 1536.2 L616.0 1536.1 L618.0 1536.1 L620.0 1536.0 L622.0 1536.0 L624.0 1535.9 L626.0 1535.9 L628.0 1535.8 L630.0 1535.8 L632.0 1535.7 L634.0 1535.7 L636.0 1535.6 L638.0 1535.6 L640.0 1535.6 L642.0 1535.5 L644.0 1535.5 L646.0 1535.5 L648.0 1535.4 L650.0 1535.4 L652.0 1535.3 L654.0 1535.3 L656.0 1535.3 L658.0 1535.2 L660.0 1535.2 L662.0 1535.2 L664.0 1535.1 L666.0 1535.1 L668.0 1535.1 L670.0 1535.1 L672.0 1535.0 L674.0 1535.0 L676.0 1535.0 L678.0 1534.9 L680.0 1534.9 L682.0 1534.9 L684.0 1534.9 L686.0 1534.8 L688.0 1534.8 L690.0 1534.8 L692.0 1534.8 L694.0 1534.7 L696.0 1534.7 L698.0 1534.7 L700.0 1534.6 L702.0 1534.6 L704.0 1534.6 L706.0 1534.6 L708.0 1534.5 L710.0 1534.5 L712.0 1534.5 L714.0 1534.4 L716.0 1534.4 L718.0 1534.4 L720.0 1534.4 L722.0 1534.3 L724.0 1534.3 L726.0 1534.3 L728.0 1534.2 L730.0 1534.2 L732.0 1534.2 L734.0 1534.1 L736.0 1534.1 L738.0 1534.0 L740.0 1534.0 L742.0 1534.0 L744.0 1533.9 L746.0 1533.9 L748.0 1533.8 L750.0 1533.8 L752.0 1533.7 L754.0 1533.7 L756.0 1533.6 L758.0 1533.6 L760.0 1533.5 L762.0 1533.5 L764.0 1533.4 L766.0 1533.4 L768.0 1533.3 L770.0 1533.2 L772.0 1533.2 L774.0 1533.1 L776.0 1533.1 L778.0 1533.0 L780.0 1532.9 L782.0 1532.8 L784.0 1532.8 L786.0 1532.7 L788.0 1532.6 L790.0 1532.5 L792.0 1532.5 L794.0 1532.4 L796.0 1532.3 L798.0 1532.2 L800.0 1532.1 L802.0 1532.0 L804.0 1531.9 L806.0 1531.8 L808.0 1531.7 L810.0 1531.6 L812.0 1531.5 L814.0 1531.4 L816.0 1531.3 L818.0 1531.2 L820.0 1531.0 L822.0 1530.9 L824.0 1530.8 L826.0 1530.7 L828.0 1530.5 L830.0 1530.4 L832.0 1530.3 L834.0 1530.1 L836.0 1530.0 L838.0 1529.9 L840.0 1529.7 L842.0 1529.6 L844.0 1529.4 L846.0 1529.2 L848.0 1529.1 L850.0 1528.9 L852.0 1528.8 L854.0 1528.6 L856.0 1528.4 L858.0 1528.2 L860.0 1528.0 L862.0 1527.9 L864.0 1527.7 L866.0 1527.5 L868.0 1527.3 L870.0 1527.1 L872.0 1526.9 L874.0 1526.7 L876.0 1526.5 L878.0 1526.2 L880.0 1526.0 L882.0 1525.8 L884.0 1525.6 L886.0 1525.3 L888.0 1525.1 L890.0 1524.8 L892.0 1524.6 L894.0 1524.4 L896.0 1524.1 L898.0 1523.8 L900.0 1523.6 L902.0 1523.3 L904.0 1523.0 L906.0 1522.8 L908.0 1522.5 L910.0 1522.2 L912.0 1521.9 L914.0 1521.6 L916.0 1521.3 L918.0 1521.0 L920.0 1520.7 L922.0 1520.4 L924.0 1520.0 L926.0 1519.7 L928.0 1519.4 L930.0 1519.0 L932.0 1518.7 L934.0 1518.3 L936.0 1518.0 L938.0 1517.6 L940.0 1517.3 L942.0 1516.9 L944.0 1516.5 L946.0 1516.1 L948.0 1515.7 L950.0 1515.3 L952.0 1514.8 L954.0 1514.4 L956.0 1513.9 L958.0 1513.4 L960.0 1512.9 L962.0 1512.4 L964.0 1511.8 L966.0 1511.3 L968.0 1510.7 L970.0 1510.1 L972.0 1509.5 L974.0 1508.8 L976.0 1508.1 L978.0 1507.4 L980.0 1506.7 L982.0 1505.9 L984.0 1505.2 L986.0 1504.4 L988.0 1503.5 L990.0 1502.6 L992.0 1501.7 L994.0 1500.8 L996.0 1499.8 L998.0 1498.8 L1000.0 1497.8 L1002.0 1496.7 L1004.0 1495.6 L1006.0 1494.4 L1008.0 1493.2 L1010.0 1492.0 L1012.0 1490.7 L1014.0 1489.4 L1016.0 1488.0 L1018.0 1486.6 L1020.0 1485.1 L1022.0 1483.7 L1024.0 1482.1 L1026.0 1480.5 L1028.0 1478.9 L1030.0 1477.2 L1032.0 1475.4 L1034.0 1473.6 L1036.0 1471.8 L1038.0 1469.9 L1040.0 1468.0 L1042.0 1465.9 L1044.0 1463.9 L1046.0 1461.8 L1048.0 1459.6 L1050.0 1457.4 L1052.0 1455.1 L1054.0 1452.7 L1056.0 1450.3 L1058.0 1447.8 L1060.0 1445.3 L1062.0 1442.6 L1064.0 1440.0 L1066.0 1437.2 L1068.0 1434.4 L1070.0 1431.5 L1072.0 1428.5 L1074.0 1425.5 L1076.0 1422.4 L1078.0 1419.2 L1080.0 1415.9 L1082.0 1412.6 L1084.0 1409.1 L1086.0 1405.6 L1088.0 1402.0 L1090.0 1398.3 L1092.0 1394.5 L1094.0 1390.7 L1096.0 1386.7 L1098.0 1382.6 L1100.0 1378.5 L1102.0 1374.3 L1104.0 1369.9 L1106.0 1365.5 L1108.0 1360.9 L1110.0 1356.3 L1112.0 1351.6 L1114.0 1346.7 L1116.0 1341.7 L1118.0 1336.7 L1120.0 1331.5 L1122.0 1326.1 L1124.0 1320.7 L1126.0 1315.1 L1128.0 1309.4 L1130.0 1303.5 L1132.0 1297.5 L1134.0 1291.4 L1136.0 1285.1 L1138.0 1278.6 L1140.0 1272.0 L1142.0 1265.2 L1144.0 1258.3 L1146.0 1251.2 L1148.0 1243.9 L1150.0 1236.4 L1152.0 1228.8 L1154.0 1220.9 L1156.0 1212.9 L1158.0 1204.6 L1160.0 1196.2 L1162.0 1187.6 L1164.0 1178.8 L1166.0 1169.8 L1168.0 1160.6 L1170.0 1151.3 L1172.0 1141.8 L1174.0 1132.1 L1176.0 1122.3 L1178.0 1112.4 L1180.0 1102.3 L1182.0 1092.1 L1184.0 1081.7 L1186.0 1071.2 L1188.0 1060.6 L1190.0 1049.9 L1192.0 1039.1 L1194.0 1028.2 L1196.0 1017.2 L1198.0 1006.0 L1200.0 994.9 L1202.0 983.6 L1204.0 972.2 L1206.0 960.8 L1208.0 949.3 L1210.0 937.8 L1212.0 926.2 L1214.0 914.6 L1216.0 902.9 L1218.0 891.2 L1220.0 879.4 L1222.0 867.7 L1224.0 855.9 L1226.0 844.1 L1228.0 832.3 L1230.0 820.5 L1232.0 808.7 L1234.0 796.9 L1236.0 785.1 L1238.0 773.3 L1240.0 761.6 L1242.0 749.9 L1244.0 738.2 L1246.0 726.6 L1248.0 715.0 L1250.0 703.4 L1252.0 692.0 L1254.0 680.6 L1256.0 669.2 L1258.0 658.0 L1260.0 646.8 L1262.0 635.7 L1264.0 624.7 L1266.0 613.8 L1268.0 603.0 L1270.0 592.4 L1272.0 581.9 L1274.0 571.6 L1276.0 561.3 L1278.0 551.3 L1280.0 541.4 L1282.0 531.7 L1284.0 522.2 L1286.0 512.9 L1288.0 503.8 L1290.0 495.0 L1292.0 486.3 L1294.0 477.9 L1296.0 469.7 L1298.0 461.8 L1300.0 454.1 L1302.0 446.7 L1304.0 439.6 L1306.0 432.8 L1308.0 426.2 L1310.0 420.0 L1312.0 414.1 L1314.0 408.5 L1316.0 403.2 L1318.0 398.3 L1320.0 393.7 L1322.0 389.4 L1324.0 385.5 L1326.0 381.9 L1328.0 378.7 L1330.0 375.8 L1332.0 373.2 L1334.0 371.0 L1336.0 369.2 L1338.0 367.6 L1340.0 366.5 L1342.0 365.7 L1344.0 365.2 L1346.0 365.1 L1348.0 365.3 L1350.0 365.9 L1352.0 366.8 L1354.0 368.1 L1356.0 369.7 L1358.0 371.6 L1360.0 373.9 L1362.0 376.4 L1364.0 379.3 L1366.0 382.5 L1368.0 385.9 L1370.0 389.7 L1372.0 393.7 L1374.0 398.0 L1376.0 402.6 L1378.0 407.5 L1380.0 412.6 L1382.0 417.9 L1384.0 423.5 L1386.0 429.4 L1388.0 435.5 L1390.0 441.8 L1392.0 448.3 L1394.0 455.1 L1396.0 462.0 L1398.0 469.2 L1400.0 476.6 L1402.0 484.1 L1404.0 491.8 L1406.0 499.7 L1408.0 507.7 L1410.0 515.9 L1412.0 524.3 L1414.0 532.8 L1416.0 541.3 L1418.0 550.1 L1420.0 558.9 L1422.0 567.8 L1424.0 576.8 L1426.0 585.9 L1428.0 595.0 L1430.0 604.3 L1432.0 613.5 L1434.0 622.9 L1436.0 632.2 L1438.0 641.6 L1440.0 651.0 L1442.0 660.4 L1444.0 669.9 L1446.0 679.3 L1448.0 688.7 L1450.0 698.1 L1452.0 707.4 L1454.0 716.7 L1456.0 726.0 L1458.0 735.2 L1460.0 744.4 L1462.0 753.5 L1464.0 762.6 L1466.0 771.6 L1468.0 780.5 L1470.0 789.4 L1472.0 798.3 L1474.0 807.0 L1476.0 815.7 L1478.0 824.3 L1480.0 832.9 L1482.0 841.3 L1484.0 849.7 L1486.0 858.0 L1488.0 866.2 L1490.0 874.3 L1492.0 882.3 L1494.0 890.3 L1496.0 898.1 L1498.0 905.8 L1500.0 913.4 L1502.0 920.9 L1504.0 928.3 L1506.0 935.6 L1508.0 942.8 L1510.0 949.8 L1512.0 956.7 L1514.0 963.5 L1516.0 970.2 L1518.0 976.7 L1520.0 983.2 L1522.0 989.5 L1524.0 995.7 L1526.0 1001.7 L1528.0 1007.7 L1530.0 1013.6 L1532.0 1019.4 L1534.0 1025.0 L1536.0 1030.6 L1538.0 1036.1 L1540.0 1041.5 L1542.0 1046.8 L1544.0 1052.0 L1546.0 1057.1 L1548.0 1062.2 L1550.0 1067.1 L1552.0 1072.1 L1554.0 1076.9 L1556.0 1081.7 L1558.0 1086.4 L1560.0 1091.0 L1562.0 1095.6 L1564.0 1100.1 L1566.0 1104.5 L1568.0 1108.9 L1570.0 1113.2 L1572.0 1117.5 L1574.0 1121.7 L1576.0 1125.8 L1578.0 1129.9 L1580.0 1133.9 L1582.0 1137.8 L1584.0 1141.7 L1586.0 1145.5 L1588.0 1149.3 L1590.0 1153.0 L1592.0 1156.6 L1594.0 1160.2 L1596.0 1163.7 L1598.0 1167.1 L1600.0 1170.5 L1602.0 1173.8 L1604.0 1177.1 L1606.0 1180.3 L1608.0 1183.4 L1610.0 1186.5 L1612.0 1189.5 L1614.0 1192.4 L1616.0 1195.3 L1618.0 1198.2 L1620.0 1200.9 L1622.0 1203.6 L1624.0 1206.3 L1626.0 1208.8 L1628.0 1211.4 L1630.0 1213.8 L1632.0 1216.2 L1634.0 1218.6 L1636.0 1220.9 L1638.0 1223.2 L1640.0 1225.4 L1642.0 1227.6 L1644.0 1229.7 L1646.0 1231.8 L1648.0 1233.8 L1650.0 1235.8 L1652.0 1237.8 L1654.0 1239.7 L1656.0 1241.6 L1658.0 1243.5 L1660.0 1245.3 L1662.0 1247.1 L1664.0 1248.9 L1666.0 1250.7 L1668.0 1252.4 L1670.0 1254.1 L1672.0 1255.7 L1674.0 1257.4 L1676.0 1259.0 L1678.0 1260.6 L1680.0 1262.2 L1682.0 1263.7 L1684.0 1265.3 L1686.0 1266.8 L1688.0 1268.3 L1690.0 1269.7 L1692.0 1271.2 L1694.0 1272.6 L1696.0 1274.0 L1698.0 1275.4 L1700.0 1276.7 L1702.0 1278.1 L1704.0 1279.4 L1706.0 1280.7 L1708.0 1282.0 L1710.0 1283.2 L1712.0 1284.5 L1714.0 1285.7 L1716.0 1286.9 L1718.0 1288.1 L1720.0 1289.3 L1722.0 1290.5 L1724.0 1291.6 L1726.0 1292.8 L1728.0 1293.9 L1730.0 1295.0 L1732.0 1296.1 L1734.0 1297.2 L1736.0 1298.3 L1738.0 1299.3 L1740.0 1300.4 L1742.0 1301.4 L1744.0 1302.4 L1746.0 1303.4 L1748.0 1304.4 L1750.0 1305.4 L1752.0 1306.4 L1754.0 1307.4 L1756.0 1308.3 L1758.0 1309.3 L1760.0 1310.2 L1762.0 1311.2 L1764.0 1312.1 L1766.0 1313.0 L1768.0 1314.0 L1770.0 1314.9 L1772.0 1315.8 L1774.0 1316.7 L1776.0 1317.6 L1778.0 1318.5 L1780.0 1319.3 L1782.0 1320.2 L1784.0 1321.1 L1786.0 1321.9 L1788.0 1322.8 L1790.0 1323.6 L1792.0 1324.5 L1794.0 1325.3 L1796.0 1326.1 L1798.0 1326.9 L1800.0 1327.8 L1802.0 1328.6 L1804.0 1329.4 L1806.0 1330.2 L1808.0 1331.0 L1810.0 1331.7 L1812.0 1332.5 L1814.0 1333.3 L1816.0 1334.0 L1818.0 1334.8 L1820.0 1335.6 L1822.0 1336.3 L1824.0 1337.1 L1826.0 1337.8 L1828.0 1338.5 L1830.0 1339.2 L1832.0 1340.0 L1834.0 1340.7 L1836.0 1341.4 L1838.0 1342.1 L1840.0 1342.8 L1842.0 1343.5 L1844.0 1344.2 L1846.0 1344.9 L1848.0 1345.5 L1850.0 1346.2 L1852.0 1346.9 L1854.0 1347.5 L1856.0 1348.2 L1858.0 1348.9 L1860.0 1349.5 L1862.0 1350.2 L1864.0 1350.8 L1866.0 1351.4 L1868.0 1352.1 L1870.0 1352.7 L1872.0 1353.3 L1874.0 1353.9 L1876.0 1354.5 L1878.0 1355.1 L1880.0 1355.7 L1882.0 1356.3 L1884.0 1356.9 L1886.0 1357.5 L1888.0 1358.1 L1890.0 1358.7 L1892.0 1359.3 L1894.0 1359.8 L1896.0 1360.4 L1898.0 1361.0 L1900.0 1361.5 L1902.0 1362.1 L1904.0 1362.6 L1906.0 1363.2 L1908.0 1363.7 L1910.0 1364.3 L1912.0 1364.8 L1914.0 1365.4 L1916.0 1365.9 L1918.0 1366.4 L1920.0 1367.0 L1922.0 1367.5 L1924.0 1368.0 L1926.0 1368.5 L1928.0 1369.0 L1930.0 1369.5 L1932.0 1370.0 L1934.0 1370.5 L1936.0 1371.0 L1938.0 1371.5 L1940.0 1372.0 L1942.0 1372.5 L1944.0 1373.0 L1946.0 1373.5 L1948.0 1374.0 L1950.0 1374.5 L1952.0 1374.9 L1954.0 1375.4 L1956.0 1375.9 L1958.0 1376.3 L1960.0 1376.8 L1962.0 1377.3 L1964.0 1377.7 L1966.0 1378.2 L1968.0 1378.7 L1970.0 1379.1 L1972.0 1379.6 L1974.0 1380.0 L1976.0 1380.5 L1978.0 1380.9 L1980.0 1381.3 L1982.0 1381.8 L1984.0 1382.2 L1986.0 1382.7 L1988.0 1383.1 L1990.0 1383.5 L1992.0 1384.0 L1994.0 1384.4 L1996.0 1384.8 L1998.0 1385.3 L2000.0 1385.7 L2002.0 1386.1 L2004.0 1386.5 L2006.0 1386.9 L2008.0 1387.4 L2010.0 1387.8 L2012.0 1388.2 L2014.0 1388.6 L2016.0 1389.0 L2018.0 1389.4 L2020.0 1389.8 L2022.0 1390.3 L2024.0 1390.7 L2026.0 1391.1 L2028.0 1391.5 L2030.0 1391.9 L2032.0 1392.3 L2034.0 1392.7 L2036.0 1393.1 L2038.0 1393.5 L2040.0 1393.9 L2042.0 1394.2 L2044.0 1394.6 L2046.0 1395.0 L2048.0 1395.4 L2050.0 1395.8 L2052.0 1396.2 L2054.0 1396.6 L2056.0 1396.9 L2058.0 1397.3 L2060.0 1397.7 L2062.0 1398.1 L2064.0 1398.5 L2066.0 1398.8 L2068.0 1399.2 L2070.0 1399.6 L2072.0 1399.9 L2074.0 1400.3 L2076.0 1400.7 L2078.0 1401.0 L2080.0 1401.4 L2082.0 1401.8 L2084.0 1402.1 L2086.0 1402.5 L2088.0 1402.8 L2090.0 1403.2 L2092.0 1403.5 L2094.0 1403.9 L2096.0 1404.2 L2098.0 1404.6 L2100.0 1404.9 L2102.0 1405.3 L2104.0 1405.6 L2106.0 1406.0 L2108.0 1406.3 L2110.0 1406.7 L2112.0 1407.0 L2114.0 1407.3 L2116.0 1407.7 L2118.0 1408.0 L2120.0 1408.3 L2122.0 1408.7 L2124.0 1409.0 L2126.0 1409.3 L2128.0 1409.6 L2130.0 1410.0 L2132.0 1410.3 L2134.0 1410.6 L2136.0 1410.9 L2138.0 1411.3 L2140.0 1411.6 L2142.0 1411.9 L2144.0 1412.2 L2146.0 1412.5 L2148.0 1412.8 L2150.0 1413.1 L2152.0 1413.4 L2154.0 1413.8 L2156.0 1414.1 L2158.0 1414.4 L2160.0 1414.7 L2162.0 1415.0 L2164.0 1415.3 L2166.0 1415.6 L2168.0 1415.9 L2170.0 1416.2 L2172.0 1416.5 L2174.0 1416.8 L2176.0 1417.0 L2178.0 1417.3 L2180.0 1417.6 L2182.0 1417.9 L2184.0 1418.2 L2186.0 1418.5 L2188.0 1418.8 L2190.0 1419.0 L2192.0 1419.3 L2194.0 1419.6 L2196.0 1419.9 L2198.0 1420.2 L2200.0 1420.4 L2202.0 1420.7 L2204.0 1421.0 L2206.0 1421.3 L2208.0 1421.5 L2210.0 1421.8 L2212.0 1422.1 L2214.0 1422.3 L2216.0 1422.6 L2218.0 1422.9 L2220.0 1423.1 L2222.0 1423.4 L2224.0 1423.6 L2226.0 1423.9 L2228.0 1424.2 L2230.0 1424.4 L2232.0 1424.7 L2234.0 1424.9 L2236.0 1425.2 L2238.0 1425.4 L2240.0 1425.7 L2242.0 1425.9 L2244.0 1426.2 L2246.0 1426.4 L2248.0 1426.6 L2250.0 1426.9 L2252.0 1427.1 L2254.0 1427.4 L2256.0 1427.6 L2258.0 1427.8 L2260.0 1428.1" stroke="#8e7168"/>
</g>
<g text-anchor="middle">
<text x="368.3" y="1723.5">350</text>
<text x="637.8" y="1723.5">375</text>
<text x="907.4" y="1723.5">400</text>
<text x="1176.9" y="1723.5">425</text>
<text x="1446.4" y="1723.5">450</text>
<text x="1716.0" y="1723.5">475</text>
<text x="1985.5" y="1723.5">500</text>
<text x="2255.1" y="1723.5">525</text>
</g>
<g text-anchor="end">
<text class="b" text-anchor="start" transform="translate(161.9 1663.0) scale(0.856 1.500)">−</text>
<text x="338.0" y="1643.5">1.0</text>
<text class="b" text-anchor="start" transform="translate(161.9 1510.8) scale(0.856 1.500)">−</text>
<text x="338.0" y="1491.2">0.5</text>
<text x="338.0" y="1339.0">0.0</text>
<text x="338.0" y="1186.8">0.5</text>
<text x="338.0" y="1034.5">1.0</text>
<text x="338.0" y="882.2">1.5</text>
<text x="338.0" y="730.0">2.0</text>
<text x="338.0" y="577.8">2.5</text>
<text x="338.0" y="425.5">3.0</text>
<text x="338.0" y="273.2">3.5</text>
<text x="338.0" y="121.0">4.0</text>
</g>
<text class="b" text-anchor="middle" style="font-size:102.6px" x="1314.0" y="1888.0">Temperature/ K</text>
<g class="b" transform="translate(138.5 845.0) rotate(-90)">
<text id="yl" text-anchor="end" x="345.8" style="font-size:101.9px">Heat flow/ mw<tspan dx="-4.2">·</tspan><tspan dx="-4.2">mg</tspan></text>
<text id="ylm" style="font-size:101.9px" transform="translate(344.5 -11.2) scale(1.030 1.500)">−</text>
<text id="yl1" x="398.5" y="-32.0" style="font-size:101.9px">1</text>
</g>
<text transform="translate(505.0 399.7) rotate(-90)">Exo<tspan style="font-size:155.0px" dx="-28.4" dy="0.0">→</tspan></text>
<g stroke-width="11.0" stroke-linecap="round" fill="none">
<path d="M1656.5 193.5 H1814.0" stroke="#f1685e"/>
<path d="M1656.5 317.5 H1814.0" stroke="#fdae33"/>
<path d="M1656.5 441.6 H1814.0" stroke="#fed95c"/>
<path d="M1656.5 565.6 H1814.0" stroke="#00bf7d"/>
<path d="M1656.5 689.6 H1814.0" stroke="#464e9e"/>
<path d="M1656.5 813.6 H1814.0" stroke="#00aee4"/>
<path d="M1656.5 937.7 H1814.0" stroke="#b668c2"/>
<path d="M1656.5 1061.7 H1814.0" stroke="#8e7168"/>
</g>
<text x="1837.0" y="221.0">1K/min</text>
<text x="1837.0" y="345.0">2K/min</text>
<text x="1837.0" y="469.1">3K/min</text>
<text x="1837.0" y="593.1">4K/min</text>
<text x="1837.0" y="717.1">5K/min</text>
<text x="1837.0" y="841.1">10K/min</text>
<text x="1837.0" y="965.2">15K/min</text>
<text x="1837.0" y="1089.2">20K/min</text>
</svg></body></html>
